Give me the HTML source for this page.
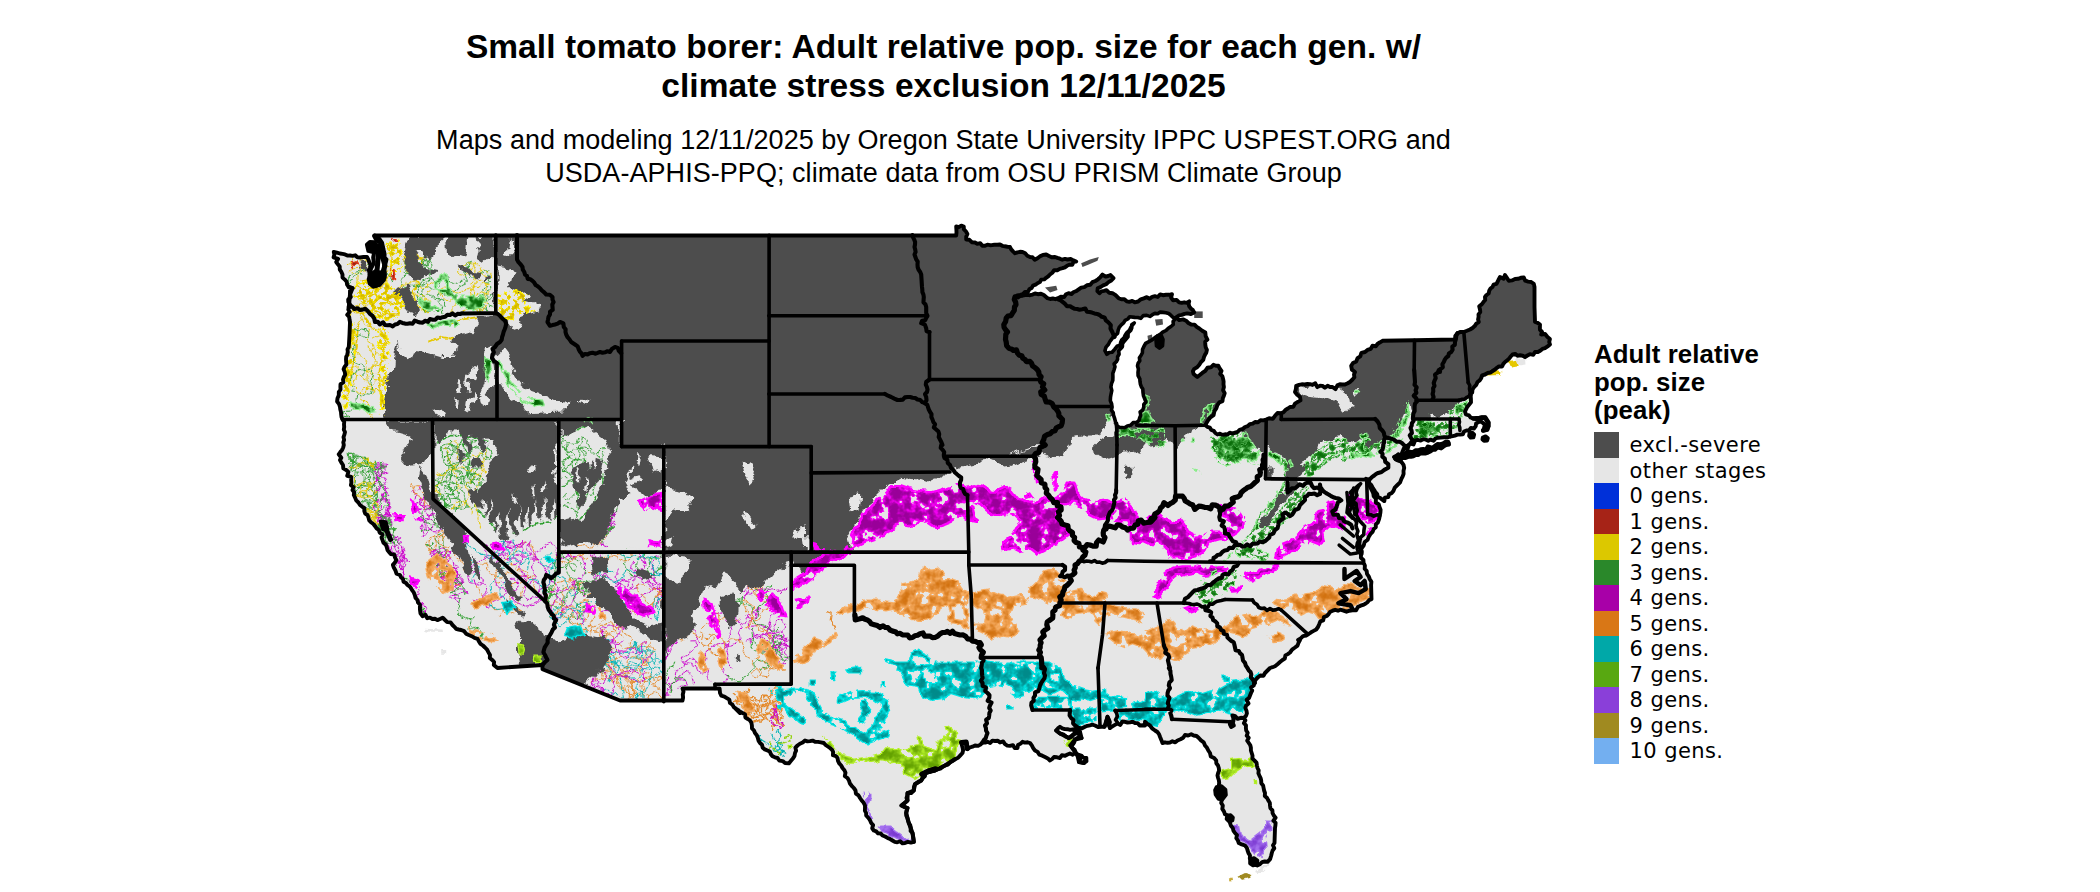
<!DOCTYPE html>
<html><head><meta charset="utf-8"><title>Small tomato borer map</title>
<style>
html,body{margin:0;padding:0;background:#fff;}
body{width:2100px;height:892px;position:relative;overflow:hidden;font-family:"Liberation Sans",sans-serif;color:#000;}
.t{position:absolute;left:0;width:1887px;text-align:center;white-space:nowrap;}
.title{font-weight:bold;font-size:33.5px;line-height:39px;top:27px;letter-spacing:0.056px;}
.sub{font-size:27px;line-height:33px;top:123.5px;letter-spacing:0.05px;}
.lt{position:absolute;left:1594px;top:340px;font-weight:bold;font-size:25.8px;line-height:28px;letter-spacing:0.1px;white-space:nowrap;}
.key{position:absolute;left:1594px;width:25px;height:25.6px;}
.lab{position:absolute;left:1629.5px;margin-top:1px;font-family:"DejaVu Sans",sans-serif;font-size:21px;line-height:25.6px;letter-spacing:0.42px;white-space:nowrap;}
svg{position:absolute;left:0;top:0;}
</style></head><body>
<div class="t title">Small tomato borer: Adult relative pop. size for each gen. w/<br>climate stress exclusion 12/11/2025</div>
<div class="t sub">Maps and modeling 12/11/2025 by Oregon State University IPPC USPEST.ORG and<br>USDA-APHIS-PPQ; climate data from OSU PRISM Climate Group</div>
<div class="lt">Adult relative<br>pop. size<br>(peak)</div>

<div class="key" style="top:432.0px;background:#4d4d4d"></div><div class="lab" style="top:432.0px">excl.-severe</div>
<div class="key" style="top:457.5px;background:#e6e6e6"></div><div class="lab" style="top:457.5px">other stages</div>
<div class="key" style="top:483.0px;background:#0030d9"></div><div class="lab" style="top:483.0px">0 gens.</div>
<div class="key" style="top:508.5px;background:#a62317"></div><div class="lab" style="top:508.5px">1 gens.</div>
<div class="key" style="top:534.0px;background:#dcc800"></div><div class="lab" style="top:534.0px">2 gens.</div>
<div class="key" style="top:559.5px;background:#2a882a"></div><div class="lab" style="top:559.5px">3 gens.</div>
<div class="key" style="top:585.0px;background:#a800a8"></div><div class="lab" style="top:585.0px">4 gens.</div>
<div class="key" style="top:610.5px;background:#d97716"></div><div class="lab" style="top:610.5px">5 gens.</div>
<div class="key" style="top:636.0px;background:#00a8a8"></div><div class="lab" style="top:636.0px">6 gens.</div>
<div class="key" style="top:661.5px;background:#58a811"></div><div class="lab" style="top:661.5px">7 gens.</div>
<div class="key" style="top:687.0px;background:#8a3fd9"></div><div class="lab" style="top:687.0px">8 gens.</div>
<div class="key" style="top:712.5px;background:#a08a20"></div><div class="lab" style="top:712.5px">9 gens.</div>
<div class="key" style="top:738.0px;background:#73aff0"></div><div class="lab" style="top:738.0px">10 gens.</div>
<svg width="2100" height="892" viewBox="0 0 2100 892">
<defs><clipPath id="us"><path d="M333.8 252.0 L340.0 253.5 L350.0 255.5 L360.0 257.5 L367.0 257.0 L370.5 264.5 L369.5 273.2 L371.5 282.0 L375.8 286.0 L381.5 281.5 L385.0 274.5 L384.0 265.8 L386.5 259.5 L384.0 251.5 L381.5 245.0 L376.5 240.5 L374.2 235.5 L956.2 235.5 L956.2 226.5 L963.8 226.5 L966.2 239.5 L975.0 242.5 L985.0 245.8 L992.5 245.0 L1000.0 244.5 L1010.0 247.0 L1015.0 253.2 L1022.5 252.0 L1030.0 257.0 L1037.5 258.2 L1046.2 254.5 L1055.0 257.0 L1067.5 259.5 L1076.2 261.5 L1062.5 268.2 L1050.0 274.5 L1037.5 283.2 L1025.0 292.0 L1015.0 297.0 L1025.0 295.0 L1035.0 293.5 L1043.8 295.0 L1047.5 298.2 L1058.1 298.2 L1066.1 294.2 L1076.2 291.2 L1084.3 287.1 L1092.4 282.1 L1100.4 277.1 L1110.5 275.0 L1113.5 278.1 L1108.5 282.1 L1100.4 287.1 L1097.4 291.2 L1099.4 293.2 L1106.5 290.2 L1112.5 293.2 L1118.6 298.2 L1126.7 301.3 L1134.7 302.3 L1140.8 299.3 L1146.8 297.2 L1154.9 296.2 L1163.0 295.2 L1172.0 294.2 L1173.1 300.3 L1179.1 302.3 L1189.2 301.3 L1189.2 306.3 L1194.2 312.4 L1187.2 313.4 L1179.1 315.4 L1176.1 317.4 L1183.1 319.4 L1191.2 324.5 L1199.3 328.5 L1205.3 332.5 L1207.4 339.6 L1205.3 344.6 L1206.3 352.7 L1203.3 359.8 L1199.3 364.8 L1194.2 368.9 L1193.6 373.9 L1197.3 376.9 L1202.3 372.9 L1207.4 367.8 L1213.4 364.8 L1218.4 365.8 L1221.5 370.9 L1223.1 378.9 L1223.9 387.0 L1224.7 393.1 L1222.5 401.1 L1217.4 405.2 L1214.4 411.2 L1210.4 417.3 L1206.3 423.3 L1205.3 425.3 L1213.8 430.8 L1217.5 434.5 L1227.5 434.5 L1237.5 432.0 L1245.0 427.0 L1255.0 422.0 L1266.2 419.5 L1275.0 415.8 L1281.2 413.2 L1290.0 407.0 L1297.5 402.0 L1300.0 397.0 L1295.0 392.0 L1296.2 385.8 L1307.5 384.0 L1320.0 385.8 L1332.5 387.0 L1345.0 384.5 L1352.5 379.5 L1355.0 372.0 L1351.2 365.8 L1357.5 358.2 L1365.0 352.0 L1372.5 345.8 L1382.5 340.8 L1414.5 340.2 L1455.0 339.5 L1457.5 333.2 L1463.8 332.0 L1470.0 329.5 L1478.8 322.0 L1480.0 309.5 L1485.0 297.0 L1492.5 287.0 L1500.0 277.0 L1505.0 275.0 L1508.8 280.8 L1515.0 279.0 L1523.8 277.5 L1531.2 282.0 L1534.5 287.0 L1534.5 307.0 L1535.0 322.0 L1540.0 324.5 L1541.2 334.5 L1547.5 337.0 L1550.0 344.5 L1545.0 348.2 L1535.0 352.0 L1525.0 357.0 L1512.5 354.5 L1505.0 362.0 L1495.0 369.5 L1485.0 374.5 L1477.5 382.0 L1472.5 389.5 L1470.0 394.5 L1470.6 395.2 L1471.0 402.3 L1467.0 407.3 L1465.0 411.4 L1469.0 415.4 L1473.1 418.4 L1479.1 418.0 L1485.2 417.4 L1488.4 422.5 L1487.2 429.5 L1483.1 430.5 L1484.8 424.5 L1481.1 421.4 L1476.1 423.5 L1474.1 428.5 L1469.0 430.5 L1464.0 431.5 L1459.9 434.6 L1454.9 435.6 L1450.3 436.6 L1440.8 437.6 L1430.7 439.6 L1420.6 440.6 L1410.5 443.6 L1399.0 455.2 L1411.0 452.0 L1423.2 449.0 L1435.3 445.4 L1448.0 441.6 L1449.0 444.6 L1435.3 449.8 L1423.2 453.6 L1411.0 456.8 L1397.4 459.8 L1394.0 457.0 L1398.4 454.7 L1395.4 458.8 L1400.4 460.8 L1403.5 464.8 L1403.5 470.9 L1401.4 478.9 L1397.4 485.0 L1393.4 491.0 L1388.3 497.1 L1384.3 501.1 L1380.3 498.1 L1377.2 494.1 L1374.2 490.0 L1371.2 485.0 L1369.2 479.9 L1367.7 480.2 L1370.7 488.2 L1373.7 496.3 L1378.8 504.4 L1380.4 512.5 L1379.8 515.5 L1377.8 522.5 L1372.7 531.6 L1367.7 539.7 L1363.6 545.7 L1361.0 549.2 L1361.0 554.8 L1363.6 562.9 L1366.7 571.0 L1369.7 579.0 L1371.1 585.1 L1371.5 599.2 L1360.6 605.7 L1352.5 610.3 L1346.5 611.7 L1340.4 609.7 L1330.3 611.7 L1320.3 621.4 L1316.2 629.5 L1306.1 635.5 L1298.1 639.9 L1300.0 640.0 L1295.0 647.5 L1290.0 652.5 L1282.5 660.0 L1275.0 666.2 L1270.0 668.0 L1265.0 673.0 L1256.2 679.2 L1253.8 685.5 L1250.0 695.5 L1246.2 705.5 L1243.8 718.0 L1246.2 730.5 L1248.8 743.0 L1252.5 755.5 L1257.5 768.0 L1261.2 780.5 L1265.0 793.0 L1270.0 805.5 L1273.8 815.5 L1275.0 828.0 L1274.5 843.0 L1271.2 855.5 L1267.5 861.8 L1260.0 864.2 L1252.5 863.0 L1250.0 855.5 L1245.0 845.5 L1238.8 843.0 L1235.0 833.0 L1230.0 823.0 L1231.2 816.8 L1225.0 814.2 L1221.2 803.0 L1220.0 796.8 L1216.2 791.8 L1218.8 785.5 L1217.5 775.5 L1218.8 768.0 L1216.2 760.5 L1210.0 753.0 L1205.0 745.5 L1198.8 738.0 L1191.2 734.2 L1185.0 735.0 L1177.5 740.5 L1170.0 742.5 L1162.5 743.0 L1160.0 736.8 L1155.0 730.5 L1150.0 725.5 L1145.0 721.8 L1145.0 725.5 L1135.0 723.0 L1125.0 721.8 L1117.5 723.5 L1110.0 728.0 L1107.5 716.8 L1104.5 726.8 L1095.0 725.5 L1085.0 726.8 L1078.8 728.0 L1075.0 731.8 L1067.5 729.2 L1060.0 726.8 L1056.2 730.5 L1060.0 733.5 L1068.8 738.0 L1073.8 734.2 L1080.0 732.0 L1081.5 738.0 L1075.0 739.5 L1070.5 745.5 L1077.5 755.5 L1079.0 762.0 L1084.0 763.0 L1086.2 758.0 L1081.2 755.5 L1075.0 753.0 L1067.5 754.5 L1060.0 758.0 L1054.0 757.0 L1050.0 760.5 L1045.0 757.0 L1035.0 750.5 L1030.0 743.0 L1022.5 741.8 L1017.5 748.0 L1005.0 744.2 L995.0 741.0 L982.5 742.5 L975.0 745.5 L967.5 749.2 L966.2 742.0 L961.5 743.0 L962.5 753.0 L955.0 759.2 L945.0 765.5 L935.0 770.5 L925.0 773.0 L921.2 780.5 L915.0 784.2 L913.8 790.5 L907.5 793.0 L907.5 800.5 L901.5 805.5 L907.5 808.0 L906.2 813.0 L908.8 823.0 L912.5 833.0 L913.8 841.8 L905.0 843.0 L892.5 840.5 L882.5 835.5 L873.8 830.5 L871.2 823.0 L866.2 815.5 L865.0 805.5 L860.0 798.0 L853.8 788.0 L847.5 778.0 L842.5 768.0 L837.5 758.0 L830.0 748.0 L823.8 743.0 L815.0 741.8 L805.0 740.5 L797.5 745.5 L795.0 753.0 L791.2 760.5 L785.0 763.0 L777.5 758.0 L767.5 750.5 L760.0 743.0 L755.0 733.0 L750.0 720.5 L742.5 713.0 L735.0 708.0 L740.0 713.0 L730.0 703.0 L720.0 693.0 L715.0 688.5 L682.5 688.5 L682.5 700.5 L620.0 700.5 L542.5 669.2 L542.5 665.0 L497.5 668.0 L493.8 665.0 L490.0 655.0 L485.0 647.5 L477.5 638.8 L468.8 635.0 L461.2 630.0 L452.5 625.0 L445.0 620.0 L435.0 618.8 L422.5 616.2 L420.0 610.0 L417.5 600.0 L413.8 592.5 L407.5 585.0 L400.0 575.0 L393.8 567.5 L395.0 557.5 L387.5 550.0 L382.5 540.0 L378.8 530.0 L371.2 522.5 L367.5 515.0 L360.0 505.0 L353.8 495.0 L351.2 480.0 L346.2 470.0 L340.0 460.0 L343.8 445.0 L345.0 432.0 L342.5 419.5 L340.0 407.0 L337.5 398.2 L340.5 389.5 L343.8 377.0 L346.2 362.0 L348.8 347.0 L349.5 334.5 L350.0 322.0 L348.8 307.0 L350.0 294.5 L352.5 288.2 L348.8 287.0 L342.5 274.5 L336.2 262.0Z"/></clipPath>
<filter id="tex-mag" x="0" y="0" width="2100" height="892" filterUnits="userSpaceOnUse" color-interpolation-filters="sRGB"><feTurbulence type="fractalNoise" baseFrequency="0.1" numOctaves="3" seed="2" result="n"/><feColorMatrix in="n" type="matrix" values="1 0 0 0 0  1 0 0 0 0  1 0 0 0 0  0 0 0 0 1" result="m"/><feComponentTransfer in="m" result="t"><feFuncR type="table" tableValues="0 0 0 0 0.02 0.3 0.85 1 1 1 1"/><feFuncG type="table" tableValues="0 0 0 0 0.02 0.3 0.85 1 1 1 1"/><feFuncB type="table" tableValues="0 0 0 0 0.02 0.3 0.85 1 1 1 1"/></feComponentTransfer><feColorMatrix in="t" type="matrix" values="0.400 0 0 0 0.600  0.000 0 0 0 0.000  0.400 0 0 0 0.600  0 0 0 0 1" result="col"/><feColorMatrix in="n" type="matrix" values="0 0 0 0 0  0 0 0 0 0  0 0 0 0 0  -25 0 0 0 16.7" result="hm"/><feDisplacementMap in="SourceGraphic" in2="n" scale="7" xChannelSelector="G" yChannelSelector="B" result="disp"/><feMorphology in="disp" operator="erode" radius="1.6" result="inner"/><feComposite in="col" in2="inner" operator="in" result="r1"/><feMerge result="r2"><feMergeNode in="disp"/><feMergeNode in="r1"/></feMerge><feComposite in="r2" in2="hm" operator="in"/></filter><filter id="tex-org" x="0" y="0" width="2100" height="892" filterUnits="userSpaceOnUse" color-interpolation-filters="sRGB"><feTurbulence type="fractalNoise" baseFrequency="0.1" numOctaves="3" seed="5" result="n"/><feColorMatrix in="n" type="matrix" values="1 0 0 0 0  1 0 0 0 0  1 0 0 0 0  0 0 0 0 1" result="m"/><feComponentTransfer in="m" result="t"><feFuncR type="table" tableValues="0 0 0 0.1 0.3 0.62 0.95 1 1 1 1"/><feFuncG type="table" tableValues="0 0 0 0.1 0.3 0.62 0.95 1 1 1 1"/><feFuncB type="table" tableValues="0 0 0 0.1 0.3 0.62 0.95 1 1 1 1"/></feComponentTransfer><feColorMatrix in="t" type="matrix" values="0.145 0 0 0 0.824  0.235 0 0 0 0.447  0.329 0 0 0 0.063  0 0 0 0 1" result="col"/><feColorMatrix in="n" type="matrix" values="0 0 0 0 0  0 0 0 0 0  0 0 0 0 0  -25 0 0 0 16.7" result="hm"/><feDisplacementMap in="SourceGraphic" in2="n" scale="7" xChannelSelector="G" yChannelSelector="B" result="disp"/><feMorphology in="disp" operator="erode" radius="1.4" result="inner"/><feComposite in="col" in2="inner" operator="in" result="r1"/><feMerge result="r2"><feMergeNode in="disp"/><feMergeNode in="r1"/></feMerge><feComposite in="r2" in2="hm" operator="in"/></filter><filter id="tex-teal" x="0" y="0" width="2100" height="892" filterUnits="userSpaceOnUse" color-interpolation-filters="sRGB"><feTurbulence type="fractalNoise" baseFrequency="0.1" numOctaves="3" seed="8" result="n"/><feColorMatrix in="n" type="matrix" values="1 0 0 0 0  1 0 0 0 0  1 0 0 0 0  0 0 0 0 1" result="m"/><feComponentTransfer in="m" result="t"><feFuncR type="table" tableValues="0 0 0 0.03 0.15 0.45 0.9 1 1 1 1"/><feFuncG type="table" tableValues="0 0 0 0.03 0.15 0.45 0.9 1 1 1 1"/><feFuncB type="table" tableValues="0 0 0 0.03 0.15 0.45 0.9 1 1 1 1"/></feComponentTransfer><feColorMatrix in="t" type="matrix" values="0.000 0 0 0 0.000  0.361 0 0 0 0.541  0.361 0 0 0 0.541  0 0 0 0 1" result="col"/><feColorMatrix in="n" type="matrix" values="0 0 0 0 0  0 0 0 0 0  0 0 0 0 0  -25 0 0 0 16.7" result="hm"/><feDisplacementMap in="SourceGraphic" in2="n" scale="7" xChannelSelector="G" yChannelSelector="B" result="disp"/><feMorphology in="disp" operator="erode" radius="1.3" result="inner"/><feComposite in="col" in2="inner" operator="in" result="r1"/><feMerge result="r2"><feMergeNode in="disp"/><feMergeNode in="r1"/></feMerge><feComposite in="r2" in2="hm" operator="in"/></filter><filter id="tex-lime" x="0" y="0" width="2100" height="892" filterUnits="userSpaceOnUse" color-interpolation-filters="sRGB"><feTurbulence type="fractalNoise" baseFrequency="0.1" numOctaves="3" seed="11" result="n"/><feColorMatrix in="n" type="matrix" values="1 0 0 0 0  1 0 0 0 0  1 0 0 0 0  0 0 0 0 1" result="m"/><feComponentTransfer in="m" result="t"><feFuncR type="table" tableValues="0 0 0 0.05 0.2 0.5 0.9 1 1 1 1"/><feFuncG type="table" tableValues="0 0 0 0.05 0.2 0.5 0.9 1 1 1 1"/><feFuncB type="table" tableValues="0 0 0 0.05 0.2 0.5 0.9 1 1 1 1"/></feComponentTransfer><feColorMatrix in="t" type="matrix" values="0.322 0 0 0 0.384  0.314 0 0 0 0.627  0.157 0 0 0 0.000  0 0 0 0 1" result="col"/><feColorMatrix in="n" type="matrix" values="0 0 0 0 0  0 0 0 0 0  0 0 0 0 0  -25 0 0 0 16.7" result="hm"/><feDisplacementMap in="SourceGraphic" in2="n" scale="7" xChannelSelector="G" yChannelSelector="B" result="disp"/><feMorphology in="disp" operator="erode" radius="1.2" result="inner"/><feComposite in="col" in2="inner" operator="in" result="r1"/><feMerge result="r2"><feMergeNode in="disp"/><feMergeNode in="r1"/></feMerge><feComposite in="r2" in2="hm" operator="in"/></filter><filter id="tex-pur" x="0" y="0" width="2100" height="892" filterUnits="userSpaceOnUse" color-interpolation-filters="sRGB"><feTurbulence type="fractalNoise" baseFrequency="0.1" numOctaves="3" seed="14" result="n"/><feColorMatrix in="n" type="matrix" values="1 0 0 0 0  1 0 0 0 0  1 0 0 0 0  0 0 0 0 1" result="m"/><feComponentTransfer in="m" result="t"><feFuncR type="table" tableValues="0 0 0 0.1 0.3 0.6 0.95 1 1 1 1"/><feFuncG type="table" tableValues="0 0 0 0.1 0.3 0.6 0.95 1 1 1 1"/><feFuncB type="table" tableValues="0 0 0 0.1 0.3 0.6 0.95 1 1 1 1"/></feComponentTransfer><feColorMatrix in="t" type="matrix" values="0.173 0 0 0 0.478  0.231 0 0 0 0.220  0.125 0 0 0 0.816  0 0 0 0 1" result="col"/><feColorMatrix in="n" type="matrix" values="0 0 0 0 0  0 0 0 0 0  0 0 0 0 0  -25 0 0 0 16.7" result="hm"/><feDisplacementMap in="SourceGraphic" in2="n" scale="7" xChannelSelector="G" yChannelSelector="B" result="disp"/><feMorphology in="disp" operator="erode" radius="1.2" result="inner"/><feComposite in="col" in2="inner" operator="in" result="r1"/><feMerge result="r2"><feMergeNode in="disp"/><feMergeNode in="r1"/></feMerge><feComposite in="r2" in2="hm" operator="in"/></filter><filter id="tex-grn" x="0" y="0" width="2100" height="892" filterUnits="userSpaceOnUse" color-interpolation-filters="sRGB"><feTurbulence type="fractalNoise" baseFrequency="0.1" numOctaves="3" seed="17" result="n"/><feColorMatrix in="n" type="matrix" values="1 0 0 0 0  1 0 0 0 0  1 0 0 0 0  0 0 0 0 1" result="m"/><feComponentTransfer in="m" result="t"><feFuncR type="table" tableValues="0 0 0 0.05 0.15 0.45 0.9 1 1 1 1"/><feFuncG type="table" tableValues="0 0 0 0.05 0.15 0.45 0.9 1 1 1 1"/><feFuncB type="table" tableValues="0 0 0 0.05 0.15 0.45 0.9 1 1 1 1"/></feComponentTransfer><feColorMatrix in="t" type="matrix" values="0.565 0 0 0 0.000  0.541 0 0 0 0.392  0.565 0 0 0 0.000  0 0 0 0 1" result="col"/><feColorMatrix in="n" type="matrix" values="0 0 0 0 0  0 0 0 0 0  0 0 0 0 0  -25 0 0 0 16.7" result="hm"/><feDisplacementMap in="SourceGraphic" in2="n" scale="7" xChannelSelector="G" yChannelSelector="B" result="disp"/><feMorphology in="disp" operator="erode" radius="1.2" result="inner"/><feComposite in="col" in2="inner" operator="in" result="r1"/><feMerge result="r2"><feMergeNode in="disp"/><feMergeNode in="r1"/></feMerge><feComposite in="r2" in2="hm" operator="in"/></filter><filter id="tex-grn2" x="0" y="0" width="2100" height="892" filterUnits="userSpaceOnUse" color-interpolation-filters="sRGB"><feTurbulence type="fractalNoise" baseFrequency="0.17" numOctaves="3" seed="20" result="n"/><feColorMatrix in="n" type="matrix" values="1 0 0 0 0  1 0 0 0 0  1 0 0 0 0  0 0 0 0 1" result="m"/><feComponentTransfer in="m" result="t"><feFuncR type="table" tableValues="0 0 0 0.05 0.2 0.55 0.9 1 1 1 1"/><feFuncG type="table" tableValues="0 0 0 0.05 0.2 0.55 0.9 1 1 1 1"/><feFuncB type="table" tableValues="0 0 0 0.05 0.2 0.55 0.9 1 1 1 1"/></feComponentTransfer><feColorMatrix in="t" type="matrix" values="0.525 0 0 0 0.039  0.502 0 0 0 0.431  0.525 0 0 0 0.039  0 0 0 0 1" result="col"/><feColorMatrix in="n" type="matrix" values="0 0 0 0 0  0 0 0 0 0  0 0 0 0 0  -22 0 0 0 11.6" result="hm"/><feDisplacementMap in="SourceGraphic" in2="n" scale="7" xChannelSelector="G" yChannelSelector="B" result="disp"/><feMorphology in="disp" operator="erode" radius="0.8" result="inner"/><feComposite in="col" in2="inner" operator="in" result="r1"/><feMerge result="r2"><feMergeNode in="disp"/><feMergeNode in="r1"/></feMerge><feComposite in="r2" in2="hm" operator="in"/></filter><filter id="tex-yel" x="0" y="0" width="2100" height="892" filterUnits="userSpaceOnUse" color-interpolation-filters="sRGB"><feTurbulence type="fractalNoise" baseFrequency="0.2" numOctaves="3" seed="23" result="n"/><feColorMatrix in="n" type="matrix" values="1 0 0 0 0  1 0 0 0 0  1 0 0 0 0  0 0 0 0 1" result="m"/><feComponentTransfer in="m" result="t"><feFuncR type="table" tableValues="0 0 0.1 0.3 0.5 0.8 1 1 1 1 1"/><feFuncG type="table" tableValues="0 0 0.1 0.3 0.5 0.8 1 1 1 1 1"/><feFuncB type="table" tableValues="0 0 0.1 0.3 0.5 0.8 1 1 1 1 1"/></feComponentTransfer><feColorMatrix in="t" type="matrix" values="0.216 0 0 0 0.784  0.282 0 0 0 0.659  0.000 0 0 0 0.000  0 0 0 0 1" result="col"/><feColorMatrix in="n" type="matrix" values="0 0 0 0 0  0 0 0 0 0  0 0 0 0 0  -22 0 0 0 11.4" result="hm"/><feDisplacementMap in="SourceGraphic" in2="n" scale="7" xChannelSelector="G" yChannelSelector="B" result="disp"/><feMorphology in="disp" operator="erode" radius="1.0" result="inner"/><feComposite in="col" in2="inner" operator="in" result="r1"/><feMerge result="r2"><feMergeNode in="disp"/><feMergeNode in="r1"/></feMerge><feComposite in="r2" in2="hm" operator="in"/></filter><filter id="tex-olv" x="0" y="0" width="2100" height="892" filterUnits="userSpaceOnUse" color-interpolation-filters="sRGB"><feTurbulence type="fractalNoise" baseFrequency="0.1" numOctaves="3" seed="26" result="n"/><feColorMatrix in="n" type="matrix" values="1 0 0 0 0  1 0 0 0 0  1 0 0 0 0  0 0 0 0 1" result="m"/><feComponentTransfer in="m" result="t"><feFuncR type="table" tableValues="0 0 0 0 0.02 0.3 0.85 1 1 1 1"/><feFuncG type="table" tableValues="0 0 0 0 0.02 0.3 0.85 1 1 1 1"/><feFuncB type="table" tableValues="0 0 0 0 0.02 0.3 0.85 1 1 1 1"/></feComponentTransfer><feColorMatrix in="t" type="matrix" values="0.243 0 0 0 0.541  0.212 0 0 0 0.455  0.157 0 0 0 0.078  0 0 0 0 1" result="col"/><feColorMatrix in="n" type="matrix" values="0 0 0 0 0  0 0 0 0 0  0 0 0 0 0  -25 0 0 0 16.7" result="hm"/><feDisplacementMap in="SourceGraphic" in2="n" scale="7" xChannelSelector="G" yChannelSelector="B" result="disp"/><feMorphology in="disp" operator="erode" radius="0.8" result="inner"/><feComposite in="col" in2="inner" operator="in" result="r1"/><feMerge result="r2"><feMergeNode in="disp"/><feMergeNode in="r1"/></feMerge><feComposite in="r2" in2="hm" operator="in"/></filter><filter id="tex-red" x="0" y="0" width="2100" height="892" filterUnits="userSpaceOnUse" color-interpolation-filters="sRGB"><feTurbulence type="fractalNoise" baseFrequency="0.2" numOctaves="3" seed="29" result="n"/><feColorMatrix in="n" type="matrix" values="1 0 0 0 0  1 0 0 0 0  1 0 0 0 0  0 0 0 0 1" result="m"/><feComponentTransfer in="m" result="t"><feFuncR type="table" tableValues="0 0 0 0 0.02 0.3 0.85 1 1 1 1"/><feFuncG type="table" tableValues="0 0 0 0 0.02 0.3 0.85 1 1 1 1"/><feFuncB type="table" tableValues="0 0 0 0 0.02 0.3 0.85 1 1 1 1"/></feComponentTransfer><feColorMatrix in="t" type="matrix" values="0.329 0 0 0 0.549  0.118 0 0 0 0.118  0.059 0 0 0 0.059  0 0 0 0 1" result="col"/><feColorMatrix in="n" type="matrix" values="0 0 0 0 0  0 0 0 0 0  0 0 0 0 0  -25 0 0 0 16.7" result="hm"/><feDisplacementMap in="SourceGraphic" in2="n" scale="7" xChannelSelector="G" yChannelSelector="B" result="disp"/><feMorphology in="disp" operator="erode" radius="0.8" result="inner"/><feComposite in="col" in2="inner" operator="in" result="r1"/><feMerge result="r2"><feMergeNode in="disp"/><feMergeNode in="r1"/></feMerge><feComposite in="r2" in2="hm" operator="in"/></filter><filter id="rough" x="0" y="0" width="2100" height="892" filterUnits="userSpaceOnUse"><feTurbulence type="fractalNoise" baseFrequency="0.07" numOctaves="5" seed="7" result="n"/><feDisplacementMap in="SourceGraphic" in2="n" scale="13" xChannelSelector="R" yChannelSelector="G"/></filter><filter id="rough2" x="0" y="0" width="2100" height="892" filterUnits="userSpaceOnUse"><feTurbulence type="fractalNoise" baseFrequency="0.16" numOctaves="2" seed="3" result="n"/><feDisplacementMap in="SourceGraphic" in2="n" scale="8" xChannelSelector="R" yChannelSelector="G"/></filter><filter id="rough3" x="0" y="0" width="2100" height="892" filterUnits="userSpaceOnUse"><feTurbulence type="fractalNoise" baseFrequency="0.2" numOctaves="2" seed="11" result="n"/><feDisplacementMap in="SourceGraphic" in2="n" scale="4" xChannelSelector="R" yChannelSelector="G"/></filter>
</defs>
<path d="M333.8 252.0 L340.0 253.5 L350.0 255.5 L360.0 257.5 L367.0 257.0 L370.5 264.5 L369.5 273.2 L371.5 282.0 L375.8 286.0 L381.5 281.5 L385.0 274.5 L384.0 265.8 L386.5 259.5 L384.0 251.5 L381.5 245.0 L376.5 240.5 L374.2 235.5 L956.2 235.5 L956.2 226.5 L963.8 226.5 L966.2 239.5 L975.0 242.5 L985.0 245.8 L992.5 245.0 L1000.0 244.5 L1010.0 247.0 L1015.0 253.2 L1022.5 252.0 L1030.0 257.0 L1037.5 258.2 L1046.2 254.5 L1055.0 257.0 L1067.5 259.5 L1076.2 261.5 L1062.5 268.2 L1050.0 274.5 L1037.5 283.2 L1025.0 292.0 L1015.0 297.0 L1025.0 295.0 L1035.0 293.5 L1043.8 295.0 L1047.5 298.2 L1058.1 298.2 L1066.1 294.2 L1076.2 291.2 L1084.3 287.1 L1092.4 282.1 L1100.4 277.1 L1110.5 275.0 L1113.5 278.1 L1108.5 282.1 L1100.4 287.1 L1097.4 291.2 L1099.4 293.2 L1106.5 290.2 L1112.5 293.2 L1118.6 298.2 L1126.7 301.3 L1134.7 302.3 L1140.8 299.3 L1146.8 297.2 L1154.9 296.2 L1163.0 295.2 L1172.0 294.2 L1173.1 300.3 L1179.1 302.3 L1189.2 301.3 L1189.2 306.3 L1194.2 312.4 L1187.2 313.4 L1179.1 315.4 L1176.1 317.4 L1183.1 319.4 L1191.2 324.5 L1199.3 328.5 L1205.3 332.5 L1207.4 339.6 L1205.3 344.6 L1206.3 352.7 L1203.3 359.8 L1199.3 364.8 L1194.2 368.9 L1193.6 373.9 L1197.3 376.9 L1202.3 372.9 L1207.4 367.8 L1213.4 364.8 L1218.4 365.8 L1221.5 370.9 L1223.1 378.9 L1223.9 387.0 L1224.7 393.1 L1222.5 401.1 L1217.4 405.2 L1214.4 411.2 L1210.4 417.3 L1206.3 423.3 L1205.3 425.3 L1213.8 430.8 L1217.5 434.5 L1227.5 434.5 L1237.5 432.0 L1245.0 427.0 L1255.0 422.0 L1266.2 419.5 L1275.0 415.8 L1281.2 413.2 L1290.0 407.0 L1297.5 402.0 L1300.0 397.0 L1295.0 392.0 L1296.2 385.8 L1307.5 384.0 L1320.0 385.8 L1332.5 387.0 L1345.0 384.5 L1352.5 379.5 L1355.0 372.0 L1351.2 365.8 L1357.5 358.2 L1365.0 352.0 L1372.5 345.8 L1382.5 340.8 L1414.5 340.2 L1455.0 339.5 L1457.5 333.2 L1463.8 332.0 L1470.0 329.5 L1478.8 322.0 L1480.0 309.5 L1485.0 297.0 L1492.5 287.0 L1500.0 277.0 L1505.0 275.0 L1508.8 280.8 L1515.0 279.0 L1523.8 277.5 L1531.2 282.0 L1534.5 287.0 L1534.5 307.0 L1535.0 322.0 L1540.0 324.5 L1541.2 334.5 L1547.5 337.0 L1550.0 344.5 L1545.0 348.2 L1535.0 352.0 L1525.0 357.0 L1512.5 354.5 L1505.0 362.0 L1495.0 369.5 L1485.0 374.5 L1477.5 382.0 L1472.5 389.5 L1470.0 394.5 L1470.6 395.2 L1471.0 402.3 L1467.0 407.3 L1465.0 411.4 L1469.0 415.4 L1473.1 418.4 L1479.1 418.0 L1485.2 417.4 L1488.4 422.5 L1487.2 429.5 L1483.1 430.5 L1484.8 424.5 L1481.1 421.4 L1476.1 423.5 L1474.1 428.5 L1469.0 430.5 L1464.0 431.5 L1459.9 434.6 L1454.9 435.6 L1450.3 436.6 L1440.8 437.6 L1430.7 439.6 L1420.6 440.6 L1410.5 443.6 L1399.0 455.2 L1411.0 452.0 L1423.2 449.0 L1435.3 445.4 L1448.0 441.6 L1449.0 444.6 L1435.3 449.8 L1423.2 453.6 L1411.0 456.8 L1397.4 459.8 L1394.0 457.0 L1398.4 454.7 L1395.4 458.8 L1400.4 460.8 L1403.5 464.8 L1403.5 470.9 L1401.4 478.9 L1397.4 485.0 L1393.4 491.0 L1388.3 497.1 L1384.3 501.1 L1380.3 498.1 L1377.2 494.1 L1374.2 490.0 L1371.2 485.0 L1369.2 479.9 L1367.7 480.2 L1370.7 488.2 L1373.7 496.3 L1378.8 504.4 L1380.4 512.5 L1379.8 515.5 L1377.8 522.5 L1372.7 531.6 L1367.7 539.7 L1363.6 545.7 L1361.0 549.2 L1361.0 554.8 L1363.6 562.9 L1366.7 571.0 L1369.7 579.0 L1371.1 585.1 L1371.5 599.2 L1360.6 605.7 L1352.5 610.3 L1346.5 611.7 L1340.4 609.7 L1330.3 611.7 L1320.3 621.4 L1316.2 629.5 L1306.1 635.5 L1298.1 639.9 L1300.0 640.0 L1295.0 647.5 L1290.0 652.5 L1282.5 660.0 L1275.0 666.2 L1270.0 668.0 L1265.0 673.0 L1256.2 679.2 L1253.8 685.5 L1250.0 695.5 L1246.2 705.5 L1243.8 718.0 L1246.2 730.5 L1248.8 743.0 L1252.5 755.5 L1257.5 768.0 L1261.2 780.5 L1265.0 793.0 L1270.0 805.5 L1273.8 815.5 L1275.0 828.0 L1274.5 843.0 L1271.2 855.5 L1267.5 861.8 L1260.0 864.2 L1252.5 863.0 L1250.0 855.5 L1245.0 845.5 L1238.8 843.0 L1235.0 833.0 L1230.0 823.0 L1231.2 816.8 L1225.0 814.2 L1221.2 803.0 L1220.0 796.8 L1216.2 791.8 L1218.8 785.5 L1217.5 775.5 L1218.8 768.0 L1216.2 760.5 L1210.0 753.0 L1205.0 745.5 L1198.8 738.0 L1191.2 734.2 L1185.0 735.0 L1177.5 740.5 L1170.0 742.5 L1162.5 743.0 L1160.0 736.8 L1155.0 730.5 L1150.0 725.5 L1145.0 721.8 L1145.0 725.5 L1135.0 723.0 L1125.0 721.8 L1117.5 723.5 L1110.0 728.0 L1107.5 716.8 L1104.5 726.8 L1095.0 725.5 L1085.0 726.8 L1078.8 728.0 L1075.0 731.8 L1067.5 729.2 L1060.0 726.8 L1056.2 730.5 L1060.0 733.5 L1068.8 738.0 L1073.8 734.2 L1080.0 732.0 L1081.5 738.0 L1075.0 739.5 L1070.5 745.5 L1077.5 755.5 L1079.0 762.0 L1084.0 763.0 L1086.2 758.0 L1081.2 755.5 L1075.0 753.0 L1067.5 754.5 L1060.0 758.0 L1054.0 757.0 L1050.0 760.5 L1045.0 757.0 L1035.0 750.5 L1030.0 743.0 L1022.5 741.8 L1017.5 748.0 L1005.0 744.2 L995.0 741.0 L982.5 742.5 L975.0 745.5 L967.5 749.2 L966.2 742.0 L961.5 743.0 L962.5 753.0 L955.0 759.2 L945.0 765.5 L935.0 770.5 L925.0 773.0 L921.2 780.5 L915.0 784.2 L913.8 790.5 L907.5 793.0 L907.5 800.5 L901.5 805.5 L907.5 808.0 L906.2 813.0 L908.8 823.0 L912.5 833.0 L913.8 841.8 L905.0 843.0 L892.5 840.5 L882.5 835.5 L873.8 830.5 L871.2 823.0 L866.2 815.5 L865.0 805.5 L860.0 798.0 L853.8 788.0 L847.5 778.0 L842.5 768.0 L837.5 758.0 L830.0 748.0 L823.8 743.0 L815.0 741.8 L805.0 740.5 L797.5 745.5 L795.0 753.0 L791.2 760.5 L785.0 763.0 L777.5 758.0 L767.5 750.5 L760.0 743.0 L755.0 733.0 L750.0 720.5 L742.5 713.0 L735.0 708.0 L740.0 713.0 L730.0 703.0 L720.0 693.0 L715.0 688.5 L682.5 688.5 L682.5 700.5 L620.0 700.5 L542.5 669.2 L542.5 665.0 L497.5 668.0 L493.8 665.0 L490.0 655.0 L485.0 647.5 L477.5 638.8 L468.8 635.0 L461.2 630.0 L452.5 625.0 L445.0 620.0 L435.0 618.8 L422.5 616.2 L420.0 610.0 L417.5 600.0 L413.8 592.5 L407.5 585.0 L400.0 575.0 L393.8 567.5 L395.0 557.5 L387.5 550.0 L382.5 540.0 L378.8 530.0 L371.2 522.5 L367.5 515.0 L360.0 505.0 L353.8 495.0 L351.2 480.0 L346.2 470.0 L340.0 460.0 L343.8 445.0 L345.0 432.0 L342.5 419.5 L340.0 407.0 L337.5 398.2 L340.5 389.5 L343.8 377.0 L346.2 362.0 L348.8 347.0 L349.5 334.5 L350.0 322.0 L348.8 307.0 L350.0 294.5 L352.5 288.2 L348.8 287.0 L342.5 274.5 L336.2 262.0Z" fill="#e6e6e6"/>
<g clip-path="url(#us)"><g filter="url(#rough3)" fill="none" stroke-linecap="round" stroke-linejoin="round">
<path stroke="#e58a2c" stroke-width="1.2" d="M826.9 611.6 L831.2 613.3 L830.3 620.2 L834.9 628.8"/>
<path stroke="#00b3b3" stroke-width="1.2" stroke-dasharray="2 2" d="M760.0 738.8 L773.7 747.3 L785.7 757.6"/>
<path stroke="#8cd000" stroke-width="1.5" stroke-dasharray="2 2" d="M588.8 667.3 L585.5 677.1 L579.0 686.8"/>
<path stroke="#2e9e2e" stroke-width="1.3" stroke-dasharray="5 2" d="M1283.5 475.7 L1292.7 465.6 L1306.2 457.2 L1319.6 448.8 L1333.1 442.1 L1340.0 437.9"/>
<path stroke="#2e9e2e" stroke-width="1.3" stroke-dasharray="5 2" d="M1309.5 465.6 L1319.6 455.5 L1331.4 447.1 L1340.0 443.8"/>
<path stroke="#2e9e2e" stroke-width="1.3" stroke-dasharray="5 2" d="M1318.0 469.0 L1326.4 458.9 L1336.5 452.2"/>
<path stroke="#2e9e2e" stroke-width="1.3" stroke-dasharray="5 2" d="M1247.3 538.0 L1257.4 526.2 L1265.8 514.4 L1275.9 499.3 L1283.5 485.8 L1286.8 479.1"/>
<path stroke="#2e9e2e" stroke-width="1.3" stroke-dasharray="5 2" d="M1260.8 532.9 L1272.5 519.5 L1286.0 504.3 L1297.8 494.2 L1306.2 485.8"/>
<path stroke="#2e9e2e" stroke-width="1.3" stroke-dasharray="5 2" d="M1252.4 543.0 L1262.5 536.3 L1272.5 529.5"/>
<path stroke="#2e9e2e" stroke-width="1.3" stroke-dasharray="5 2" d="M1304.7 474.3 L1320.1 458.9 L1332.1 450.3 L1345.8 443.4"/>
<path stroke="#2e9e2e" stroke-width="1.3" stroke-dasharray="5 2" d="M1311.5 472.6 L1325.2 460.6 L1339.0 452.0 L1352.7 446.9"/>
<path stroke="#2e9e2e" stroke-width="1.3" stroke-dasharray="5 2" d="M1342.4 460.6 L1356.1 452.0 L1369.8 448.6 L1380.1 443.4"/>
<path stroke="#2e9e2e" stroke-width="1.3" stroke-dasharray="5 2" d="M1318.4 469.2 L1330.4 458.9 L1342.4 453.7"/>
<path stroke="#2e9e2e" stroke-width="1.3" stroke-dasharray="5 2" d="M1236.1 549.8 L1246.3 551.5 L1260.1 558.4 L1266.9 554.9"/>
<path stroke="#2e9e2e" stroke-width="1.3" stroke-dasharray="5 2" d="M1206.9 593.0 L1220.6 582.4 L1236.1 570.4"/>
<path stroke="#2e9e2e" stroke-width="1.3" stroke-dasharray="5 2" d="M1249.8 536.1 L1260.1 515.5 L1277.2 496.6 L1284.1 482.9"/>
<path stroke="#2e9e2e" stroke-width="1.3" stroke-dasharray="5 2" d="M1275.5 529.2 L1287.5 517.2 L1301.2 498.3 L1308.1 488.0"/>
<path stroke="#2e9e2e" stroke-width="1.6" stroke-dasharray="4 2" d="M478.2 510.1 L488.9 520.7 L499.5 535.6 L510.2 531.4 L518.7 533.5 L529.3 527.1 L540.0 522.9 L550.6 521.8 L557.0 516.5"/>
<path stroke="#2e9e2e" stroke-width="1.6" stroke-dasharray="4 2" d="M437.8 441.9 L450.6 435.6 L463.3 435.6 L476.1 437.7 L488.9 441.9"/>
<path stroke="#2e9e2e" stroke-width="1.6" stroke-dasharray="4 2" d="M561.3 437.7 L574.1 431.3 L586.8 424.9"/>
<path stroke="#2e9e2e" stroke-width="1.6" stroke-dasharray="4 2" d="M599.6 490.9 L593.2 503.7 L586.8 512.2 L574.1 525.0 L561.3 535.6"/>
<path stroke="#2e9e2e" stroke-width="1.6" stroke-dasharray="4 2" d="M446.3 452.6 L452.7 469.6 L448.4 486.7 L456.9 499.4"/>
<path stroke="#2e9e2e" stroke-width="1.6" stroke-dasharray="4 2" d="M463.3 444.1 L469.7 461.1 L467.6 478.1"/>
<path stroke="#2e9e2e" stroke-width="1.6" stroke-dasharray="4 2" d="M610.3 520.7 L616.7 510.1 L629.4 499.4 L637.9 495.2"/>
<path stroke="#2e9e2e" stroke-width="1.6" stroke-dasharray="4 2" d="M574.1 480.3 L578.3 495.2 L577.3 508.0"/>
<path stroke="#2e9e2e" stroke-width="1.6" stroke-dasharray="4 2" d="M650.7 459.0 L657.1 461.1 L661.4 471.8"/>
<path stroke="#e6c800" stroke-width="1.8" stroke-dasharray="5 2" d="M356.4 285.5 L369.8 292.3 L383.3 299.0 L392.3 303.5"/>
<path stroke="#e6c800" stroke-width="1.8" stroke-dasharray="5 2" d="M387.8 245.2 L392.3 258.6 L390.0 274.3 L381.1 287.8 L369.8 296.7"/>
<path stroke="#e6c800" stroke-width="1.8" stroke-dasharray="5 2" d="M358.6 323.7 L356.4 341.6 L354.1 359.5 L349.7 377.5 L347.4 395.4"/>
<path stroke="#e6c800" stroke-width="1.8" stroke-dasharray="5 2" d="M383.3 325.9 L385.5 341.6 L381.1 359.5 L378.8 377.5 L381.1 395.4"/>
<path stroke="#e6c800" stroke-width="1.8" stroke-dasharray="5 2" d="M414.7 251.9 L423.7 260.9 L414.7 274.3 L419.2 283.3 L412.4 292.3 L416.9 305.7 L428.1 312.4"/>
<path stroke="#e6c800" stroke-width="1.8" stroke-dasharray="5 2" d="M499.9 292.3 L511.1 290.0 L522.3 292.3 L533.5 303.5"/>
<path stroke="#e6c800" stroke-width="1.8" stroke-dasharray="5 2" d="M502.1 310.2 L511.1 314.7 L517.8 323.7"/>
<path stroke="#e6c800" stroke-width="1.8" stroke-dasharray="5 2" d="M363.1 281.1 L376.6 278.8 L387.8 269.8"/>
<path stroke="#e6c800" stroke-width="1.8" stroke-dasharray="5 2" d="M369.8 299.0 L374.3 310.2 L383.3 314.7 L399.0 313.6"/>
<path stroke="#e6c800" stroke-width="1.8" stroke-dasharray="5 2" d="M428.1 341.6 L441.6 337.1 L455.0 339.3"/>
<path stroke="#e6c800" stroke-width="1.8" stroke-dasharray="5 2" d="M450.6 323.7 L464.0 319.2 L479.7 316.9"/>
<path stroke="#e6c800" stroke-width="1.8" stroke-dasharray="5 2" d="M354.1 310.2 L363.1 314.7 L369.8 323.7"/>
<path stroke="#e58a2c" stroke-width="0.95" stroke-dasharray="3 1.5" d="M580.8 634.9 L583.5 633.7 L584.1 630.7 L584.4 627.7 L587.0 626.1 L589.9 625.3 L592.4 626.9 L595.4 626.1 L598.2 625.3 L600.3 623.1 L602.5 621.1 L605.1 619.5 L605.1 616.5 L603.6 613.9 L601.1 612.2 L600.6 609.3 L601.7 606.5 L600.9 603.6 L601.7 600.8 L600.5 598.0 L599.9 595.1 L597.5 593.3 L594.7 594.4 L591.9 593.3 L588.9 593.9 L586.8 596.0 L583.9 595.4 L582.1 593.0 L579.5 591.5 L579.1 588.6 L578.9 585.6 L579.8 582.7 L579.9 585.7 L579.0 588.5 L576.1 589.4 L573.4 588.0 L570.4 587.8 L567.5 588.4"/>
<path stroke="#e58a2c" stroke-width="0.95" stroke-dasharray="3 1.5" d="M484.9 558.6 L486.4 561.2 L487.4 564.1 L487.9 567.0 L487.1 569.9 L488.9 572.4 L491.2 574.2 L494.1 575.1 L496.5 576.9 L499.5 577.0 L502.5 577.0 L504.8 575.2 L506.0 572.4 L508.9 571.6 L511.4 573.4 L514.2 574.4 L517.2 574.8 L520.1 575.6 L523.1 575.8 L526.0 575.4 L528.6 576.8 L531.3 578.1 L533.3 580.3 L534.7 583.0 L533.5 585.7 L534.5 588.6 L536.7 590.6 L537.3 593.5"/>
<path stroke="#e58a2c" stroke-width="0.95" stroke-dasharray="3 1.5" d="M547.1 605.6 L550.0 605.2 L551.9 602.9 L554.6 601.7 L557.6 602.2 L559.4 604.6 L562.4 604.5 L564.4 606.8 L567.4 607.0 L570.3 606.2 L573.3 606.0 L575.4 608.2 L578.1 609.5 L578.8 612.4 L579.3 615.4 L580.8 618.0 L583.2 619.8 L586.2 619.9 L588.2 617.7 L588.4 614.7 L589.6 612.0 L592.6 611.5 L594.6 609.3 L594.1 606.3 L596.3 604.3 L598.6 602.4 L600.5 600.0"/>
<path stroke="#e58a2c" stroke-width="0.95" stroke-dasharray="3 1.5" d="M499.8 616.0 L502.0 613.9 L502.2 610.9 L504.7 609.4 L507.6 608.6 L510.5 609.6 L513.5 609.6 L516.0 608.0 L518.8 609.1 L521.4 610.6 L518.4 610.8 L515.5 611.5 L513.6 613.9 L510.9 612.5 L508.1 611.6 L505.3 612.9 L502.6 611.6 L500.2 609.8 L497.2 609.7 L494.2 609.6 L492.5 607.1 L491.9 604.2 L490.2 601.7 L487.6 600.2 L485.0 598.8 L484.1 595.9 L481.5 594.5 L480.2 591.8 L479.1 589.0 L476.6 587.4 L476.2 584.4"/>
<path stroke="#e58a2c" stroke-width="0.95" stroke-dasharray="3 1.5" d="M553.3 605.9 L550.3 605.9 L547.8 604.2 L546.6 601.4 L546.5 598.5 L547.3 595.6 L549.5 593.5 L551.1 590.9 L553.5 589.2 L555.0 586.6 L556.3 583.9 L558.9 582.3 L561.9 581.8 L564.4 580.2 L567.2 581.1 L569.7 582.8 L571.8 584.9 L574.8 584.3 L577.8 584.0 L580.2 582.3 L583.1 581.5 L580.3 582.5 L577.3 582.7 L574.7 581.1 L571.8 580.4 L569.2 578.9 L570.8 581.5 L573.1 583.4 L573.6 586.4 L571.9 588.9 L569.5 590.7 L566.7 589.7 L565.7 586.9"/>
<path stroke="#e58a2c" stroke-width="0.95" stroke-dasharray="3 1.5" d="M558.8 607.8 L557.8 610.6 L556.9 613.4 L555.0 615.8 L552.3 617.1 L549.3 617.0 L551.5 615.0 L554.1 613.4 L557.0 612.7 L559.8 611.6 L562.7 611.2 L565.5 612.4 L567.8 614.3 L569.1 617.0 L572.1 617.5 L574.7 616.1 L577.2 614.3 L580.0 613.4 L581.9 611.1 L584.5 609.6 L587.4 608.9 L588.6 606.1 L589.7 603.3 L589.1 600.4 L586.4 599.0 L583.5 599.7 L581.1 601.5 L580.1 604.3 L581.0 607.2"/>
<path stroke="#e58a2c" stroke-width="0.95" stroke-dasharray="3 1.5" d="M535.1 575.7 L532.2 576.2 L529.2 576.5 L527.2 574.3 L525.4 571.9 L522.8 570.3 L519.9 569.9 L516.9 569.5 L515.4 566.9 L513.0 565.1 L510.2 564.0 L507.4 565.2 L504.9 566.8 L502.2 568.1 L499.4 569.2 L496.7 570.5 L495.4 573.2 L494.8 576.1 L494.3 579.1 L495.5 581.8 L498.3 583.0 L501.0 581.8"/>
<path stroke="#e58a2c" stroke-width="0.95" stroke-dasharray="3 1.5" d="M622.5 624.7 L620.0 626.4 L617.2 627.5 L615.9 630.2 L613.9 632.4 L610.9 632.6 L608.0 633.5 L605.3 634.8 L603.6 637.3 L603.1 640.3 L600.5 641.6 L598.2 643.5 L595.2 642.9 L593.7 640.3 L592.8 637.4 L590.6 635.4 L591.0 632.4 L591.5 629.4 L591.4 626.4 L590.2 623.7 L591.9 621.2 L593.5 618.6 L593.9 615.7 L594.2 612.7 L592.3 610.3 L591.1 607.6 L589.6 605.0 L587.1 603.2 L586.0 600.5"/>
<path stroke="#e58a2c" stroke-width="0.95" stroke-dasharray="3 1.5" d="M646.4 640.1 L644.6 642.5 L641.9 643.8 L640.0 646.1 L638.2 648.5 L635.2 648.3 L632.2 648.0 L630.2 645.7 L630.3 642.7 L632.5 640.7 L632.0 637.7 L629.7 635.9 L626.7 635.1 L624.4 633.3 L622.5 631.0 L621.8 628.1 L619.0 626.9 L616.0 626.6 L613.3 625.3 L611.9 622.7 L609.1 621.6 L606.7 623.4 L604.1 625.0 L601.2 625.5 L599.4 627.9 L596.9 629.5 L595.8 632.3"/>
<path stroke="#e58a2c" stroke-width="0.95" stroke-dasharray="3 1.5" d="M574.9 628.2 L577.8 627.2 L580.4 628.6 L583.3 629.4 L586.3 629.6 L588.5 631.6 L591.5 632.1 L594.4 631.3 L597.1 632.4 L599.8 631.1 L602.7 631.7 L605.2 633.4 L607.9 634.7 L610.9 634.8 L613.4 636.4 L613.9 639.4 L616.2 641.3 L618.6 643.2 L620.7 645.2 L622.9 647.3 L625.7 648.4 L628.6 647.6 L631.6 647.3 L634.2 648.8 L637.0 647.7 L638.9 645.4 L641.8 644.6 L644.6 645.6 L647.0 647.5 L649.9 646.6 L652.8 647.1 L654.2 649.8 L652.6 652.3 L650.2 654.1 L650.1 657.1 L648.1 659.3 L647.6 662.3 L646.3 665.0 L643.4 665.6"/>
<path stroke="#e58a2c" stroke-width="0.95" stroke-dasharray="3 1.5" d="M536.9 560.6 L535.0 558.3 L533.9 555.5 L534.3 552.5 L533.3 549.7 L532.8 546.7 L530.4 545.0 L527.7 543.7 L525.3 541.9 L522.5 542.8 L521.2 545.5 L519.0 547.5 L516.8 549.6 L515.4 552.2 L513.2 554.3 L510.2 554.1 L507.8 555.9 L506.3 558.5 L504.5 560.9 L502.0 562.5"/>
<path stroke="#e58a2c" stroke-width="0.95" stroke-dasharray="3 1.5" d="M463.3 570.2 L464.8 567.6 L464.3 564.7 L462.4 562.4 L459.9 560.7 L458.5 558.0 L455.7 556.8 L453.8 554.5 L456.6 553.6 L459.6 553.7 L461.8 551.6 L461.9 548.6 L462.6 545.7 L463.1 548.6 L463.8 551.6 L465.4 554.1 L465.4 557.1 L467.8 558.9 L469.1 561.6 L472.1 562.2 L474.7 560.7 L477.5 561.9 L479.6 564.0 L482.5 564.7 L485.1 563.1 L487.9 564.3"/>
<path stroke="#e58a2c" stroke-width="0.95" stroke-dasharray="3 1.5" d="M589.7 645.0 L592.1 646.8 L592.9 649.7 L594.8 652.0 L594.3 655.0 L592.6 657.5 L593.5 654.6 L595.5 652.4 L596.8 649.7 L596.9 646.7 L597.8 643.8 L600.7 642.8 L603.1 641.1 L603.2 638.1 L605.7 636.5 L607.0 633.8 L606.4 630.8 L603.8 629.4 L601.0 630.6 L599.6 633.2 L599.8 636.2 L600.2 639.2 L598.1 641.4 L595.4 642.8 L593.3 644.9 L591.6 647.3 L590.8 650.2 L588.2 651.6 L585.4 650.5 L582.4 650.4 L583.2 647.5 L584.8 645.0 L583.9 642.1 L585.2 639.4 L588.0 638.3 L590.7 637.0"/>
<path stroke="#e58a2c" stroke-width="0.95" stroke-dasharray="3 1.5" d="M621.9 636.0 L620.4 633.5 L617.4 633.1 L615.7 630.7 L613.4 628.8 L613.4 625.8 L614.5 623.0 L616.4 620.7 L618.3 618.4 L621.3 618.3 L623.4 616.2 L626.2 614.9 L628.1 612.7 L630.7 611.2 L633.7 611.1 L634.9 613.8 L637.8 614.5 L640.7 613.6"/>
<path stroke="#e58a2c" stroke-width="0.95" stroke-dasharray="3 1.5" d="M526.5 579.9 L525.0 582.5 L522.1 582.8 L519.1 583.2 L516.3 582.0 L513.4 582.7 L511.4 584.9 L511.9 587.9 L511.7 590.9 L510.3 593.5 L510.1 596.5 L510.2 599.5 L510.6 602.5 L509.9 605.4 L511.1 608.1 L514.0 608.8 L515.9 611.1 L514.4 608.5 L515.5 605.7 L517.6 603.6 L518.4 600.7 L520.7 598.8 L520.9 595.8 L520.9 592.8 L521.9 590.0 L523.8 587.6 L525.6 585.2"/>
<path stroke="#e58a2c" stroke-width="0.95" stroke-dasharray="3 1.5" d="M584.5 652.0 L586.2 649.6 L588.0 647.1 L589.3 644.4 L590.7 641.8 L589.8 639.0 L587.8 636.7 L584.8 636.4 L581.9 635.9 L580.3 633.4 L579.2 630.6 L580.2 627.8 L579.6 624.8 L576.8 623.7 L574.1 622.4 L571.4 621.1 L568.9 619.5 L566.0 618.5 L563.5 616.8 L562.0 614.2 L562.9 611.4 L562.6 608.4 L562.0 605.4 L563.3 602.7 L563.0 599.8"/>
<path stroke="#cc00cc" stroke-width="0.95" stroke-dasharray="3 1.5" d="M474.3 579.9 L475.4 582.7 L477.5 584.9 L480.5 585.1 L482.6 583.0 L483.5 580.2 L482.0 577.6 L480.1 575.2 L478.6 572.6 L476.1 571.1 L473.2 572.1 L470.2 571.9 L468.2 574.1 L467.8 577.1 L468.7 580.0 L470.3 582.5 L473.2 583.2 L476.2 583.3 L479.1 582.4 L482.0 583.0 L484.9 583.9 L486.2 586.6 L486.7 589.5 L485.7 592.3 L484.2 595.0 L483.1 597.7 L480.5 599.3"/>
<path stroke="#cc00cc" stroke-width="0.95" stroke-dasharray="3 1.5" d="M602.9 629.8 L602.2 632.7 L602.6 635.6 L604.0 638.3 L606.8 639.3 L609.7 640.2 L612.7 640.2 L614.4 637.7 L616.4 635.4 L619.1 634.3 L619.8 631.4 L618.3 628.8 L619.5 626.0 L622.2 624.6 L624.6 622.8 L625.9 620.1 L628.9 619.5 L630.0 616.7 L631.3 614.0 L630.4 611.2 L628.1 609.3 L625.3 608.2 L622.4 609.0 L619.4 609.1 L617.2 611.1 L614.3 610.4 L611.3 611.0 L608.3 611.0 L605.4 610.3 L602.8 611.6 L599.8 611.4"/>
<path stroke="#cc00cc" stroke-width="0.95" stroke-dasharray="3 1.5" d="M541.3 595.0 L538.3 595.6 L535.5 596.5 L532.7 597.7 L530.2 599.3 L527.2 599.3 L525.2 597.0 L523.4 594.6 L524.3 591.7 L525.7 589.1 L524.8 586.2 L525.8 583.4 L526.3 580.4 L524.3 578.2 L524.9 575.3 L523.0 573.0 L521.4 570.4 L519.7 568.0 L520.2 565.0 L520.1 562.0 L518.4 559.5 L515.8 558.1 L512.8 558.3 L509.8 558.2 L506.9 558.9 L504.0 558.2 L501.1 558.9 L498.5 560.5 L497.1 563.1 L494.1 563.4 L491.6 561.8 L490.7 558.9 L490.6 555.9"/>
<path stroke="#cc00cc" stroke-width="0.95" stroke-dasharray="3 1.5" d="M534.2 558.3 L535.0 555.4 L533.5 552.8 L531.4 550.6 L530.7 547.7 L528.9 545.4 L529.4 542.4 L531.4 540.2 L529.8 542.7 L528.3 545.3 L526.6 547.8 L527.3 550.8 L529.5 552.8 L530.8 555.5 L533.6 556.5 L536.2 558.0 L538.3 560.1 L538.8 563.1 L541.5 564.4 L543.6 566.5 L545.1 569.1 L546.6 571.7 L548.1 574.3 L549.3 577.1 L549.4 580.1 L549.9 583.0 L548.6 585.8 L546.9 588.3 L543.9 588.6 L540.9 588.6 L539.0 590.9 L539.0 593.9 L539.5 596.8"/>
<path stroke="#cc00cc" stroke-width="0.95" stroke-dasharray="3 1.5" d="M510.1 543.5 L511.1 540.6 L509.3 543.1 L508.6 546.0 L506.0 547.4 L504.2 549.8 L501.6 551.3 L500.9 554.2 L498.9 556.4 L496.3 557.9 L493.6 556.7 L492.5 553.9 L492.5 550.9 L494.4 548.6 L497.1 547.4 L500.1 546.8 L502.2 544.7 L504.4 542.7 L507.4 542.8 L510.1 541.5 L512.7 542.9 L515.3 544.5 L518.1 545.5 L520.5 543.7 L522.5 541.4 L523.3 544.3 L521.7 546.9 L518.8 547.6 L515.8 547.5 L512.9 548.2 L511.3 550.7 L508.8 552.5 L506.2 554.0 L503.2 554.2 L500.4 555.2 L497.7 554.0"/>
<path stroke="#cc00cc" stroke-width="0.95" stroke-dasharray="3 1.5" d="M494.7 579.1 L496.7 581.3 L496.2 584.3 L498.1 586.6 L500.3 588.6 L503.3 588.9 L506.1 590.0 L508.6 591.6 L510.7 593.7 L512.2 596.4 L513.4 599.1 L515.0 601.6 L517.7 602.9 L520.5 604.1 L523.0 605.8 L526.0 606.0 L529.0 605.8 L530.8 603.4 L533.8 603.1 L536.5 601.7 L538.9 600.0 L539.6 597.1 L539.2 594.1 L539.0 591.1 L539.2 588.1 L539.0 585.1 L537.9 582.4 L535.1 581.3 L533.3 578.8 L530.8 577.1 L527.9 577.9 L525.6 576.0 L522.6 576.2 L519.6 576.3 L517.7 578.6 L517.4 581.6 L517.4 584.6 L518.1 587.5"/>
<path stroke="#cc00cc" stroke-width="0.95" stroke-dasharray="3 1.5" d="M639.4 654.4 L638.9 651.4 L636.1 650.2 L634.0 648.2 L631.0 648.2 L628.1 649.3 L625.7 651.0 L622.7 651.3 L619.7 651.1 L616.7 651.3 L614.0 652.6 L611.0 652.2 L608.4 653.7 L605.5 652.9 L602.7 651.8 L600.1 650.3 L599.2 647.4 L600.5 644.7 L601.0 641.7 L603.2 639.6 L603.7 636.7 L603.3 633.7 L601.1 631.7 L601.0 628.7 L603.4 626.9 L606.4 626.6 L608.9 624.9 L611.7 625.7 L614.7 626.4 L616.8 624.2 L619.8 624.8 L621.1 627.5 L623.9 628.5 L626.3 626.8"/>
<path stroke="#cc00cc" stroke-width="0.95" stroke-dasharray="3 1.5" d="M530.0 583.9 L531.4 581.2 L533.8 579.3 L535.2 576.7 L534.4 573.8 L533.6 571.0 L531.9 568.5 L531.5 565.5 L533.5 563.2 L534.9 560.6 L535.1 557.6 L535.3 554.6 L536.6 551.9 L539.1 550.4 L541.9 549.2 L544.0 547.1 L545.3 544.4 L548.1 543.1 L550.8 542.0 L552.3 544.6 L554.9 546.1 L556.9 548.4 L555.5 551.1 L556.4 553.9 L557.5 556.7 L555.8 559.2 L553.9 561.5 L552.6 564.2 L549.7 565.0 L548.3 567.6 L547.6 570.5 L545.4 572.5"/>
<path stroke="#cc00cc" stroke-width="0.95" stroke-dasharray="3 1.5" d="M525.8 542.1 L523.4 543.9 L520.4 543.7 L518.3 545.7 L515.3 545.2 L512.6 546.4 L509.6 545.9 L507.5 548.0 L505.4 550.1 L502.4 549.6 L499.6 548.6 L498.0 546.0 L496.3 543.6 L493.3 543.5 L491.0 545.4 L488.0 545.7 L485.0 546.1 L482.5 544.4 L482.3 541.4 L482.8 544.4 L482.8 547.4 L484.4 549.9 L486.4 552.2 L487.3 555.0 L486.2 557.9 L483.7 559.5 L481.5 561.5 L478.5 561.2 L476.6 563.6 L473.7 564.3 L471.9 566.7 L470.9 569.6"/>
<path stroke="#cc00cc" stroke-width="0.95" stroke-dasharray="3 1.5" d="M513.6 564.4 L516.6 564.3 L519.1 562.5 L521.2 560.4 L522.2 557.6 L523.0 554.7 L522.5 551.7 L523.1 548.8 L521.5 546.2 L518.6 545.3 L515.7 544.5 L513.3 546.2 L511.2 548.4 L508.2 548.6 L506.0 546.6 L503.0 546.2 L501.0 548.4 L498.1 549.0 L495.9 547.0 L494.1 544.6 L491.1 544.0"/>
<path stroke="#cc00cc" stroke-width="0.95" stroke-dasharray="3 1.5" d="M488.8 594.9 L489.3 597.9 L488.1 600.6 L489.0 603.5 L489.7 606.4 L487.8 608.7 L486.7 605.9 L484.0 604.7 L481.7 602.7 L479.1 601.4 L476.1 600.8 L473.2 600.3 L475.6 602.0 L478.6 602.3 L481.5 603.0 L484.4 602.3 L487.4 601.8 L490.3 602.7 L493.0 601.5 L495.7 600.1 L498.7 600.0 L500.2 597.4 L502.9 596.0 L505.2 594.2 L507.6 592.4 L510.4 591.1 L513.3 591.6 L515.6 589.6 L517.8 587.6 L517.6 584.6 L516.7 581.8 L514.9 579.3 L511.9 579.3 L509.2 580.5 L506.6 582.0 L503.6 582.6 L501.2 580.7"/>
<path stroke="#cc00cc" stroke-width="0.95" stroke-dasharray="3 1.5" d="M527.8 607.8 L529.7 605.5 L532.6 605.7 L535.5 604.8 L537.1 602.3 L540.1 601.9 L541.8 599.4 L543.2 596.8 L545.7 595.1 L548.3 593.5 L550.4 591.4 L553.4 591.7 L556.3 590.7 L559.2 590.1 L561.9 591.4 L564.8 590.5 L567.3 588.9 L569.8 587.2 L572.5 585.9 L574.0 583.3 L575.3 580.6 L574.5 583.5 L575.7 586.2 L574.3 588.8 L574.2 591.8 L575.5 594.6 L575.1 597.5 L573.3 600.0 L572.9 602.9 L570.7 605.0 L568.1 606.5 L565.9 608.5 L563.2 609.9 L561.5 612.4 L561.2 615.4 L558.9 617.3"/>
<path stroke="#cc00cc" stroke-width="0.95" stroke-dasharray="3 1.5" d="M487.2 557.6 L489.9 558.9 L492.4 557.4 L492.8 554.4 L494.9 552.2 L497.0 550.1 L500.0 549.9 L501.6 547.4 L503.7 545.2 L503.7 542.2 L503.6 545.2 L502.9 548.1 L503.8 551.0 L502.2 553.5 L502.7 556.4 L505.4 557.9 L507.3 560.2 L510.3 560.3 L512.4 558.2 L514.3 555.9 L516.8 554.2 L519.7 554.8 L522.1 556.6 L525.0 555.9 L528.0 556.1 L530.2 558.1 L533.2 558.1 L535.9 559.5 L538.9 559.6"/>
<path stroke="#00b3b3" stroke-width="0.95" stroke-dasharray="3 1.5" d="M512.7 540.2 L513.5 543.1 L515.0 545.7 L515.6 548.6 L513.7 551.0 L512.8 553.8 L511.3 556.4 L510.0 559.1 L510.7 562.0 L508.7 564.2 L506.2 565.8 L503.8 567.7 L501.4 569.5 L499.5 571.7 L499.1 574.7 L496.7 576.5 L495.9 579.4 L495.0 582.2 L492.3 583.4 L490.0 585.4 L490.4 588.4 L491.1 591.3 L491.5 594.3 L491.9 597.3 L489.8 599.4 L489.1 602.3 L490.0 605.2 L492.5 606.9 L494.8 608.8 L497.7 609.4 L500.7 609.0 L503.7 609.2 L506.3 607.6 L508.6 605.7"/>
<path stroke="#00b3b3" stroke-width="0.95" stroke-dasharray="3 1.5" d="M627.7 606.1 L624.7 605.5 L623.4 602.8 L620.6 601.8 L618.7 599.5 L616.1 597.9 L613.2 598.6 L610.2 598.5 L607.9 596.6 L606.0 594.3 L603.0 594.3 L601.2 591.9 L598.9 590.0 L597.2 587.5 L596.7 584.6 L594.8 586.9 L595.1 589.9 L597.6 591.5 L599.2 594.1 L601.2 596.3 L601.1 599.3 L603.4 601.3 L606.3 602.2 L609.1 601.2 L611.7 602.8 L612.9 605.5 L611.9 608.3 L610.8 611.1 L612.0 613.9 L613.7 616.4 L616.4 617.6 L619.0 616.2 L621.8 615.1 L623.9 612.9 L623.8 609.9 L623.9 606.9 L626.2 605.0 L629.1 605.6"/>
<path stroke="#00b3b3" stroke-width="0.95" stroke-dasharray="3 1.5" d="M564.0 596.0 L563.8 599.0 L561.9 601.3 L562.6 604.2 L561.1 606.8 L558.1 607.0 L556.0 609.2 L553.4 610.6 L552.1 613.4 L552.7 616.3 L551.0 618.8 L549.6 616.2 L551.8 618.3 L553.3 620.8 L555.7 622.7 L557.8 624.7 L558.5 627.7 L560.5 625.5 L563.1 623.9 L565.5 622.1 L567.5 619.9 L570.3 618.7 L571.3 615.9 L572.9 613.3 L574.2 610.6 L577.1 610.0 L580.0 611.0 L582.9 611.6 L585.7 610.7 L587.8 608.5 L590.4 607.0 L593.4 606.7"/>
<path stroke="#00b3b3" stroke-width="0.95" stroke-dasharray="3 1.5" d="M504.0 599.4 L502.5 596.7 L500.2 594.9 L499.8 591.9 L500.2 588.9 L501.7 586.3 L503.4 583.9 L505.3 581.6 L505.7 578.6 L503.5 576.6 L501.7 574.2 L499.7 571.9 L499.7 568.9 L501.7 566.7 L503.8 564.6 L506.3 562.9 L509.0 561.8 L510.0 558.9 L509.6 555.9 L509.4 552.9 L508.0 550.3 L506.0 548.1 L505.4 545.1 L503.7 542.7 L500.9 541.6 L503.7 540.7 L504.0 543.7 L501.8 545.7 L500.0 548.1 L499.3 551.0 L497.0 552.9 L494.4 554.4 L491.9 556.1 L489.0 555.4 L486.1 554.6 L483.1 554.8 L480.3 553.9 L478.4 551.6 L475.4 551.8"/>
<path stroke="#00b3b3" stroke-width="0.95" stroke-dasharray="3 1.5" d="M571.2 623.5 L569.0 621.3 L568.7 618.3 L566.2 616.8 L563.7 615.0 L561.2 613.4 L558.2 614.0 L556.1 616.1 L553.2 615.6 L551.2 613.3 L548.4 612.2 L550.8 614.1 L553.5 615.4 L555.7 617.4 L558.7 617.9 L561.6 617.1 L562.5 614.3 L564.3 611.9 L566.5 609.8 L569.3 609.0 L572.2 608.1 L575.0 607.0 L577.1 604.8 L579.9 603.9 L582.5 602.2 L585.2 601.1 L588.2 601.5 L591.2 601.6 L594.0 602.7 L596.6 601.3 L598.4 598.9 L601.2 598.0 L602.9 595.5"/>
<path stroke="#00b3b3" stroke-width="0.95" stroke-dasharray="3 1.5" d="M546.2 596.1 L545.9 593.1 L543.5 591.4 L542.3 588.6 L542.3 585.6 L543.0 582.7 L543.4 579.7 L544.6 576.9 L546.3 574.5 L549.2 574.0 L551.8 575.5 L554.8 575.4 L557.7 576.2 L560.7 576.6 L563.6 577.1 L565.0 579.7 L565.3 582.7 L567.2 585.0 L568.9 587.5 L568.5 590.4 L569.9 593.1 L571.9 595.3 L574.9 595.1 L576.6 592.7 L576.6 589.7 L578.6 587.4 L580.0 584.8 L582.7 583.4 L584.3 585.9 L587.1 586.9 L589.9 585.8 L592.7 587.1 L595.5 586.2"/>
<path stroke="#00b3b3" stroke-width="0.95" stroke-dasharray="3 1.5" d="M594.4 647.3 L592.1 649.3 L589.2 649.0 L586.9 647.1 L584.3 645.6 L582.3 643.3 L581.1 640.5 L582.1 637.7 L584.3 635.6 L586.1 633.3 L586.3 630.3 L585.4 627.4 L583.3 625.3 L582.1 622.6 L582.4 619.6 L581.0 617.0 L579.7 614.2 L580.4 611.3 L580.3 608.3 L578.1 606.3 L576.4 603.9"/>
<path stroke="#00b3b3" stroke-width="0.95" stroke-dasharray="3 1.5" d="M526.1 558.4 L525.1 561.3 L523.1 563.5 L520.1 563.3 L517.6 561.7 L515.8 559.3 L513.9 557.0 L513.8 554.0 L515.9 551.8 L518.7 550.8 L521.5 552.0 L524.2 553.2 L527.2 553.5 L528.6 556.2 L528.6 559.2 L529.4 562.1 L528.0 564.8 L527.9 567.8 L527.4 570.7"/>
<path stroke="#00b3b3" stroke-width="0.95" stroke-dasharray="3 1.5" d="M550.9 554.0 L547.9 553.8 L545.7 555.9 L543.1 557.3 L541.1 559.5 L541.4 562.5 L542.7 565.2 L545.4 566.5 L548.3 567.0 L550.6 568.9 L553.6 568.3 L556.6 568.4 L554.5 566.3 L554.6 563.3 L556.2 560.7 L553.6 562.3 L553.1 565.2 L552.6 568.2 L550.2 570.0 L549.1 572.8 L549.2 575.8 L549.8 578.8 L549.7 581.8 L549.1 584.7 L546.4 586.0 L543.7 587.2 L540.8 586.1 L539.3 583.6 L538.2 580.8 L535.3 579.8 L532.3 579.5 L529.4 579.8 L527.2 581.8 L524.6 583.3"/>
<path stroke="#00b3b3" stroke-width="0.95" stroke-dasharray="3 1.5" d="M471.8 581.6 L472.3 578.6 L473.8 576.1 L475.1 573.3 L477.9 572.2 L478.8 569.3 L478.0 566.4 L476.1 564.1 L473.4 562.8 L472.0 560.2 L470.5 557.6 L468.4 555.5 L466.2 553.4 L465.9 550.4 L466.1 547.4 L465.9 544.4 L466.7 541.5 L467.7 544.3 L469.1 547.0 L471.9 548.0 L474.8 548.6 L476.5 551.1 L479.0 552.8 L481.8 553.8 L484.4 555.3 L486.7 557.2 L489.7 557.4 L492.7 557.3 L495.4 558.5 L498.1 557.1 L498.9 554.2 L501.1 552.1 L504.1 552.2"/>
<path stroke="#cc00cc" stroke-width="0.95" stroke-dasharray="3 1.5" d="M442.6 560.5 L445.4 561.6 L448.4 561.2 L449.7 558.5 L449.7 555.5 L449.2 552.5 L450.9 550.1 L448.4 551.8 L445.6 550.6 L443.0 552.0 L440.1 552.7 L437.4 554.1 L434.5 554.6 L431.8 556.0 L434.0 554.0 L436.7 552.7 L439.5 553.7 L442.1 555.2 L445.1 554.6 L446.5 551.9 L449.4 551.4 L449.1 554.4 L446.6 556.0 L443.8 557.2 L440.8 557.0 L438.8 554.8 L436.0 553.7"/>
<path stroke="#cc00cc" stroke-width="0.95" stroke-dasharray="3 1.5" d="M422.8 506.2 L420.2 504.7 L418.8 502.0 L419.6 499.1 L422.2 497.7 L425.0 496.5 L422.4 498.1 L420.7 500.5 L420.5 503.5 L422.8 505.5 L425.7 506.1 L428.7 505.5 L431.6 506.2 L428.7 507.0 L427.2 509.6 L424.2 510.1 L421.6 508.6 L418.9 509.8 L416.3 508.3 L416.3 505.3 L418.0 502.8 L419.1 500.0 L421.7 498.5 L424.4 497.3 L427.2 498.5 L425.1 500.7 L423.5 503.3 L424.4 506.2 L427.1 507.4 L429.0 509.7 L432.0 509.5"/>
<path stroke="#cc00cc" stroke-width="0.95" stroke-dasharray="3 1.5" d="M458.9 602.9 L456.8 600.7 L454.7 598.6 L453.6 595.8 L455.3 593.3 L454.5 590.4 L451.7 589.5 L448.9 590.6 L446.5 592.3 L448.9 590.6 L450.7 588.2 L453.7 588.2 L455.4 585.7 L458.2 584.8 L460.1 582.5 L463.1 582.1 L461.0 584.2 L458.1 585.0 L455.8 583.0 L453.9 580.7 L451.0 580.0"/>
<path stroke="#cc00cc" stroke-width="0.95" stroke-dasharray="3 1.5" d="M446.0 557.0 L449.0 557.6 L451.4 559.4 L453.2 561.8 L453.8 564.7 L454.4 567.6 L456.9 569.3 L457.3 572.2 L457.3 575.2 L455.6 577.7 L454.1 580.3 L455.1 583.1 L458.0 584.0 L460.7 582.6 L462.2 580.0 L460.8 577.3 L460.0 574.4 L459.4 577.4 L457.1 579.3 L454.7 581.1 L451.8 580.2"/>
<path stroke="#cc00cc" stroke-width="0.95" stroke-dasharray="3 1.5" d="M437.3 564.4 L437.6 567.3 L439.2 564.8 L442.1 564.3 L444.2 566.4 L447.1 567.2 L450.1 566.7 L453.1 566.5 L455.0 568.8 L457.4 570.6 L457.6 573.6 L455.8 576.0 L454.0 578.3 L451.6 580.1 L448.7 579.4 L446.6 577.1 L443.9 575.9 L442.6 573.2 L440.0 571.8 L437.1 571.0 L435.9 568.3 L436.7 565.4 L436.4 562.4 L435.0 559.8 L434.1 556.9 L435.3 554.2 L437.4 552.0"/>
<path stroke="#cc00cc" stroke-width="0.95" stroke-dasharray="3 1.5" d="M435.6 549.8 L432.6 550.0 L430.7 552.3 L430.6 555.3 L430.9 552.3 L433.6 550.9 L436.6 551.1 L439.4 552.0 L441.1 554.5 L440.0 557.3 L440.3 560.3 L438.7 562.8 L438.4 565.8 L435.7 567.2 L436.3 564.2 L435.4 561.4 L433.3 559.3 L431.1 557.2 L433.8 555.8 L436.7 556.2 L439.7 556.8 L442.4 555.6 L445.2 554.3 L446.2 551.5 L445.0 548.8 L442.1 547.8 L439.3 548.8 L436.4 549.4 L433.6 550.5 L432.6 553.3 L429.9 554.6"/>
<path stroke="#cc00cc" stroke-width="0.95" stroke-dasharray="3 1.5" d="M422.3 524.2 L423.0 527.1 L421.4 529.6 L421.3 526.6 L421.8 523.7 L424.2 521.8 L427.0 520.8 L429.3 518.9 L429.1 515.9 L431.2 513.7 L434.2 513.5 L431.9 515.4 L428.9 515.4 L426.4 513.7 L425.0 511.1 L424.0 508.2 L422.2 505.9 L419.5 504.5 L416.6 503.9 L413.6 504.3 L413.8 501.3 L415.2 498.7 L415.8 495.7 L414.4 493.1 L411.9 491.4 L414.7 490.2 L417.6 490.7 L420.1 488.9 L421.2 486.1"/>
<path stroke="#cc00cc" stroke-width="0.95" stroke-dasharray="3 1.5" d="M430.2 510.3 L432.5 508.4 L432.7 511.4 L434.7 513.7 L431.7 514.2 L429.2 515.8 L427.8 518.5 L426.4 521.1 L427.3 524.0 L426.9 527.0 L428.8 529.3 L431.7 529.7 L434.1 531.6 L437.1 531.9 L439.8 530.5 L441.1 527.9 L440.3 525.0 L439.2 522.2"/>
<path stroke="#cc00cc" stroke-width="0.95" stroke-dasharray="3 1.5" d="M460.7 598.6 L457.7 598.1 L454.8 597.7 L451.8 598.1 L449.3 596.5 L452.0 595.3 L455.0 595.2 L458.0 594.9 L460.0 592.7 L463.0 592.2 L465.9 591.7 L468.1 593.8 L466.7 591.2 L464.3 589.3 L461.3 589.0 L458.3 588.6 L456.0 586.7 L455.3 583.8 L455.4 580.8 L453.5 578.5 L451.2 576.7 L448.3 577.5 L445.7 579.0 L442.9 577.9 L439.9 577.7 L442.9 577.9 L445.2 576.1 L448.1 575.2 L449.4 572.5 L448.9 569.6 L448.8 566.6 L446.8 564.4 L447.2 561.5 L447.3 558.5"/>
<path stroke="#cc00cc" stroke-width="0.95" stroke-dasharray="3 1.5" d="M420.7 519.6 L423.6 519.3 L426.5 518.5 L429.5 519.2 L432.0 520.8 L433.5 523.4 L432.6 526.2 L430.7 528.6 L428.3 530.4 L428.1 533.4 L425.6 535.0 L423.0 536.6 L423.9 533.7 L422.8 530.9 L425.2 529.2 L425.2 526.2 L424.9 523.2 L423.3 520.6 L422.7 517.7 L421.9 514.8 L420.1 512.5 L417.8 510.5 L415.4 508.6 L418.1 507.3 L421.0 508.3 L423.9 508.9"/>
<path stroke="#cc00cc" stroke-width="0.95" stroke-dasharray="3 1.5" d="M448.1 575.4 L450.3 573.5 L450.4 570.5 L452.1 568.0 L454.8 566.7 L456.4 564.2 L457.3 567.0 L456.0 569.7 L456.4 572.7 L458.7 574.5 L456.1 575.9 L454.6 578.5 L454.1 581.5 L451.4 582.8 L448.4 582.8 L445.8 581.4 L443.4 579.6 L441.5 577.2 L444.5 577.0 L447.3 575.8 L450.1 576.6 L453.1 577.0 L454.9 579.4 L457.9 579.2 L459.7 581.6 L462.7 581.9 L460.2 583.5 L457.4 582.3 L455.4 580.0 L456.1 577.1 L458.7 575.6"/>
<path stroke="#cc00cc" stroke-width="0.95" stroke-dasharray="3 1.5" d="M448.0 577.5 L445.0 578.0 L442.1 577.4 L441.4 574.5 L442.4 571.6 L445.3 570.8 L447.8 572.5 L447.7 575.5 L449.6 577.9 L449.6 580.9 L451.2 583.5 L450.4 586.4 L450.0 589.3 L447.6 591.1 L450.2 589.6 L452.7 588.0 L455.2 586.3 L458.0 585.2 L460.3 583.3 L460.9 580.4 L459.5 577.7 L456.6 576.9 L453.7 576.0"/>
<path stroke="#2e9e2e" stroke-width="0.95" stroke-dasharray="3 1.5" d="M451.8 586.6 L453.2 583.9 L456.1 583.2 L458.8 582.0 L461.8 582.3 L461.7 585.3 L459.7 587.4 L457.0 588.9 L454.5 590.5 L451.8 591.7 L449.0 592.9 L452.0 592.3 L454.2 594.4 L457.1 594.8 L459.5 596.7 L459.5 599.7 L459.0 602.6 L458.4 605.6 L458.6 608.6 L458.8 611.5 L458.6 614.5 L460.7 616.7 L463.5 617.8 L466.2 619.1 L469.2 618.6 L472.2 618.9 L474.4 616.9"/>
<path stroke="#2e9e2e" stroke-width="0.95" stroke-dasharray="3 1.5" d="M433.5 543.1 L431.8 545.6 L428.8 545.7 L426.1 544.4 L429.0 545.1 L430.6 547.6 L433.5 548.0 L435.6 550.2 L437.3 552.7 L440.0 554.0 L441.4 556.6 L440.1 559.3 L437.5 560.9 L437.0 563.8 L435.1 566.1 L438.0 565.1 L440.8 564.2 L443.5 565.5 L445.6 567.6 L445.1 570.6 L444.1 573.4 L442.6 576.0 L439.8 577.1 L438.4 574.5 L441.4 574.9 L444.4 574.7 L446.4 572.5 L448.7 570.5 L450.0 567.8 L452.4 566.0"/>
<path stroke="#2e9e2e" stroke-width="0.95" stroke-dasharray="3 1.5" d="M472.1 633.1 L473.6 630.6 L475.4 628.1 L477.8 626.3 L477.4 629.3 L478.8 631.9 L481.7 632.8 L482.2 635.7 L482.9 638.6 L482.0 635.8 L480.7 633.0 L481.0 630.1 L478.8 628.0 L476.1 626.8 L473.3 627.8 L470.4 628.6 L467.4 629.1 L469.6 627.1 L471.3 624.5 L471.9 621.6 L470.3 619.1 L467.6 617.9 L464.8 616.8"/>
<path stroke="#2e9e2e" stroke-width="0.95" stroke-dasharray="3 1.5" d="M461.0 576.2 L458.9 578.3 L456.0 578.8 L453.2 577.6 L451.2 575.4 L448.3 574.5 L445.5 575.3 L442.5 575.5 L440.0 573.8 L439.1 571.0 L440.6 568.4 L440.5 565.4 L440.5 562.4 L442.3 559.9 L443.1 557.1 L445.8 555.8 L446.8 552.9 L445.7 550.1 L443.7 547.9 L443.5 544.9 L442.8 542.0 L443.5 539.0 L442.0 536.4 L440.0 534.2 L437.0 534.7 L435.2 537.1 L435.4 540.1 L437.9 541.9 L439.0 544.7 L439.4 547.7 L439.7 550.6 L438.0 553.1 L436.0 555.3"/>
<path stroke="#2e9e2e" stroke-width="0.95" stroke-dasharray="3 1.5" d="M432.2 521.8 L434.8 523.3 L436.9 525.5 L439.5 527.0 L436.5 527.0 L434.3 524.9 L434.4 521.9 L434.5 518.9 L433.3 516.2 L432.9 513.2 L432.0 510.3 L429.6 508.5 L426.6 508.9 L423.8 509.8 L422.2 512.3 L421.9 515.3 L419.3 516.8 L422.0 518.2 L424.6 519.6 L426.1 522.2 L429.0 523.2 L431.4 524.9 L431.5 527.9 L429.9 530.5 L426.9 530.6 L424.0 529.9 L421.0 530.5"/>
<path stroke="#2e9e2e" stroke-width="0.95" stroke-dasharray="3 1.5" d="M448.4 580.7 L449.7 578.0 L449.8 575.0 L450.2 572.0 L448.8 569.3 L446.1 568.2 L443.5 569.7 L440.8 571.1 L437.9 571.9 L438.7 569.0 L441.4 567.8 L443.3 565.5 L446.3 565.8 L449.0 567.1 L450.8 569.5 L451.7 572.4 L453.3 574.9 L455.2 577.2 L456.5 579.9 L459.0 581.6 L461.5 583.3 L463.2 585.8 L463.2 588.8 L464.2 591.6 L467.0 592.7 L464.5 594.4"/>
<path stroke="#e58a2c" stroke-width="0.95" stroke-dasharray="3 1.5" d="M434.0 562.0 L434.2 559.0 L436.8 557.5 L439.6 558.6 L442.0 560.3 L443.6 562.9 L445.0 565.5 L444.3 568.5 L442.6 570.9 L443.1 573.9 L442.7 576.9 L444.9 579.0 L447.6 580.3 L450.5 580.7 L452.3 583.1 L455.0 584.3 L458.0 584.7 L460.9 585.6"/>
<path stroke="#e58a2c" stroke-width="0.95" stroke-dasharray="3 1.5" d="M437.5 533.3 L439.9 531.6 L442.7 530.4 L443.6 533.2 L442.2 535.9 L439.7 537.5 L438.5 540.3 L438.8 543.2 L441.0 545.3 L443.5 547.0 L446.5 547.3 L449.4 547.8 L447.4 550.1 L446.4 552.9 L445.9 555.9 L445.1 558.8 L442.7 560.5 L441.0 563.0 L439.4 565.5 L439.3 568.5 L438.8 571.5 L440.2 574.2 L441.7 571.6 L441.3 568.6 L439.5 566.3 L439.4 563.3 L441.7 561.3 L444.4 560.2 L447.3 559.4 L449.4 557.2 L452.4 557.4"/>
<path stroke="#e58a2c" stroke-width="0.95" stroke-dasharray="3 1.5" d="M430.3 506.3 L427.8 504.6 L425.8 502.4 L423.8 500.1 L421.0 499.0 L419.8 496.3 L416.9 495.3 L414.3 493.8 L413.2 491.0 L412.9 488.0 L410.4 486.4 L411.4 483.5 L413.0 486.0 L412.1 488.9 L413.8 486.4 L416.7 485.7 L419.7 485.8 L419.4 488.8 L421.6 490.8 L424.1 492.5 L424.1 495.5 L424.6 498.4 L424.2 501.4 L424.6 504.4 L424.0 507.3 L424.3 510.3"/>
<path stroke="#e58a2c" stroke-width="0.95" stroke-dasharray="3 1.5" d="M428.4 550.1 L431.3 549.7 L434.3 549.5 L436.0 547.0 L436.5 544.0 L435.9 541.1 L434.4 538.5 L431.8 536.9 L429.0 537.8 L428.2 540.7 L426.0 542.8 L426.3 545.8 L428.3 548.0 L430.1 550.4 L430.2 553.4 L430.1 550.4 L430.6 547.5 L429.0 544.9 L429.9 542.1 L430.9 539.2 L432.9 537.1 L435.6 535.7 L438.6 536.1 L441.5 536.8 L444.5 536.3 L442.9 538.8 L442.6 541.8"/>
<path stroke="#cc00cc" stroke-width="0.95" stroke-dasharray="3 1.5" d="M376.9 474.3 L375.9 477.1 L376.5 480.0 L376.3 483.0 L373.9 484.8 L374.7 481.9 L377.4 480.8 L378.3 477.9 L380.9 476.3 L382.5 473.8 L382.1 470.9 L379.8 469.0 L377.0 468.1 L375.2 465.7 L378.1 465.1 L381.1 465.4 L384.1 464.9 L387.1 464.7 L384.5 466.3 L381.6 466.9 L378.7 467.9 L376.4 469.8 L377.3 466.9 L377.0 463.9 L378.4 461.3 L379.2 464.2 L379.6 467.2 L379.8 470.2 L377.9 472.5 L375.2 473.7"/>
<path stroke="#cc00cc" stroke-width="0.95" stroke-dasharray="3 1.5" d="M382.0 537.0 L384.5 535.3 L387.1 533.9 L390.1 534.2 L392.4 536.2 L395.1 537.4 L398.1 537.8 L395.1 537.6 L393.0 539.8 L393.1 542.7 L394.6 545.4 L394.9 548.4 L397.4 550.0 L398.9 552.6 L401.3 554.5 L403.3 556.7 L404.4 559.5 L405.8 562.1 L406.0 565.1 L404.0 567.4 L402.8 570.1 L399.9 571.0 L401.6 568.5 L403.2 565.9 L403.2 562.9 L402.0 560.2 L402.2 557.2 L401.8 554.2 L403.7 551.9 L405.4 554.3 L402.6 555.3 L401.1 558.0 L400.1 560.8 L398.7 563.4 L396.4 565.4"/>
<path stroke="#cc00cc" stroke-width="0.95" stroke-dasharray="3 1.5" d="M386.9 473.1 L384.0 473.8 L381.0 474.1 L378.5 475.6 L378.4 478.6 L378.8 481.6 L379.9 484.4 L380.7 487.3 L378.9 489.7 L376.4 491.2 L373.7 492.7 L376.3 491.1 L376.6 488.1 L379.0 486.3 L382.0 485.9 L384.3 487.8 L385.3 490.6 L386.9 493.2 L388.9 495.4 L386.1 496.4 L385.0 499.2 L386.5 501.8 L389.2 503.2 L388.0 505.9 L389.4 508.6 L388.4 511.4 L389.8 514.1 L391.8 516.3 L388.8 516.4 L385.9 515.7 L383.3 517.2 L381.6 519.7 L380.8 522.6 L380.8 525.6"/>
<path stroke="#cc00cc" stroke-width="0.95" stroke-dasharray="3 1.5" d="M378.9 514.0 L380.5 516.5 L383.5 516.6 L385.3 519.0 L387.0 521.5 L389.8 522.3 L392.6 523.4 L391.4 526.2 L388.5 526.8 L385.9 525.3 L384.1 522.9 L381.4 521.6 L378.4 521.1 L380.9 519.4 L383.5 517.9 L386.5 518.0 L389.3 517.1 L391.3 514.8 L388.3 514.6 L386.2 512.4 L385.7 509.5 L387.1 506.8 L389.5 505.0 L390.1 508.0 L387.5 509.4 L387.1 512.4 L388.1 515.3 L390.2 517.4 L391.4 520.1 L390.0 522.7 L388.8 525.5 L386.0 526.4 L383.6 524.5 L383.7 521.5 L382.9 518.6 L380.7 516.6"/>
<path stroke="#cc00cc" stroke-width="0.95" stroke-dasharray="3 1.5" d="M386.7 491.0 L384.8 493.3 L382.4 495.2 L382.7 498.1 L380.7 500.4 L379.5 503.1 L377.6 505.4 L374.6 506.0 L372.9 508.5 L373.4 505.5 L374.3 508.4 L375.5 511.1 L376.0 514.1 L378.5 515.8 L378.8 518.7 L377.7 521.6 L378.1 518.6 L376.2 516.3 L378.8 517.8 L381.5 516.6 L384.4 515.9 L387.3 515.0 L390.3 515.0 L387.3 515.7 L384.5 516.5 L382.0 514.8 L379.0 515.0 L376.0 515.0 L377.6 512.5 L380.2 510.9 L380.9 508.0 L383.0 505.8"/>
<path stroke="#cc00cc" stroke-width="0.95" stroke-dasharray="3 1.5" d="M374.2 493.5 L376.1 491.2 L379.1 490.5 L380.4 487.8 L382.8 486.1 L385.8 486.6 L388.4 488.0 L385.8 486.5 L384.7 483.8 L385.7 481.0 L384.6 478.2 L382.0 476.7 L379.4 475.3 L378.4 472.4 L379.2 469.5 L380.5 466.8 L383.0 465.2 L384.0 462.4 L386.1 464.4 L386.0 467.4 L384.7 470.2 L383.3 472.8 L382.1 475.5 L379.5 477.2 L376.6 476.6 L374.3 478.5 L375.4 475.7 L376.3 472.9 L374.6 470.4 L375.0 467.5"/>
<path stroke="#cc00cc" stroke-width="0.95" stroke-dasharray="3 1.5" d="M389.8 540.0 L392.7 539.1 L395.7 539.3 L397.7 541.5 L397.3 544.5 L398.3 547.3 L399.0 550.2 L397.1 552.6 L394.2 553.3 L392.5 555.7 L392.9 558.7 L393.6 561.6 L396.3 562.9 L399.3 562.7 L401.2 560.4 L403.7 558.7 L406.7 558.7 L408.8 560.8 L405.8 561.2 L402.9 560.6 L400.3 562.0 L397.4 561.2 L396.3 558.4 L393.8 556.7 L393.7 553.7 L393.0 550.7 L392.3 547.8 L394.2 545.6 L397.2 545.0 L399.1 542.8 L400.8 540.2 L401.8 543.0"/>
<path stroke="#cc00cc" stroke-width="0.95" stroke-dasharray="3 1.5" d="M393.2 558.3 L395.8 556.8 L397.4 554.2 L400.2 553.4 L401.5 550.7 L401.5 547.7 L402.9 550.3 L402.8 553.3 L400.9 555.7 L397.9 556.3 L395.0 555.8 L393.5 553.2 L391.5 550.9 L389.7 548.5 L388.0 546.0 L386.3 543.6 L383.8 541.9 L386.8 542.3"/>
<path stroke="#cc00cc" stroke-width="0.95" stroke-dasharray="3 1.5" d="M378.0 501.0 L375.1 501.6 L378.0 501.0 L380.6 499.5 L383.4 498.3 L386.1 499.6 L389.1 499.5 L388.4 502.5 L389.3 505.3 L387.3 507.6 L387.8 510.5 L389.9 512.7 L387.4 514.4 L384.4 514.6 L381.8 516.0 L379.1 517.5 L377.9 520.2 L377.5 523.2 L379.7 525.2 L382.6 525.9 L384.9 523.8 L387.7 523.0"/>
<path stroke="#cc00cc" stroke-width="0.95" stroke-dasharray="3 1.5" d="M399.5 538.0 L398.2 540.7 L398.6 543.6 L400.4 546.0 L403.3 546.9 L404.7 549.5 L404.9 552.5 L403.6 549.8 L402.0 552.3 L403.2 555.1 L403.7 558.1 L402.0 560.5 L400.6 563.2 L401.8 565.9 L402.1 568.9 L403.1 571.8 L404.0 574.6 L402.2 577.0 L403.9 574.5 L402.8 571.7 L400.4 570.0 L400.6 567.0 L400.0 564.1 L398.4 561.5 L399.7 558.8 L399.9 555.8"/>
<path stroke="#cc00cc" stroke-width="0.95" stroke-dasharray="3 1.5" d="M386.1 488.8 L384.7 491.5 L383.3 494.1 L383.6 497.1 L383.9 500.1 L386.6 501.5 L389.6 501.5 L389.8 504.5 L388.3 507.1 L387.8 510.0 L388.9 512.8 L389.5 515.8 L390.0 518.7 L388.9 521.5 L387.1 523.9 L384.4 525.3 L381.5 524.4 L378.5 524.2"/>
<path stroke="#cc00cc" stroke-width="0.95" stroke-dasharray="3 1.5" d="M418.4 587.9 L418.9 590.9 L419.1 593.9 L417.5 596.4 L418.6 599.2 L418.7 602.2 L417.1 604.7 L419.9 603.8 L422.9 603.7 L425.1 605.7 L426.7 608.3 L425.7 611.1 L425.3 614.1 L422.4 613.9 L422.6 610.9 L421.3 608.2 L418.9 606.4 L420.7 604.0 L423.7 603.8 L421.5 605.8 L419.1 607.6 L421.1 605.3 L424.0 604.6 L421.7 606.6 L418.8 607.3 L420.2 604.6"/>
<path stroke="#2e9e2e" stroke-width="0.95" stroke-dasharray="3 1.5" d="M386.1 537.1 L385.1 534.3 L384.0 531.5 L381.2 530.3 L380.1 527.5 L382.0 529.9 L381.3 532.8 L383.4 535.0 L385.6 537.0 L386.2 540.0 L384.2 542.2 L382.8 539.5 L385.0 541.6 L387.9 542.2 L390.7 543.3 L393.5 542.2 L396.4 541.3 L398.9 543.0 L401.8 542.6 L398.8 542.9 L396.5 541.1 L395.0 538.5 L392.4 537.0 L391.7 534.1"/>
<path stroke="#2e9e2e" stroke-width="0.95" stroke-dasharray="3 1.5" d="M381.3 514.2 L382.9 516.7 L383.2 519.7 L381.5 522.2 L382.0 525.1 L380.1 527.4 L382.9 526.6 L385.2 524.6 L386.9 522.1 L388.0 519.4 L391.0 518.8 L389.2 521.2 L387.8 523.8 L387.6 526.8 L389.9 528.8 L392.8 528.6 L395.3 530.2 L392.6 529.1 L389.6 529.4 L387.1 531.1 L384.5 532.6 L383.4 535.4 L382.9 538.4 L385.7 537.2 L388.6 537.9"/>
<path stroke="#2e9e2e" stroke-width="0.95" stroke-dasharray="3 1.5" d="M383.0 485.5 L383.4 488.4 L384.2 491.3 L385.9 493.8 L386.1 496.8 L386.8 499.7 L387.1 502.7 L388.9 505.1 L386.0 505.8 L383.5 507.6 L381.6 509.9 L378.7 510.6 L376.7 512.8 L377.4 515.8 L376.0 518.4 L376.3 515.4 L375.0 512.7 L377.6 514.2 L380.2 515.7 L382.6 517.5 L385.4 518.6 L387.6 520.7 L389.6 522.8 L390.2 525.8 L388.7 528.4 L389.5 531.3 L388.1 533.9 L387.3 536.8 L385.7 539.3 L384.5 542.1"/>
<path stroke="#2e9e2e" stroke-width="0.95" stroke-dasharray="3 1.5" d="M423.4 612.5 L424.4 615.3 L423.7 612.4 L423.4 609.4 L420.8 608.0 L423.4 609.4 L424.7 612.1 L423.9 615.0 L424.1 612.0 L422.2 609.7 L424.9 608.5 L421.9 607.9 L419.5 606.2 L417.7 603.8 L417.3 600.8 L416.7 597.9 L416.4 594.9 L413.8 593.3 L412.5 590.6 L410.0 589.0 L409.5 586.0 L409.9 583.1 L409.2 580.2 L406.7 578.5 L403.7 578.3 L406.7 578.6"/>
<path stroke="#2e9e2e" stroke-width="0.95" stroke-dasharray="3 1.5" d="M379.5 471.1 L376.8 472.4 L375.1 474.8 L377.6 476.5 L377.6 479.5 L378.9 482.2 L381.1 484.2 L381.5 487.2 L383.3 489.6 L385.0 492.1 L386.4 494.7 L384.1 496.6 L381.3 497.8 L380.5 500.7 L381.4 503.5 L380.1 506.2 L378.1 508.4 L378.4 511.4 L380.2 513.8 L382.3 515.9 L384.9 517.4 L387.5 518.9 L389.4 521.2 L390.1 524.1 L391.6 526.7 L393.6 529.0 L396.5 528.6 L393.9 530.0 L393.3 533.0 L392.7 535.9 L393.9 538.7 L393.5 541.6 L394.9 544.3"/>
<path stroke="#2e9e2e" stroke-width="0.95" stroke-dasharray="3 1.5" d="M375.9 463.7 L375.2 460.8 L376.1 463.7 L374.7 466.4 L377.6 465.5 L380.1 467.1 L383.0 467.8 L385.8 466.7 L383.0 465.7 L380.5 467.4 L377.6 468.3 L375.0 469.8 L378.0 470.0 L379.8 467.6 L380.5 464.7 L380.3 461.7 L381.9 464.3 L380.8 467.1 L381.4 470.0 L382.9 472.6 L382.4 475.6 L380.3 477.7 L378.5 480.1 L379.2 483.0 L380.1 485.9"/>
<path stroke="#2e9e2e" stroke-width="0.95" stroke-dasharray="3 1.5" d="M370.5 494.8 L373.4 494.4 L376.4 494.1 L374.3 496.3 L372.0 498.2 L369.3 499.5 L368.7 502.4 L368.8 505.4 L367.8 508.2 L367.0 511.1 L365.3 508.6 L366.9 506.1 L368.6 503.7 L371.6 503.3 L374.6 503.5 L377.1 505.2 L374.1 504.5 L371.6 506.2 L370.0 508.7 L367.5 510.4 L369.2 507.9 L368.5 505.0 L366.5 502.7 L363.7 501.9 L360.7 502.4 L362.8 500.3 L365.8 500.3 L368.0 502.3 L371.0 501.9 L373.8 500.8 L376.6 499.6 L377.2 496.7 L377.4 493.7"/>
<path stroke="#2e9e2e" stroke-width="0.95" stroke-dasharray="3 1.5" d="M375.5 522.8 L376.0 525.7 L379.0 526.0 L382.0 525.7 L379.5 527.4 L377.1 529.1 L380.0 528.8 L383.0 528.7 L380.1 529.2 L377.5 527.7 L380.5 527.4 L380.6 530.4 L382.3 532.8 L381.5 535.7 L381.2 532.7 L381.5 529.7 L379.1 527.9 L379.9 525.0"/>
<path stroke="#2e9e2e" stroke-width="0.95" stroke-dasharray="3 1.5" d="M361.9 484.2 L359.9 486.4 L357.0 487.2 L354.2 486.2 L357.2 486.6 L359.9 485.4 L362.9 485.7 L365.9 485.5 L368.4 483.7 L371.2 484.7 L374.2 485.1 L371.2 485.2 L368.3 486.1 L365.3 486.1 L362.9 487.9 L359.9 487.7 L357.2 489.0 L356.5 491.9"/>
<path stroke="#2e9e2e" stroke-width="0.95" stroke-dasharray="3 1.5" d="M352.6 460.4 L349.8 461.6 L348.8 458.8 L348.1 455.9 L349.1 453.1 L347.7 455.7 L346.9 452.8 L348.3 455.4 L350.5 457.5 L350.3 460.5 L351.5 463.3 L354.3 464.5 L355.8 467.1 L355.6 470.0 L357.2 472.6 L357.2 475.6 L355.3 477.8 L354.9 480.8 L354.7 483.8 L354.0 486.7 L357.0 486.4 L359.9 486.6 L362.7 485.4 L363.6 482.6 L365.3 480.1 L367.4 478.0 L369.8 476.2 L372.0 474.1 L373.3 471.4 L374.7 468.7 L372.7 471.0 L369.7 471.3 L366.7 471.2 L365.0 468.7"/>
<path stroke="#2e9e2e" stroke-width="0.95" stroke-dasharray="3 1.5" d="M352.6 462.0 L349.6 462.2 L350.3 459.3 L351.6 456.5 L352.1 453.6 L352.8 456.5 L351.6 459.3 L349.3 461.2 L352.1 460.2 L353.0 457.3 L354.5 454.7 L353.2 457.4 L352.4 460.3 L354.2 462.8 L357.0 463.8 L359.5 465.4"/>
<path stroke="#2e9e2e" stroke-width="0.95" stroke-dasharray="3 1.5" d="M355.0 457.8 L352.9 460.0 L351.0 462.3 L348.3 463.6 L350.7 461.8 L353.0 459.8 L355.0 457.7 L355.2 454.7 L357.5 456.6 L360.5 456.6 L362.6 458.7 L363.9 461.4 L365.5 463.9 L368.4 464.7 L369.4 467.6 L372.2 468.8 L374.9 467.5 L375.1 470.5 L373.0 472.6 L373.6 475.5 L373.3 478.5 L374.8 481.1 L374.1 484.1 L375.8 486.5 L372.9 486.9 L370.0 486.3 L367.7 488.3 L366.8 491.2"/>
<path stroke="#2e9e2e" stroke-width="0.95" stroke-dasharray="3 1.5" d="M373.6 500.1 L376.6 500.3 L374.7 502.7 L375.4 505.6 L377.3 507.9 L374.6 506.6 L374.1 503.6 L375.3 500.9 L378.1 499.8 L375.6 498.1 L375.2 495.1 L377.4 493.1 L377.4 490.1 L376.3 487.2 L374.0 485.3 L372.2 483.0 L370.3 480.6 L367.8 479.0 L366.9 476.1 L365.4 473.5 L362.7 472.1 L359.7 472.0 L356.7 472.2 L353.8 471.7 L350.9 470.8 L352.3 468.1 L353.2 465.3 L353.0 462.3 L351.1 460.0 L349.3 457.6"/>
<path stroke="#2e9e2e" stroke-width="0.95" stroke-dasharray="3 1.5" d="M374.8 490.2 L373.8 493.1 L371.6 495.2 L368.7 495.9 L365.9 494.8 L363.1 493.8 L360.2 492.9 L357.9 494.8 L355.0 494.5 L354.7 491.5 L357.0 489.6 L358.5 486.9 L357.6 484.1 L355.8 481.7 L355.0 478.8 L354.3 475.9 L355.3 473.0 L355.8 470.1 L358.0 468.0 L359.7 465.6 L361.8 463.4 L364.8 463.3 L367.8 463.2 L370.6 462.2 L373.1 463.8 L370.2 463.3 L367.3 462.5 L365.4 460.1 L365.1 457.1 L364.9 460.1 L362.7 462.2"/>
<path stroke="#2e9e2e" stroke-width="0.95" stroke-dasharray="3 1.5" d="M354.8 467.6 L351.9 466.9 L349.0 467.6 L350.6 465.0 L352.3 462.6 L355.3 462.5 L358.0 463.9 L360.8 465.1 L363.8 465.3 L366.3 466.9 L369.3 466.4 L372.1 465.5 L375.0 464.6 L372.0 465.0 L370.6 467.6 L368.9 470.1 L369.9 473.0 L369.2 475.9 L369.3 478.9 L370.3 481.7 L371.9 484.3 L371.8 487.3 L369.6 489.4 L367.7 491.7 L365.0 493.0 L363.5 495.6 L364.4 498.5 L366.8 500.2 L369.0 502.3 L369.0 505.3 L370.3 508.0 L372.8 509.6 L375.4 511.1 L377.9 512.8 L379.3 515.4"/>
<path stroke="#2e9e2e" stroke-width="0.95" stroke-dasharray="3 1.5" d="M366.8 459.2 L364.9 461.6 L365.7 464.5 L368.1 466.3 L371.1 466.1 L374.1 466.3 L372.1 468.5 L369.9 470.6 L367.5 472.4 L364.5 472.1 L362.1 470.3 L361.9 467.3 L359.8 465.2 L357.3 463.6 L357.0 460.6 L356.1 457.7 L354.2 455.4 L352.1 453.3 L349.1 452.8 L351.8 454.2 L354.6 453.3 L357.1 455.0 L359.5 456.8"/>
<path stroke="#2e9e2e" stroke-width="0.95" stroke-dasharray="3 1.5" d="M370.6 464.8 L372.2 467.3 L373.0 470.2 L374.3 472.9 L372.5 470.5 L370.0 468.8 L367.8 466.7 L364.8 466.5 L362.1 465.3 L359.2 466.2 L356.8 464.4 L353.9 465.0 L351.7 467.0 L350.8 469.9 L351.7 467.0 L351.8 464.0 L353.5 461.5 L356.4 461.0 L358.0 458.5 L359.2 455.7 L361.8 457.2 L364.8 457.2"/>
<path stroke="#2e9e2e" stroke-width="0.95" stroke-dasharray="3 1.5" d="M376.5 500.6 L377.9 498.0 L377.1 495.1 L374.3 494.0 L373.6 491.1 L371.8 488.7 L369.9 486.4 L367.1 485.2 L365.6 482.6 L364.2 479.9 L364.2 476.9 L362.1 474.8 L362.1 471.8 L363.9 469.4 L366.4 467.7 L367.6 465.0 L367.5 462.0 L367.1 459.0 L364.5 457.4 L366.9 459.2 L367.0 462.2 L368.8 464.6"/>
<path stroke="#e6c800" stroke-width="0.95" stroke-dasharray="3 1.5" d="M377.3 514.0 L379.1 516.3 L376.2 516.0 L373.8 517.9 L371.4 519.7 L373.0 517.2 L375.0 514.9 L378.0 514.6 L376.6 517.2 L375.0 519.7 L374.5 522.7 L374.1 519.7 L375.0 516.9 L377.7 515.5 L375.5 513.4 L372.8 512.2 L369.9 512.8 L366.9 512.3 L369.7 511.1 L371.9 509.0 L371.8 506.0 L373.3 503.4 L376.3 502.9 L377.7 505.6 L378.7 508.4 L376.5 510.4 L374.6 512.7 L373.0 515.2 L372.3 518.2 L373.3 521.0 L375.3 523.2"/>
<path stroke="#e6c800" stroke-width="0.95" stroke-dasharray="3 1.5" d="M365.7 511.3 L368.2 512.9 L368.9 515.8 L371.9 515.6 L374.3 517.4 L377.2 518.1 L375.2 520.4 L375.8 523.3 L375.0 526.2 L378.0 525.8 L379.8 523.4 L377.0 524.7 L376.3 521.8 L374.1 519.7 L373.0 516.9 L374.6 514.4 L377.2 512.9"/>
<path stroke="#e6c800" stroke-width="0.95" stroke-dasharray="3 1.5" d="M372.1 514.5 L369.2 515.2 L370.4 512.5 L369.3 509.7 L367.0 507.8 L364.0 507.8 L366.8 508.8 L369.3 510.4 L372.2 511.4 L375.1 512.1 L377.7 510.6 L378.5 507.7 L377.9 504.7 L376.4 502.1 L373.7 500.7 L372.4 498.1 L369.8 496.4 L367.5 494.6 L365.7 492.2 L362.7 491.8 L360.7 494.1 L358.5 496.1 L355.6 495.7 L358.5 496.1 L361.4 496.9 L364.0 498.4 L366.7 497.2 L369.3 495.7 L372.3 495.2 L374.9 493.8 L377.1 491.8 L374.3 490.8 L371.3 490.4 L369.3 488.1"/>
<path stroke="#e6c800" stroke-width="0.95" stroke-dasharray="3 1.5" d="M349.1 467.9 L352.1 467.8 L355.1 467.6 L357.6 466.0 L359.7 463.8 L362.7 463.7 L365.7 464.0 L368.4 465.2 L370.8 467.1 L373.6 466.2 L370.8 465.1 L368.9 462.8 L367.0 460.5 L367.1 457.5 L367.6 460.4 L369.8 462.4 L372.6 463.6 L375.1 462.0 L373.7 464.6 L372.7 467.4 L374.6 469.8 L372.8 467.4 L372.1 464.5 L369.4 463.2 L367.6 460.8 L364.7 460.0 L362.8 457.6 L365.2 459.4 L367.9 460.8"/>
<path stroke="#e6c800" stroke-width="0.95" stroke-dasharray="3 1.5" d="M360.1 493.0 L362.6 491.4 L365.6 491.3 L368.2 489.8 L368.7 486.9 L368.4 483.9 L366.0 482.1 L363.0 482.4 L360.3 483.6 L359.7 486.6 L360.6 489.4 L359.8 492.3 L360.5 495.2 L363.3 496.3 L365.9 494.9 L366.1 491.9 L367.2 489.1 L369.2 486.9 L369.3 483.9 L371.8 482.3 L374.7 481.6 L372.7 483.8 L370.9 486.2 L367.9 486.0 L365.0 485.2 L362.3 483.9 L359.4 484.2 L356.4 484.7 L353.9 486.4 L352.7 483.7 L354.6 481.3 L354.4 478.3 L353.4 475.5"/>
<path stroke="#cc00cc" stroke-width="0.95" stroke-dasharray="3 1.5" d="M723.1 660.9 L721.0 658.8 L721.7 655.9 L722.3 652.9 L723.6 650.3 L724.8 647.5 L727.5 646.2 L729.2 643.7 L728.0 641.0 L727.5 638.0 L729.7 635.9 L731.2 633.3 L731.8 630.4 L730.7 627.6 L730.1 624.7 L727.9 622.6 L725.8 620.5 L725.3 617.5 L725.9 614.6 L728.1 612.5 L728.0 609.5 L730.2 607.5 L733.2 607.1"/>
<path stroke="#cc00cc" stroke-width="0.95" stroke-dasharray="3 1.5" d="M745.9 615.7 L747.9 617.9 L750.9 618.1 L753.9 617.8 L755.9 615.6 L757.0 612.8 L758.7 610.3 L758.5 607.3 L761.3 608.4 L758.5 609.3 L755.8 610.7 L753.5 612.6 L750.8 614.0 L748.2 615.5 L746.0 617.5 L746.4 620.5 L745.4 623.4 L742.6 624.3 L740.2 622.4 L738.5 620.0 L736.2 618.1 L733.4 616.9 L731.3 614.7 L730.1 612.0 L727.3 610.9 L724.3 611.4 L721.6 612.7 L718.8 613.9 L715.9 613.2"/>
<path stroke="#cc00cc" stroke-width="0.95" stroke-dasharray="3 1.5" d="M668.6 678.1 L668.1 681.1 L666.6 683.7 L667.7 686.4 L670.1 688.1 L672.2 690.3 L669.2 690.0 L667.0 691.9 L665.8 694.7 L668.8 694.6 L667.5 691.8 L667.4 688.8 L669.3 686.5 L669.7 683.5 L672.4 682.2 L675.0 680.7 L677.8 679.5 L679.2 676.9 L681.8 675.4 L683.2 672.8 L685.2 670.5 L688.2 670.6 L690.1 672.8 L690.5 675.8 L692.5 678.0 L693.0 681.0 L693.5 683.9"/>
<path stroke="#cc00cc" stroke-width="0.95" stroke-dasharray="3 1.5" d="M679.3 630.1 L677.0 631.9 L675.4 634.5 L672.7 635.7 L669.8 635.1 L667.1 633.6 L669.6 631.9 L671.9 630.0 L674.7 628.8 L676.5 626.5 L679.5 626.5 L681.6 628.6 L684.6 628.9 L687.5 628.1 L690.2 629.3 L693.2 629.3 L695.1 631.7 L696.9 634.1 L697.7 637.0 L697.2 639.9 L698.5 642.7 L700.7 644.6"/>
<path stroke="#cc00cc" stroke-width="0.95" stroke-dasharray="3 1.5" d="M696.3 663.6 L695.6 660.7 L693.6 658.4 L690.7 658.0 L688.0 659.3 L685.4 660.8 L684.8 663.7 L683.9 666.6 L681.8 668.8 L678.8 668.6 L676.1 669.9 L675.5 672.8 L675.2 675.8 L677.2 678.0 L679.6 679.8 L682.6 680.0 L685.6 680.4 L686.9 683.1 L687.4 686.1 L684.4 686.6 L681.5 685.9 L678.8 687.2"/>
<path stroke="#cc00cc" stroke-width="0.95" stroke-dasharray="3 1.5" d="M674.1 635.8 L673.3 638.6 L671.4 641.0 L671.2 643.9 L672.3 646.7 L671.7 649.7 L670.1 652.2 L668.5 654.7 L666.4 656.9 L665.8 659.8 L666.2 656.8 L667.0 654.0 L665.3 651.4 L667.5 649.3 L668.8 646.7 L671.0 644.6 L673.9 643.8 L676.2 641.9 L677.0 639.0 L678.7 636.5 L681.1 634.6 L683.1 632.5 L683.5 629.5 L682.1 626.8 L681.4 623.9 L680.7 621.0 L677.9 619.7 L675.5 618.0 L672.9 616.5"/>
<path stroke="#cc00cc" stroke-width="0.95" stroke-dasharray="3 1.5" d="M709.9 680.9 L707.4 679.1 L707.1 676.1 L706.8 673.1 L707.7 670.3 L706.5 667.5 L705.2 664.8 L704.5 661.9 L705.8 659.2 L705.6 656.2 L705.2 653.2 L706.8 650.7 L709.6 649.7 L711.6 647.4 L713.6 645.2 L716.5 644.4 L719.2 643.0 L722.1 642.5 L725.1 643.1 L726.4 645.8 L727.4 648.6 L727.3 651.6 L728.1 654.5 L727.5 657.4 L728.0 660.4 L728.5 663.4 L729.8 666.1 L732.0 668.1"/>
<path stroke="#cc00cc" stroke-width="0.95" stroke-dasharray="3 1.5" d="M731.6 618.7 L734.5 618.3 L736.8 620.3 L738.5 622.7 L740.8 624.7 L741.2 627.6 L739.3 630.0 L738.4 632.8 L739.6 635.6 L740.0 638.5 L738.5 641.1 L736.4 643.3 L733.5 644.0 L730.8 645.2 L727.9 645.8 L725.5 647.6 L723.5 649.9 L722.1 652.5 L721.3 655.4 L721.2 658.4 L719.3 660.8 L719.3 663.8 L721.0 666.3 L723.6 667.7 L724.0 670.7 L724.3 673.7 L726.7 675.4 L727.7 678.2 L726.4 680.9 L723.7 682.3"/>
<path stroke="#cc00cc" stroke-width="0.95" stroke-dasharray="3 1.5" d="M708.9 669.0 L706.3 670.4 L704.4 672.7 L701.4 673.2 L698.6 672.1 L697.2 669.4 L696.1 666.7 L693.2 665.8 L691.3 663.5 L688.5 662.6 L685.6 663.6 L682.8 662.7 L681.5 660.0 L683.1 657.4 L685.8 656.0 L688.5 654.9 L689.2 652.0 L691.8 650.5 L693.9 648.3 L696.0 646.2 L696.5 643.2 L694.8 640.8 L691.8 640.9"/>
<path stroke="#cc00cc" stroke-width="0.95" stroke-dasharray="3 1.5" d="M680.6 633.4 L677.7 633.8 L674.7 633.5 L671.7 633.8 L668.8 634.6 L665.9 635.3 L667.8 633.0 L670.8 632.9 L673.8 632.7 L676.2 634.5 L677.7 637.0 L676.6 639.8 L674.6 642.1 L673.0 644.6 L671.8 647.3 L670.1 649.8 L667.4 651.1 L668.6 648.3 L667.3 645.6 L668.5 642.9 L667.2 640.2 L668.7 637.7 L668.1 634.7 L668.6 631.8"/>
<path stroke="#e58a2c" stroke-width="0.95" stroke-dasharray="3 1.5" d="M782.3 670.2 L785.3 669.8 L782.3 669.8 L779.4 669.0 L776.4 668.5 L773.5 668.9 L770.5 668.4 L768.5 666.2 L768.0 663.2 L766.9 660.4 L766.8 657.4 L765.7 654.6 L762.8 653.7 L761.0 651.4 L760.1 648.5 L762.0 646.2 L761.8 643.2 L759.7 641.1"/>
<path stroke="#e58a2c" stroke-width="0.95" stroke-dasharray="3 1.5" d="M724.4 606.7 L725.5 609.5 L726.6 612.3 L726.5 615.3 L724.5 617.6 L721.7 618.6 L719.3 620.4 L717.5 622.8 L714.5 623.3 L712.4 621.2 L710.3 619.1 L707.3 618.6 L710.3 618.1 L713.0 616.8 L714.7 614.4 L715.8 611.6 L717.9 613.7 L719.9 615.9 L719.3 618.9 L717.4 621.2 L716.9 624.1 L716.8 627.1 L718.9 629.3"/>
<path stroke="#e58a2c" stroke-width="0.95" stroke-dasharray="3 1.5" d="M755.0 658.3 L757.8 659.4 L760.2 661.2 L763.2 661.8 L766.1 661.4 L768.9 660.3 L771.6 661.5 L772.6 664.4 L770.9 666.9 L768.8 669.0 L769.1 672.0 L768.6 675.0 L766.2 676.7 L763.3 676.0 L760.6 674.6 L758.4 672.6 L758.0 669.6 L755.8 667.6 L753.0 666.5 L752.4 663.5 L752.7 660.5 L750.5 658.5 L747.8 657.3 L745.1 655.9 L743.9 653.2 L742.8 650.4 L743.9 647.5 L743.0 644.7 L742.0 641.9 L739.2 640.6 L736.3 640.5 L733.8 638.8 L730.8 638.5 L728.7 640.7 L726.0 641.9 L724.4 644.4"/>
<path stroke="#e58a2c" stroke-width="0.95" stroke-dasharray="3 1.5" d="M755.8 624.8 L758.3 626.5 L760.8 628.1 L763.7 628.9 L766.0 630.8 L767.1 633.6 L769.5 635.5 L771.7 637.5 L772.8 640.2 L774.0 643.0 L774.2 646.0 L773.6 649.0 L772.0 651.4 L771.0 654.3 L771.3 657.3 L773.8 658.8 L774.6 661.7 L773.6 664.6 L773.2 667.6 L770.6 669.1 L767.8 668.2 L765.0 669.4 L762.1 668.7 L759.1 668.4 L756.2 669.2 L754.1 671.2 L752.2 673.6 L753.0 676.5 L755.7 677.7 L758.6 676.7 L760.8 674.7 L761.3 671.8 L759.6 669.3 L759.8 666.3"/>
<path stroke="#e58a2c" stroke-width="0.95" stroke-dasharray="3 1.5" d="M711.5 643.5 L708.5 643.8 L706.0 645.5 L703.1 645.2 L701.2 642.8 L701.9 639.8 L702.7 637.0 L702.7 634.0 L701.0 631.5 L701.6 628.6 L703.6 626.3 L705.9 624.3 L708.8 623.9 L711.3 622.2 L713.8 620.6 L716.7 621.3 L719.3 619.8 L722.2 618.9 L724.0 616.5 L726.9 615.8 L729.6 617.1 L731.9 619.0 L734.4 620.7 L737.2 619.6 L740.0 618.5"/>
<path stroke="#e58a2c" stroke-width="0.95" stroke-dasharray="3 1.5" d="M709.0 634.2 L711.8 635.3 L713.4 637.8 L712.4 640.6 L710.1 642.6 L708.3 644.9 L709.2 647.8 L710.2 650.6 L711.6 653.3 L714.4 654.4 L717.3 654.5 L719.4 652.3 L722.1 651.0 L724.0 648.6 L724.8 645.8 L724.5 642.8 L722.9 640.2 L721.4 637.6 L719.4 635.4 L716.4 635.4 L713.6 634.3 L711.0 635.9 L709.4 638.4 L706.4 638.6 L703.5 637.6 L700.5 637.5 L697.7 636.6 L696.0 634.1 L693.1 633.4 L691.1 631.2 L688.1 631.4 L685.9 633.4 L682.9 633.9 L680.0 634.4 L677.9 636.6"/>
<path stroke="#e58a2c" stroke-width="0.95" stroke-dasharray="3 1.5" d="M682.8 640.2 L679.9 639.5 L678.0 637.2 L677.4 634.3 L675.6 631.8 L675.3 628.9 L674.6 626.0 L672.2 624.1 L669.3 625.0 L666.3 625.1 L665.7 622.2 L668.3 623.7 L671.2 624.2 L674.1 625.1 L676.9 626.2 L679.6 627.5 L680.1 630.5 L678.2 632.9 L677.5 635.8 L675.0 637.4 L673.2 639.8 L670.2 640.0 L668.5 642.5 L667.7 645.4 L669.9 643.3 L672.7 642.2"/>
<path stroke="#e58a2c" stroke-width="0.95" stroke-dasharray="3 1.5" d="M686.6 637.3 L686.9 634.4 L685.9 631.5 L683.0 630.6 L680.1 631.4 L677.5 632.8 L675.5 635.0 L673.0 636.6 L670.2 635.4 L667.2 635.3 L669.7 637.0 L670.5 639.9 L670.6 642.9 L668.8 645.3 L666.4 647.0 L668.8 645.2 L669.5 642.3 L668.5 639.5 L669.8 636.8 L671.4 634.2 L672.3 631.4 L672.3 628.4 L670.5 625.9 L671.1 623.0 L669.6 620.4 L669.1 617.4 L668.8 614.4 L667.0 616.8 L667.3 619.8 L666.7 622.7 L667.8 625.5 L670.1 627.5 L673.1 627.0 L676.0 626.4 L678.4 628.2 L681.0 629.7 L683.9 628.8"/>
<path stroke="#2e9e2e" stroke-width="0.95" stroke-dasharray="3 1.5" d="M685.8 680.5 L683.6 678.5 L680.6 678.4 L677.6 678.0 L675.0 679.6 L673.2 681.9 L670.9 683.9 L670.4 686.9 L671.4 689.7 L671.1 692.7 L671.7 689.8 L670.4 687.1 L667.5 686.2 L666.3 683.5 L665.8 680.5 L666.3 677.6 L667.2 674.7 L666.1 672.0 L667.7 669.4 L669.3 666.9 L672.2 666.3 L674.0 663.9 L674.7 661.0"/>
<path stroke="#2e9e2e" stroke-width="0.95" stroke-dasharray="3 1.5" d="M732.1 618.3 L732.7 615.3 L732.6 612.3 L732.8 609.3 L735.2 607.5 L737.7 605.8 L740.4 604.6 L741.0 601.7 L742.2 598.9 L743.1 596.0 L741.3 598.4 L739.0 600.3 L736.0 600.8 L733.0 600.9 L736.0 600.9 L737.8 598.5 L739.7 600.8 L742.1 602.6 L744.2 604.8 L747.2 604.7 L750.1 605.4 L752.4 607.3 L753.0 610.3 L751.8 613.0"/>
<path stroke="#2e9e2e" stroke-width="0.95" stroke-dasharray="3 1.5" d="M727.4 675.1 L728.3 677.9 L731.2 678.9 L734.2 678.8 L736.0 681.2 L739.0 681.8 L741.4 680.0 L742.8 677.3 L745.6 676.4 L747.7 674.2 L750.5 673.2 L751.8 670.5 L753.9 668.4 L754.2 665.4 L755.1 662.5 L757.2 660.4 L760.2 660.3 L763.2 659.8 L765.3 662.0 L767.7 663.8 L767.8 666.8 L765.7 668.9 L762.8 668.3 L760.3 669.9"/>
<path stroke="#e58a2c" stroke-width="0.95" stroke-dasharray="3 1.5" d="M590.9 681.0 L593.3 679.3 L596.3 678.8 L599.3 679.2 L602.2 678.5 L605.1 678.9 L608.1 678.6 L610.8 680.0 L613.7 679.2 L615.7 676.9 L618.7 676.8 L621.5 675.9 L623.6 673.7 L626.6 673.1 L629.5 673.3 L632.0 671.6 L634.6 670.1 L637.5 669.5 L639.4 667.2 L642.0 665.6 L642.7 662.7 L642.5 659.7 L640.1 657.8 L637.1 657.6 L635.6 655.0"/>
<path stroke="#e58a2c" stroke-width="0.95" stroke-dasharray="3 1.5" d="M617.7 675.2 L620.7 675.1 L623.6 675.5 L626.4 676.7 L629.4 677.1 L631.3 679.4 L632.0 682.3 L632.7 685.2 L632.4 688.2 L633.4 691.0 L633.7 694.0 L634.1 697.0 L631.2 697.4 L633.7 695.8 L635.4 693.4 L634.9 690.4 L632.6 688.4 L630.1 686.9 L628.3 684.5 L626.9 681.8 L625.1 679.4 L626.0 676.5 L625.0 673.7 L623.4 671.2 L620.9 669.5 L618.4 667.9 L615.6 666.8 L614.0 664.3 L611.4 662.7 L608.6 661.8 L605.7 661.1 L608.6 660.5 L611.6 660.3 L614.6 660.0 L617.1 658.4 L619.5 656.5 L622.5 656.5"/>
<path stroke="#e58a2c" stroke-width="0.95" stroke-dasharray="3 1.5" d="M612.0 666.9 L611.8 669.9 L611.0 672.7 L610.3 675.7 L611.0 678.6 L612.4 681.2 L615.3 681.7 L618.3 681.1 L620.5 683.2 L622.3 685.6 L624.9 687.0 L625.5 689.9 L626.9 692.6 L629.4 694.2 L632.2 693.2 L633.7 690.6 L633.5 687.6 L631.7 685.2 L632.1 682.2 L631.1 679.4 L628.8 677.4 L627.0 675.0 L627.6 672.0 L626.9 669.1 L627.8 666.3 L627.9 663.3 L628.3 660.3 L629.4 657.5 L632.2 656.5 L635.1 657.0 L638.1 657.6 L640.0 659.9 L642.5 661.6 L645.3 662.7 L646.1 665.6"/>
<path stroke="#e58a2c" stroke-width="0.95" stroke-dasharray="3 1.5" d="M626.3 685.4 L627.8 687.9 L628.6 690.9 L629.7 693.6 L629.2 696.6 L631.0 699.0 L628.1 698.5 L630.7 697.0 L632.0 694.3 L633.3 691.6 L632.3 688.8 L633.7 686.1 L632.5 683.3 L629.7 682.3 L627.6 680.2 L625.6 677.9 L623.3 676.0 L620.8 674.3 L617.9 675.0 L615.1 673.9 L612.2 674.8 L611.2 677.6 L608.5 678.8 L605.9 677.3 L605.0 674.4 L606.0 671.6 L608.9 670.8 L611.9 670.7 L614.4 672.3 L616.0 674.8 L617.2 677.5 L618.6 680.2 L617.4 682.9 L617.2 685.9 L619.3 688.1 L621.9 689.6"/>
<path stroke="#e58a2c" stroke-width="0.95" stroke-dasharray="3 1.5" d="M662.5 677.3 L659.6 676.4 L656.9 677.8 L656.3 680.7 L654.9 683.3 L655.3 686.3 L658.1 687.5 L660.3 689.6 L657.3 689.0 L655.6 686.6 L652.7 685.8 L651.1 683.3 L649.4 680.8 L649.7 677.8 L651.3 675.3 L650.1 672.5 L647.3 671.6 L644.3 672.0 L641.8 673.6"/>
<path stroke="#e58a2c" stroke-width="0.95" stroke-dasharray="3 1.5" d="M630.1 669.1 L627.9 667.1 L625.0 667.8 L622.4 669.3 L621.6 672.1 L622.9 674.8 L624.9 677.1 L627.6 678.4 L629.5 680.7 L632.0 682.3 L635.0 682.6 L637.8 681.5 L640.7 680.8 L643.6 681.7 L646.6 681.5 L649.0 679.7 L651.6 678.3 L654.5 679.3 L656.9 677.5 L659.8 676.5 L662.1 678.4 L659.5 679.9 L656.7 680.8 L654.6 683.0 L651.8 683.9"/>
<path stroke="#e58a2c" stroke-width="0.95" stroke-dasharray="3 1.5" d="M661.0 697.5 L659.2 695.0 L657.5 692.5 L654.6 691.9 L651.8 692.9 L649.8 695.1 L649.2 698.1 L648.6 695.1 L646.0 693.6 L645.1 690.7 L644.6 687.8 L641.9 686.5 L639.8 684.3 L638.6 681.6 L638.3 678.6 L639.6 675.9 L640.5 673.0 L639.7 670.1 L640.4 667.2 L641.8 664.5 L644.1 662.7 L644.9 659.8 L644.9 656.8 L646.0 654.0 L646.5 651.0 L647.5 648.2 L648.4 645.3 L650.6 643.3"/>
<path stroke="#e58a2c" stroke-width="0.95" stroke-dasharray="3 1.5" d="M610.4 668.5 L609.2 665.8 L608.6 662.8 L607.8 659.9 L609.4 657.3 L612.1 656.2 L614.9 654.9 L616.9 652.7 L616.4 649.7 L613.8 648.3 L611.0 649.5 L609.0 651.7 L607.6 654.3 L607.3 657.3 L606.1 660.0 L606.4 663.0 L608.4 665.3 L608.8 668.3 L606.6 670.3 L603.6 670.2 L601.0 671.8 L598.1 671.2 L600.8 672.4 L602.2 675.1 L601.8 678.1"/>
<path stroke="#e58a2c" stroke-width="0.95" stroke-dasharray="3 1.5" d="M651.9 676.9 L648.9 677.0 L645.9 677.5 L644.7 680.2 L644.6 683.2 L642.3 685.3 L641.8 688.2 L643.0 690.9 L642.5 693.9 L644.3 696.4 L641.6 695.0 L638.7 694.3 L636.0 693.0 L633.1 694.0 L630.2 693.4 L627.2 693.1 L624.8 691.4 L623.6 688.6 L620.7 687.7 L619.0 685.3 L619.0 682.3 L617.6 679.6 L616.7 676.8 L614.4 674.9 L612.2 672.8 L611.2 670.0 L609.6 667.5 L608.2 664.8 L605.4 663.8 L607.7 665.7 L608.4 668.6 L611.1 670.1 L612.7 672.6"/>
<path stroke="#00b3b3" stroke-width="0.95" stroke-dasharray="3 1.5" d="M600.9 693.2 L602.9 690.9 L605.4 689.3 L608.4 690.0 L610.0 692.4 L613.0 693.1 L615.9 693.8 L617.7 696.1 L620.6 696.9 L623.5 697.5 L623.1 694.6 L622.9 691.6 L621.6 688.9 L621.8 685.9 L622.1 682.9 L620.8 680.2 L619.7 677.4 L617.8 675.1 L617.0 672.2 L618.7 669.7 L618.4 666.7 L617.0 664.1 L614.0 663.7 L611.7 661.8 L608.7 662.4 L605.7 662.3 L606.7 659.4 L609.3 658.0 L612.2 658.8"/>
<path stroke="#00b3b3" stroke-width="0.95" stroke-dasharray="3 1.5" d="M654.0 664.7 L654.5 661.8 L656.1 659.2 L656.6 656.3 L655.6 653.5 L653.6 651.2 L650.6 650.8 L649.2 648.1 L646.4 647.1 L643.5 647.7 L640.5 647.5 L637.9 648.9 L636.5 651.6 L636.5 654.6 L638.0 657.2 L641.0 657.3 L643.6 658.8 L645.6 661.1 L648.3 662.4 L649.2 665.3 L649.7 668.3 L651.7 670.5 L651.2 673.4 L652.2 676.2 L651.4 679.1 L649.1 681.0 L649.4 684.0 L647.7 686.5 L646.4 689.2 L645.1 691.9 L642.2 692.6 L639.4 693.6 L637.4 695.8 L637.9 698.8 L637.5 695.8"/>
<path stroke="#00b3b3" stroke-width="0.95" stroke-dasharray="3 1.5" d="M639.6 677.3 L642.6 676.9 L644.9 678.8 L647.7 679.8 L650.5 678.5 L653.4 678.1 L654.8 675.4 L657.7 674.9 L660.4 673.5 L662.8 671.6 L660.1 670.2 L658.8 667.5 L655.8 667.1 L652.9 667.6 L650.5 669.5 L647.6 668.8 L644.6 668.5 L641.6 668.5 L639.7 666.2 L637.3 664.4 L634.6 663.2 L631.6 662.6 L628.8 663.5"/>
<path stroke="#00b3b3" stroke-width="0.95" stroke-dasharray="3 1.5" d="M639.0 655.6 L636.4 657.1 L633.5 657.8 L630.6 658.3 L628.3 656.3 L627.6 653.4 L629.2 650.8 L630.3 648.0 L632.8 646.4 L634.7 644.0 L635.9 641.3 L634.9 644.1 L635.4 647.1 L637.0 649.6 L639.8 650.7 L642.6 649.6 L645.1 651.2 L648.0 650.7 L650.7 652.0 L651.5 654.9 L651.4 657.9 L651.3 660.9 L653.6 662.9 L656.0 664.7 L658.9 663.7 L660.4 661.2 L662.6 659.1 L662.4 662.1 L660.3 660.0 L657.7 658.5 L654.7 658.7 L652.6 660.9 L649.6 661.3 L646.9 662.6"/>
<path stroke="#00b3b3" stroke-width="0.95" stroke-dasharray="3 1.5" d="M640.9 672.2 L641.6 669.3 L640.3 666.6 L637.4 665.9 L634.4 666.2 L631.4 665.9 L628.4 666.0 L625.5 666.7 L622.5 666.7 L619.6 665.9 L616.7 665.3 L615.1 662.8 L612.1 662.4 L610.6 659.8 L610.3 656.8 L608.3 654.6 L606.9 652.0 L607.1 649.0 L605.3 646.6 L606.7 643.9 L608.3 641.4 L608.2 638.4 L609.4 641.1 L612.0 642.6"/>
<path stroke="#00b3b3" stroke-width="0.95" stroke-dasharray="3 1.5" d="M605.1 654.8 L607.8 653.3 L610.7 654.0 L613.1 655.7 L614.3 658.5 L615.4 661.3 L614.9 664.2 L614.3 667.1 L615.1 670.0 L616.0 672.9 L618.9 673.9 L621.2 675.8 L624.0 676.8 L626.9 676.0 L629.7 676.9 L632.5 678.0 L635.5 677.9 L637.6 680.1 L637.1 683.1 L637.2 686.1 L636.9 689.1 L639.3 690.9 L642.1 692.0 L642.8 694.9 L643.4 697.9 L641.2 695.8 L638.3 696.4 L636.9 699.0 L635.5 696.4 L636.9 693.7 L639.4 692.1 L642.3 691.1"/>
<path stroke="#00b3b3" stroke-width="0.95" stroke-dasharray="3 1.5" d="M613.0 661.4 L616.0 662.0 L618.6 660.5 L621.3 661.8 L622.2 664.6 L623.8 667.2 L626.5 668.5 L629.3 667.5 L632.0 668.9 L634.9 669.5 L637.3 667.6 L638.8 665.0 L640.3 662.4 L640.5 659.4 L641.6 656.7 L641.6 653.7 L641.2 650.7 L638.6 649.2 L637.0 646.7 L635.9 643.9 L634.6 641.2 L634.0 644.1 L635.7 646.6 L638.0 648.5 L640.9 649.2 L643.1 651.2 L645.9 652.3 L647.5 654.8 L647.2 657.8"/>
<path stroke="#00b3b3" stroke-width="0.95" stroke-dasharray="3 1.5" d="M608.2 681.1 L610.0 678.7 L610.7 675.8 L610.1 672.9 L609.8 669.9 L607.6 667.8 L605.7 665.5 L605.5 662.6 L606.4 659.7 L605.9 656.7 L605.3 653.8 L608.2 653.4 L611.0 654.4 L613.4 652.7 L616.3 651.7 L618.9 653.1 L621.9 653.3 L624.8 652.4 L627.8 652.6"/>
<path stroke="#cc00cc" stroke-width="0.95" stroke-dasharray="3 1.5" d="M632.1 669.8 L632.1 672.8 L631.5 675.7 L628.9 677.1 L625.9 677.4 L623.3 675.8 L620.5 674.8 L617.5 674.4 L614.6 675.2 L613.1 677.8 L610.2 678.3 L607.2 678.9 L604.7 680.4 L603.2 683.0 L600.3 683.4 L597.9 681.5 L595.4 679.9 L594.9 677.0 L595.9 674.1 L598.0 671.9 L600.6 670.5 L603.6 670.6 L605.8 672.6 L606.7 675.5 L607.0 678.5"/>
<path stroke="#cc00cc" stroke-width="0.95" stroke-dasharray="3 1.5" d="M607.5 664.4 L609.8 666.2 L612.3 667.9 L613.4 670.7 L615.9 672.3 L617.5 674.8 L620.2 676.1 L623.1 676.9 L626.1 676.9 L628.9 677.9 L631.6 679.3 L634.6 679.5 L636.4 681.9 L639.4 681.9 L642.4 681.7 L644.5 679.6 L644.5 676.6 L642.9 674.0 L643.9 671.2 L642.1 668.8 L641.5 665.8 L641.4 662.8 L643.2 660.4 L646.1 659.7 L647.8 657.2 L650.7 656.8 L652.7 654.5"/>
<path stroke="#cc00cc" stroke-width="0.95" stroke-dasharray="3 1.5" d="M638.6 673.2 L635.7 672.4 L634.1 669.9 L631.2 669.1 L628.9 671.0 L625.9 671.2 L623.0 671.9 L620.0 672.2 L617.8 674.2 L615.6 676.3 L615.2 679.3 L614.2 682.1 L614.3 685.1 L612.9 687.8 L613.5 690.7 L611.8 693.2 L611.5 696.2 L609.0 694.5 L606.0 694.3 L603.8 692.3 L602.9 689.5 L600.7 687.4 L598.6 685.2 L597.3 682.5"/>
<path stroke="#cc00cc" stroke-width="0.95" stroke-dasharray="3 1.5" d="M622.9 640.4 L620.9 642.6 L618.4 644.3 L615.5 644.9 L613.3 642.9 L611.9 640.2 L611.0 643.1 L610.2 646.0 L608.5 648.5 L605.7 649.4 L607.0 646.7 L607.6 643.7 L610.1 642.1 L613.0 643.0 L615.3 641.1 L616.2 644.0 L616.6 647.0 L618.1 649.6 L619.9 652.0 L619.7 654.9 L622.1 656.8 L624.8 658.0 L627.5 656.7 L629.2 654.2 L631.2 652.0 L634.1 652.3 L637.1 653.0 L640.0 652.4 L641.8 650.0 L641.5 647.0 L642.3 644.1 L643.3 641.3 L646.1 642.5"/>
<path stroke="#cc00cc" stroke-width="0.95" stroke-dasharray="3 1.5" d="M606.1 694.3 L604.2 692.0 L603.7 689.0 L601.0 687.8 L598.3 686.4 L596.6 683.9 L594.6 681.7 L591.6 681.6 L593.3 684.1 L595.9 685.6 L597.6 688.0 L600.5 688.9 L603.0 690.5 L604.7 693.0 L602.0 691.8 L600.5 689.2 L598.6 686.9 L595.6 686.9 L593.2 688.7 L593.5 685.8 L591.5 683.6 L592.0 680.6 L592.9 677.8 L593.8 680.7 L591.9 683.0 L591.4 685.9 L590.6 688.8"/>
<path stroke="#cc00cc" stroke-width="0.95" stroke-dasharray="3 1.5" d="M659.3 551.2 L660.6 553.9 L663.5 554.7 L660.8 556.1 L657.8 556.3 L655.0 557.4 L653.7 560.1 L652.6 562.9 L652.3 565.9 L652.7 568.8 L654.0 571.6 L652.7 574.3 L653.2 577.2 L654.5 580.0 L656.6 582.0 L659.4 583.1 L661.5 585.3 L658.5 584.8 L656.6 582.5 L654.5 580.3 L652.4 578.2"/>
<path stroke="#cc00cc" stroke-width="0.95" stroke-dasharray="3 1.5" d="M639.3 583.2 L637.4 585.5 L635.9 588.1 L633.1 589.1 L630.7 587.2 L628.3 585.4 L628.2 582.4 L625.7 580.8 L622.7 581.3 L620.6 583.5 L617.6 583.3 L614.9 582.0 L613.0 579.6 L610.3 578.3 L607.6 577.0 L606.6 574.2 L603.9 573.0 L601.1 574.0 L600.1 576.8 L599.3 579.7 L596.9 581.5 L594.3 583.0 L595.0 580.1 L593.7 577.3 L595.1 574.6 L595.6 571.7 L594.6 568.9 L592.6 566.6 L592.3 563.7 L591.0 560.9 L592.1 558.1 L592.2 555.1 L592.0 552.2 L589.6 550.4 L590.1 553.3 L590.7 556.2 L593.2 557.9 L595.7 559.5 L598.6 560.5"/>
<path stroke="#cc00cc" stroke-width="0.95" stroke-dasharray="3 1.5" d="M632.4 571.8 L633.6 574.5 L636.3 575.9 L639.0 577.2 L641.7 578.5 L642.3 581.4 L644.9 582.8 L647.7 581.6 L650.6 582.4 L653.3 583.6 L656.2 584.6 L658.0 586.9 L659.4 589.6 L659.7 592.6 L661.4 595.1 L661.1 598.1 L661.8 601.0 L661.7 604.0 L662.2 606.9"/>
<path stroke="#cc00cc" stroke-width="0.95" stroke-dasharray="3 1.5" d="M585.0 596.6 L583.9 593.8 L583.0 590.9 L580.2 589.9 L577.3 589.3 L575.5 586.9 L573.2 584.9 L573.0 582.0 L575.1 579.8 L577.6 578.1 L580.5 578.8 L582.7 576.8 L583.6 573.9 L584.5 571.0 L585.5 568.2 L585.5 565.2 L583.9 562.6 L582.9 559.8 L581.8 557.0 L578.9 556.4 L575.9 556.6 L573.5 558.4 L570.6 557.7 L568.8 555.3 L567.7 552.5 L568.0 555.5 L565.7 557.4 L562.8 558.2 L560.1 559.5 L557.2 558.6 L560.2 558.7 L563.1 557.8 L565.8 556.6 L568.8 556.0 L571.8 556.2 L574.7 556.8"/>
<path stroke="#cc00cc" stroke-width="0.95" stroke-dasharray="3 1.5" d="M557.9 619.7 L556.5 617.0 L553.7 615.9 L551.4 614.0 L550.8 611.0 L551.2 608.1 L552.0 605.2 L553.1 602.4 L555.4 600.5 L557.1 598.0 L557.3 595.0 L557.9 592.1 L558.6 589.2 L557.1 586.6 L555.7 583.9 L554.2 581.3 L551.4 580.3 L549.2 578.2 L548.4 575.3 L546.8 572.8 L545.4 575.5"/>
<path stroke="#cc00cc" stroke-width="0.95" stroke-dasharray="3 1.5" d="M622.9 580.8 L621.1 583.2 L620.0 586.0 L620.7 588.9 L621.6 591.7 L619.8 594.1 L618.7 591.3 L615.8 590.3 L612.9 590.8 L610.0 589.9 L612.8 588.7 L615.4 587.2 L616.4 584.4 L619.2 583.1 L621.3 581.0 L623.8 579.4 L626.8 580.0 L629.8 579.8 L632.2 578.1 L635.2 577.7 L637.3 575.6"/>
<path stroke="#cc00cc" stroke-width="0.95" stroke-dasharray="3 1.5" d="M633.5 561.3 L632.4 564.1 L631.6 567.0 L632.6 569.8 L635.4 570.8 L638.4 570.4 L641.4 569.8 L644.3 570.5 L646.7 572.2 L646.8 575.2 L647.2 578.2 L648.1 581.0 L648.2 584.0 L650.6 585.8 L652.7 587.9 L655.6 587.3 L658.6 587.8 L661.6 588.0 L658.6 588.4 L655.6 588.3 L652.9 589.5 L650.3 591.0 L647.9 592.8 L645.0 593.5 L642.1 594.2 L640.4 596.7 L638.0 598.6 L636.5 601.1 L633.5 601.7 L631.0 603.3 L628.0 603.7 L625.0 604.2"/>
<path stroke="#cc00cc" stroke-width="0.95" stroke-dasharray="3 1.5" d="M645.2 563.0 L642.8 561.2 L641.3 558.6 L640.8 555.7 L639.2 553.1 L640.8 555.7 L643.6 556.8 L644.9 559.5 L643.9 562.3 L645.1 565.0 L644.1 567.8 L642.0 570.1 L641.2 573.0 L640.0 575.7 L637.1 576.6 L635.5 579.1 L633.2 581.0 L632.1 583.8 L633.1 586.6 L631.4 589.2 L628.4 589.2 L625.6 588.3 L623.7 586.0 L621.3 584.1 L618.8 582.6 L616.6 580.5 L616.0 577.5 L616.7 574.6 L617.2 571.7 L618.4 568.9"/>
<path stroke="#cc00cc" stroke-width="0.95" stroke-dasharray="3 1.5" d="M647.8 608.2 L647.3 611.1 L647.8 614.1 L649.2 616.7 L651.4 618.7 L649.0 617.0 L649.0 614.0 L650.3 611.3 L652.0 608.8 L654.8 607.8 L656.5 605.4 L658.4 603.0 L659.2 600.1 L658.4 597.3 L657.5 594.4 L659.3 592.0 L662.3 591.5 L659.7 590.0 L657.0 588.5 L654.1 587.8 L652.5 585.3 L651.6 582.5 L649.4 580.5 L649.4 577.5 L651.3 575.2 L653.7 573.4 L656.4 572.2 L659.0 573.8 L661.9 574.4"/>
<path stroke="#cc00cc" stroke-width="0.95" stroke-dasharray="3 1.5" d="M556.9 595.0 L558.2 597.7 L560.4 599.8 L562.9 601.5 L565.3 603.2 L567.4 605.4 L569.1 607.8 L571.5 609.6 L574.4 610.5 L576.8 612.3 L577.0 615.3 L577.9 618.2 L580.7 619.0 L582.4 621.5 L581.8 624.5 L583.3 621.9 L584.3 619.0 L582.8 616.4 L583.7 613.6"/>
<path stroke="#cc00cc" stroke-width="0.95" stroke-dasharray="3 1.5" d="M595.8 559.5 L594.3 556.9 L594.2 553.9 L594.3 550.9 L597.2 551.3 L600.2 551.9 L601.7 554.5 L600.4 557.2 L597.5 557.9 L596.2 560.6 L594.8 563.3 L594.7 566.3 L594.6 569.3 L594.4 572.2 L594.6 575.2 L597.1 576.9 L599.9 575.6 L602.4 574.1 L605.2 575.2"/>
<path stroke="#2e9e2e" stroke-width="0.95" stroke-dasharray="3 1.5" d="M569.9 561.1 L571.9 563.3 L574.7 564.3 L576.9 566.4 L576.4 569.3 L573.8 570.7 L571.0 569.6 L569.5 567.0 L569.0 564.1 L568.4 561.1 L565.9 559.4 L564.8 556.6 L562.3 555.0 L561.9 552.0 L563.4 554.6 L562.4 557.5 L560.2 559.5 L557.2 559.8 L555.3 562.2 L554.7 565.1 L556.1 567.8 L554.9 570.5 L555.2 573.5 L555.8 576.5 L555.0 579.3 L554.7 582.3 L553.7 585.1 L552.0 587.6 L551.0 590.4 L548.2 591.5 L545.2 591.6 L548.0 592.4 L550.7 593.9 L553.6 593.4 L555.9 595.3 L555.9 598.3"/>
<path stroke="#2e9e2e" stroke-width="0.95" stroke-dasharray="3 1.5" d="M555.6 577.8 L554.5 580.6 L554.6 583.6 L552.4 585.6 L549.9 587.2 L548.5 589.9 L549.8 592.6 L551.1 595.3 L550.0 598.1 L547.7 600.0 L547.8 603.0 L546.3 605.6 L547.3 602.7 L548.1 599.9 L549.6 597.2 L551.7 595.1 L554.5 594.0 L557.4 594.6 L559.7 592.7 L562.5 591.5 L563.3 588.6 L564.0 585.7"/>
<path stroke="#2e9e2e" stroke-width="0.95" stroke-dasharray="3 1.5" d="M583.4 595.5 L585.0 592.9 L586.3 590.2 L588.0 587.7 L585.3 589.2 L582.4 588.7 L579.4 589.0 L577.7 591.4 L577.2 594.4 L574.7 596.0 L573.4 598.7 L574.2 601.6 L577.0 602.8 L577.5 605.8 L579.5 608.0 L582.5 607.9 L585.4 607.0 L586.4 604.2 L588.6 602.1 L587.4 604.9 L585.2 606.9 L585.5 609.9 L584.2 612.5 L582.1 614.7 L579.2 615.6 L577.7 618.2 L574.7 618.5 L572.7 616.3 L570.7 614.1"/>
<path stroke="#2e9e2e" stroke-width="0.95" stroke-dasharray="3 1.5" d="M581.7 589.0 L582.2 586.0 L580.2 583.8 L577.2 583.6 L575.0 585.6 L574.6 588.6 L572.5 590.8 L569.5 590.9 L567.4 593.0 L566.4 595.9 L565.0 598.5 L564.7 601.5 L564.7 604.5 L562.6 606.7 L560.5 608.8 L557.5 608.6 L555.1 606.8 L552.3 605.9 L549.3 606.1 L546.9 604.2 L545.2 601.8 L547.3 599.6 L549.1 597.3 L549.8 594.3 L547.8 592.1 L545.3 590.5 L545.1 587.5 L548.1 587.6 L549.7 590.1 L552.7 590.6 L555.4 589.2"/>
<path stroke="#2e9e2e" stroke-width="0.95" stroke-dasharray="3 1.5" d="M654.4 577.4 L654.5 574.4 L654.8 571.4 L657.1 569.5 L660.1 569.3 L662.7 567.9 L663.0 564.9 L661.7 567.6 L658.8 568.3 L657.1 570.8 L654.7 572.6 L651.9 573.8 L649.1 572.8 L647.6 570.2 L647.6 567.2 L649.6 564.9 L649.2 561.9 L651.4 559.9 L654.0 558.4 L656.9 559.3 L659.7 558.0 L662.4 556.9 L660.1 555.0 L658.2 552.7 L661.2 552.9 L663.5 551.0 L662.1 553.6 L659.7 555.5 L657.6 557.6 L654.6 557.6 L651.7 557.4 L649.3 559.2 L646.4 558.6 L644.1 556.6 L644.4 553.6 L646.3 551.3"/>
<path stroke="#2e9e2e" stroke-width="0.95" stroke-dasharray="3 1.5" d="M559.2 550.9 L558.6 553.8 L559.1 556.8 L559.0 559.8 L558.7 562.8 L559.1 565.7 L561.5 567.5 L564.5 567.3 L566.4 564.9 L568.3 562.6 L568.4 559.6 L570.7 557.7 L573.6 557.9 L576.1 559.6 L578.5 561.3 L580.7 563.4 L581.6 566.3 L584.0 568.1 L584.5 571.1 L585.0 574.0 L584.0 576.9"/>
<path stroke="#2e9e2e" stroke-width="0.95" stroke-dasharray="3 1.5" d="M622.0 554.9 L624.7 556.2 L625.3 559.2 L625.0 562.2 L624.1 565.0 L625.6 567.6 L626.8 570.3 L629.2 572.2 L630.6 574.8 L632.9 576.8 L635.8 577.3 L638.4 575.7 L639.9 573.1 L639.2 570.2 L637.4 567.8 L635.7 565.3 L636.1 562.3 L638.0 560.0 L639.2 557.3 L642.0 556.3 L644.5 554.6 L646.6 552.5 L649.0 550.6"/>
<path stroke="#2e9e2e" stroke-width="0.95" stroke-dasharray="3 1.5" d="M567.0 566.2 L566.3 569.1 L566.8 572.0 L568.3 574.7 L570.3 576.8 L572.8 578.6 L575.8 579.0 L577.5 581.4 L578.1 584.3 L578.0 587.3 L577.8 590.3 L579.9 592.5 L582.9 592.0 L585.6 590.9 L588.5 591.8 L586.4 594.0 L583.5 594.7 L581.2 592.9 L579.6 590.3 L578.3 587.6 L577.0 584.9 L578.1 582.1 L580.6 580.6 L583.5 581.5 L586.4 582.1 L589.3 581.1 L592.2 581.9 L594.7 580.3 L595.5 577.4 L597.6 575.2 L598.2 572.3 L597.6 569.3"/>
<path stroke="#e58a2c" stroke-width="0.95" stroke-dasharray="3 1.5" d="M583.9 553.5 L581.6 555.4 L578.6 555.9 L576.1 557.5 L573.1 557.6 L570.9 555.5 L570.2 552.6 L567.4 551.5 L570.4 551.3 L567.4 551.9 L564.8 550.5 L561.8 551.1 L560.2 553.6 L557.4 554.7 L556.4 557.5 L557.3 560.4 L559.9 561.9 L562.8 561.4 L565.2 563.2 L568.1 562.3 L570.4 560.4 L573.4 560.4 L575.2 558.0 L576.8 555.5 L579.6 554.4 L582.3 555.8 L583.6 558.5 L586.5 559.2 L588.8 557.3 L591.8 556.7"/>
<path stroke="#e58a2c" stroke-width="0.95" stroke-dasharray="3 1.5" d="M576.6 622.1 L578.2 624.6 L581.2 625.0 L578.2 624.5 L575.5 623.2 L572.8 624.5 L570.0 623.2 L569.2 620.4 L570.6 617.7 L573.0 615.9 L572.8 612.9 L572.3 610.0 L570.1 607.9 L567.2 607.2 L564.2 606.7 L562.3 604.4 L561.2 601.6 L562.8 599.1 L563.6 596.2 L562.0 593.6 L562.2 590.6 L564.4 588.6 L566.6 586.5 L567.4 583.7 L569.0 581.1 L569.3 578.1"/>
<path stroke="#e58a2c" stroke-width="0.95" stroke-dasharray="3 1.5" d="M630.3 605.5 L632.7 607.2 L634.4 609.7 L637.1 611.2 L640.0 611.9 L642.5 610.3 L645.5 610.3 L648.5 609.9 L650.7 607.8 L652.4 605.4 L652.2 602.4 L653.7 599.8 L655.9 597.8 L657.4 595.2 L660.2 594.3 L663.0 595.5 L661.8 598.3 L660.9 601.1 L658.1 602.2 L656.2 604.6 L653.6 606.1 L650.6 606.3 L647.6 606.5 L644.6 606.4 L641.7 605.7 L640.0 603.3 L638.0 601.0 L635.6 599.1 L632.7 599.7 L630.4 601.6"/>
<path stroke="#e58a2c" stroke-width="0.95" stroke-dasharray="3 1.5" d="M597.6 565.7 L599.6 563.4 L600.9 560.7 L603.4 559.0 L605.8 557.2 L608.8 557.1 L611.7 557.6 L614.5 556.5 L616.8 554.6 L619.8 554.2 L622.0 552.1 L624.8 553.0 L627.6 551.7 L630.3 552.9 L631.4 555.7 L630.6 558.6 L628.2 560.4 L625.2 560.8 L622.2 560.9 L619.6 559.5 L617.3 557.5 L615.0 555.6 L612.1 555.9 L609.2 556.9 L608.5 559.9 L606.0 561.4 L604.5 564.0 L601.5 564.6 L599.0 563.1 L596.0 563.3 L594.1 565.7 L592.2 568.0 L592.4 571.0 L590.2 573.0 L587.3 572.3"/>
<path stroke="#e58a2c" stroke-width="0.95" stroke-dasharray="3 1.5" d="M653.3 588.0 L655.8 589.8 L657.9 591.9 L660.8 592.4 L658.3 594.0 L655.8 595.6 L654.4 598.3 L653.2 601.0 L651.6 603.6 L648.6 603.7 L646.3 601.8 L645.2 599.0 L643.4 596.7 L641.7 594.2 L639.2 592.5 L637.1 590.3 L636.6 587.4 L637.7 584.6 L640.5 583.7 L643.4 584.4 L645.5 586.5 L647.8 588.5 L650.8 589.0 L653.8 588.8 L656.8 588.7 L659.8 588.4 L662.7 588.2 L660.5 590.2 L658.8 592.7 L658.1 595.6 L655.7 597.4 L653.7 599.6"/>
<path stroke="#00b3b3" stroke-width="0.95" stroke-dasharray="3 1.5" d="M636.9 558.0 L635.0 555.7 L632.1 556.0 L629.4 557.5 L626.5 557.2 L624.0 555.5 L621.5 553.8 L619.2 551.9 L616.2 551.7 L613.4 552.8 L610.5 552.3 L608.3 554.3 L607.5 557.2 L606.8 560.2 L605.5 562.9 L606.6 565.6 L606.8 568.6 L608.2 571.3 L611.2 571.7 L613.6 573.5"/>
<path stroke="#00b3b3" stroke-width="0.95" stroke-dasharray="3 1.5" d="M658.5 599.8 L657.0 602.4 L657.9 605.3 L659.8 607.6 L659.5 610.6 L657.8 613.0 L656.6 615.8 L655.9 618.7 L654.9 615.9 L654.2 612.9 L654.3 610.0 L652.9 607.3 L653.9 604.5 L653.6 601.5 L654.4 598.6 L657.2 597.6 L659.9 598.9 L662.6 597.6 L660.1 599.2 L657.8 601.1 L656.6 603.9 L657.0 606.9 L658.2 609.6 L658.5 612.6 L658.6 615.6 L656.8 618.0 L656.2 620.9"/>
<path stroke="#00b3b3" stroke-width="0.95" stroke-dasharray="3 1.5" d="M660.1 575.9 L657.2 575.2 L654.3 575.6 L652.2 573.5 L649.2 573.8 L646.8 572.0 L643.9 572.5 L640.9 572.1 L637.9 571.6 L635.4 573.2 L632.5 572.3 L630.4 570.2 L627.4 570.1 L625.7 572.6 L623.2 574.2 L622.8 577.2 L621.0 579.6 L618.1 580.3 L615.5 581.9 L612.7 580.8 L610.0 579.5 L607.6 577.8 L604.6 577.3 L601.6 576.8 L599.8 574.5 L599.7 571.5 L599.5 568.5 L599.6 565.5 L597.3 563.6"/>
<path stroke="#00b3b3" stroke-width="0.95" stroke-dasharray="3 1.5" d="M649.4 559.9 L651.2 562.3 L652.6 564.9 L653.2 567.9 L654.1 570.8 L656.5 572.5 L658.9 574.3 L661.8 575.2 L659.3 573.5 L656.6 572.2 L656.2 569.2 L658.3 567.0 L658.7 564.0 L659.2 561.1 L657.5 558.6 L654.6 557.8 L651.9 556.7 L649.3 558.2 L646.3 558.1 L643.5 556.9 L642.9 554.0 L643.9 551.1 L643.9 554.1 L641.4 555.8 L640.1 558.5 L637.3 559.5"/>
<path stroke="#2e9e2e" stroke-width="0.95" stroke-dasharray="3 1.5" d="M456.5 485.8 L456.4 488.8 L454.3 490.9 L451.5 492.1 L449.6 494.4 L449.3 497.4 L450.2 500.3 L449.2 503.1 L447.3 505.5 L444.3 505.5 L444.9 502.5 L443.7 499.7 L443.2 496.8 L440.5 495.5 L437.6 496.3 L434.6 496.4 L437.2 495.0 L440.1 494.1 L443.1 494.4 L444.5 497.1 L444.3 500.1 L444.9 503.0 L445.9 505.8 L448.7 506.9 L451.5 508.0 L454.3 509.2 L457.2 508.4 L460.2 508.1 L463.2 508.2 L465.9 507.0 L466.9 504.2"/>
<path stroke="#2e9e2e" stroke-width="0.95" stroke-dasharray="3 1.5" d="M457.2 486.7 L456.4 489.6 L458.0 492.1 L458.6 495.1 L457.7 498.0 L459.7 500.3 L459.7 503.3 L459.8 506.3 L457.6 508.3 L455.5 510.5 L457.3 508.1 L459.5 506.1 L461.8 504.1 L461.4 501.1 L459.2 499.1 L456.3 498.4 L453.3 498.4 L450.4 499.1 L447.4 499.5 L444.4 499.1 L441.4 499.2 L438.7 500.4 L441.7 500.0 L444.4 501.3 L446.5 503.4 L447.1 506.3"/>
<path stroke="#2e9e2e" stroke-width="0.95" stroke-dasharray="3 1.5" d="M440.7 447.0 L443.3 448.6 L446.1 447.6 L448.9 448.5 L451.0 450.7 L454.0 450.4 L456.5 452.1 L459.3 453.2 L460.4 456.0 L460.4 459.0 L461.9 461.6 L462.9 464.4 L465.3 466.3 L468.2 466.9 L470.7 465.2 L473.6 464.3 L475.7 462.2 L477.4 459.7 L478.7 457.0"/>
<path stroke="#2e9e2e" stroke-width="0.95" stroke-dasharray="3 1.5" d="M450.4 443.6 L450.6 440.6 L449.7 443.5 L451.2 446.1 L453.9 447.5 L456.7 448.5 L459.4 447.1 L460.4 444.3 L461.0 441.4 L463.3 439.5 L461.9 442.1 L459.1 443.1 L456.4 444.4 L454.8 447.0 L455.1 450.0 L454.3 452.9 L451.9 454.7 L448.9 454.5 L446.3 456.0 L444.0 457.9 L444.1 460.9 L445.4 463.6 L447.7 465.6 L450.7 465.5 L452.6 463.1 L455.6 463.4 L458.5 462.6 L461.3 461.7 L464.3 461.1 L467.1 460.3"/>
<path stroke="#2e9e2e" stroke-width="0.95" stroke-dasharray="3 1.5" d="M470.4 488.0 L467.7 486.6 L467.3 483.7 L465.0 481.8 L463.3 479.3 L460.3 479.0 L458.1 481.1 L455.9 483.1 L453.0 483.8 L450.1 484.4 L447.1 484.9 L445.3 487.3 L444.3 490.1 L444.5 493.1 L447.0 494.8 L450.0 494.8 L452.5 493.2 L452.5 490.2 L450.0 488.5 L447.1 487.8 L444.5 486.4"/>
<path stroke="#2e9e2e" stroke-width="0.95" stroke-dasharray="3 1.5" d="M446.9 464.7 L445.7 461.9 L442.9 460.7 L442.2 457.8 L442.7 454.8 L441.5 452.1 L440.4 449.3 L441.2 446.4 L443.8 444.8 L446.7 444.1 L449.7 444.2 L452.3 445.7 L452.9 448.6 L453.5 451.5 L453.4 454.5 L451.6 457.0 L449.8 459.3 L449.5 462.3 L448.8 465.2 L448.9 468.2 L447.8 471.0 L445.5 472.9 L442.5 472.6 L440.1 474.4 L440.3 477.4 L438.1 479.5 L435.2 480.4 L437.6 482.3 L437.5 485.3 L439.4 487.6"/>
<path stroke="#2e9e2e" stroke-width="0.95" stroke-dasharray="3 1.5" d="M445.9 499.1 L447.3 496.4 L449.8 494.8 L451.8 492.5 L454.0 490.5 L454.1 487.5 L456.4 485.6 L458.6 483.6 L461.6 483.6 L464.5 484.1 L467.1 482.5 L470.1 482.2 L472.2 480.2 L472.9 477.2 L470.9 474.9 L468.4 473.3 L466.6 470.9 L464.4 468.9 L461.5 468.1 L458.9 466.7 L456.5 464.8 L453.7 463.7"/>
<path stroke="#2e9e2e" stroke-width="0.95" stroke-dasharray="3 1.5" d="M461.4 481.0 L461.3 484.0 L462.0 487.0 L460.4 489.5 L461.4 492.4 L463.8 494.2 L464.9 497.0 L464.9 500.0 L466.0 502.8 L466.9 505.7 L468.4 508.3 L471.3 508.6 L473.8 506.9 L475.1 504.2 L475.4 501.2 L475.1 498.3 L474.0 495.4 L475.2 492.7 L477.0 490.3 L479.8 489.1"/>
<path stroke="#2e9e2e" stroke-width="0.95" stroke-dasharray="3 1.5" d="M452.5 504.6 L449.6 505.6 L446.9 504.2 L444.3 502.8 L441.8 501.1 L441.6 498.1 L440.4 495.4 L439.8 492.5 L439.7 489.5 L438.5 486.7 L435.8 485.4 L437.9 483.3 L440.5 481.8 L442.7 479.7 L442.7 476.7 L443.8 474.0 L446.6 472.9 L449.6 472.6"/>
<path stroke="#2e9e2e" stroke-width="0.95" stroke-dasharray="3 1.5" d="M452.7 468.0 L455.2 469.7 L458.1 470.3 L459.7 472.8 L459.5 475.8 L458.5 478.7 L458.2 481.6 L456.0 483.7 L453.1 483.0 L450.3 481.9 L447.5 480.9 L444.7 482.2 L442.5 484.3 L439.6 483.5 L436.7 484.2 L439.3 482.6 L442.3 482.7 L445.0 481.4 L445.5 478.5 L447.1 475.9 L449.6 474.3 L452.5 474.8 L454.7 476.9 L457.7 477.2 L460.6 478.0 L463.4 477.1 L465.9 475.4 L468.6 474.1 L469.5 471.2 L472.4 470.3 L474.5 468.2 L477.5 468.2"/>
<path stroke="#2e9e2e" stroke-width="0.95" stroke-dasharray="3 1.5" d="M470.2 474.2 L472.4 476.2 L473.5 479.1 L476.3 479.9 L478.9 478.4 L479.0 475.4 L476.6 473.6 L473.7 474.1 L470.8 473.1 L467.8 473.5 L466.0 475.9 L464.3 478.3 L463.2 481.2 L465.0 483.6 L468.0 483.8 L470.7 482.5 L473.2 480.8 L473.9 477.9 L474.0 474.9 L474.1 471.9 L476.4 470.0 L479.1 468.6 L481.0 466.4 L481.5 463.4 L480.1 460.7 L478.2 458.5 L478.8 455.5 L481.5 454.3 L482.7 451.5 L484.7 449.3 L487.6 448.3 L490.2 449.9 L491.7 452.5 L492.4 455.4 L490.0 457.1 L487.1 456.3 L485.7 453.7 L486.5 450.8"/>
<path stroke="#2e9e2e" stroke-width="0.95" stroke-dasharray="3 1.5" d="M482.4 477.3 L483.6 480.1 L482.1 482.7 L481.4 485.6 L480.1 482.9 L478.9 480.1 L480.1 477.4 L478.8 474.6 L476.1 473.3 L473.1 473.6 L470.6 475.3 L469.7 478.1 L470.7 480.9 L473.0 482.8 L475.4 484.6 L478.3 483.8 L480.6 485.7 L477.7 485.1 L474.7 484.7 L473.2 482.1 L471.0 480.0 L468.3 478.7 L465.3 478.6 L462.5 477.6 L461.6 474.8 L460.2 472.1 L457.2 471.9 L455.5 469.4 L456.6 466.6 L458.4 464.2 L460.8 462.4"/>
<path stroke="#2e9e2e" stroke-width="0.95" stroke-dasharray="3 1.5" d="M474.7 440.5 L477.7 440.5 L474.9 441.4 L472.7 443.5 L470.6 445.7 L467.6 445.6 L465.0 444.3 L462.0 444.0 L459.1 444.6 L456.8 446.6 L457.1 449.6 L457.2 452.6 L459.2 454.8 L462.0 455.9 L463.7 458.4 L466.6 459.1 L469.1 457.4 L469.3 454.4 L470.3 451.6 L469.8 448.6 L468.0 446.2 L466.3 443.7 L465.9 440.7 L468.1 438.7 L470.7 440.3 L473.4 439.1 L471.8 441.6 L471.2 444.5 L470.9 447.5 L471.8 450.4 L469.9 452.7 L467.1 453.6"/>
<path stroke="#2e9e2e" stroke-width="0.95" stroke-dasharray="3 1.5" d="M440.2 450.9 L442.0 448.5 L445.0 448.1 L447.9 448.4 L450.4 446.7 L453.1 445.5 L456.0 446.0 L458.5 447.7 L459.8 450.4 L461.3 453.0 L463.8 454.6 L466.8 454.2 L469.7 454.4 L471.7 452.2 L472.3 449.2 L474.3 447.0 L477.0 445.8 L480.0 445.3 L482.6 446.9 L485.0 448.7 L487.9 449.4 L490.5 450.8 L491.1 453.8 L490.7 456.8 L489.8 459.6 L487.3 458.0 L484.3 458.6 L481.9 457.0 L481.8 454.0 L481.1 451.0 L479.7 448.4 L477.1 446.9 L474.1 447.4 L471.4 448.7 L469.3 450.8"/>
<path stroke="#e6c800" stroke-width="0.95" stroke-dasharray="3 1.5" d="M472.2 514.3 L472.3 511.3 L471.0 508.6 L468.7 506.7 L467.4 504.0 L465.4 501.8 L462.4 501.6 L459.4 502.0 L456.4 502.4 L454.4 504.7 L453.8 507.6 L451.2 509.1 L453.6 507.2 L456.6 506.8 L459.5 507.2 L462.2 505.9 L465.0 504.8 L466.0 502.0 L467.6 499.4 L469.3 497.0 L468.8 494.0 L468.3 491.1 L466.5 488.7 L465.5 485.8 L467.3 483.4 L470.1 482.5 L471.3 479.7 L472.9 477.2 L474.8 474.9 L477.8 474.7 L480.4 473.3"/>
<path stroke="#e6c800" stroke-width="0.95" stroke-dasharray="3 1.5" d="M440.4 474.7 L437.5 475.4 L440.4 474.9 L443.3 474.0 L445.5 472.0 L447.5 469.7 L450.1 468.2 L452.0 466.0 L454.9 465.3 L457.8 464.5 L459.9 462.3 L462.0 460.1 L465.0 460.0 L467.8 459.0 L470.1 457.0 L472.4 455.1 L475.3 455.8 L477.4 457.9 L478.3 460.8 L480.5 462.8 L482.2 465.3 L483.0 468.2 L484.8 470.6 L486.5 473.1 L483.8 471.7 L481.8 469.5 L480.4 466.8 L481.0 463.9 L482.9 461.6 L484.0 458.8 L485.8 456.4 L485.4 453.4 L486.0 450.5"/>
<path stroke="#e6c800" stroke-width="0.95" stroke-dasharray="3 1.5" d="M457.2 490.5 L459.2 488.3 L458.7 485.3 L457.2 482.7 L456.1 479.9 L456.7 477.0 L455.9 474.1 L454.2 471.6 L454.0 468.6 L452.7 465.9 L450.5 463.9 L449.8 461.0 L448.7 458.2 L447.0 455.8 L447.3 452.8 L446.3 450.0 L445.8 447.0 L447.4 444.5 L450.0 443.0 L452.5 441.2 L455.5 441.0 L457.8 442.8 L457.9 445.8 L457.7 448.8 L458.5 451.7 L457.5 454.5 L457.6 457.5 L456.2 460.2"/>
<path stroke="#e6c800" stroke-width="0.95" stroke-dasharray="3 1.5" d="M482.0 454.2 L479.0 454.1 L477.2 456.4 L476.2 459.3 L478.0 461.7 L481.0 461.8 L483.1 463.9 L483.8 466.8 L483.2 469.7 L481.8 472.4 L481.0 475.3 L479.9 478.0 L479.9 481.0 L479.2 484.0 L477.0 486.0 L475.4 488.6 L475.1 491.5 L475.8 494.5 L477.9 496.6 L477.7 499.6 L475.8 501.8 L474.8 504.7 L476.1 507.4 L477.4 510.0 L477.3 513.0 L478.3 515.8 L477.9 518.8 L478.2 521.8 L480.1 524.1 L480.4 527.1"/>
<path stroke="#e6c800" stroke-width="0.95" stroke-dasharray="3 1.5" d="M478.2 476.5 L477.3 473.7 L474.9 471.9 L472.3 470.3 L469.5 471.3 L466.9 469.8 L464.5 468.0 L461.8 466.6 L459.1 467.7 L456.6 469.4 L453.6 469.9 L450.6 469.8 L447.6 469.7 L445.6 471.9 L445.2 474.9 L443.2 477.2 L441.6 479.7 L440.2 482.3 L438.2 484.6 L436.4 487.0 L437.3 489.8 L436.6 492.8 L434.9 490.3 L437.9 490.6 L440.0 492.7 L440.6 495.7"/>
<path stroke="#2e9e2e" stroke-width="0.95" stroke-dasharray="3 1.5" d="M606.3 464.0 L604.3 461.7 L601.5 460.6 L599.8 458.1 L597.8 455.9 L597.7 452.9 L599.4 450.4 L601.7 448.5 L604.5 447.5 L603.6 450.3 L602.4 453.1 L603.3 455.9 L602.4 458.8 L603.4 461.6 L602.1 464.4 L600.7 467.0 L598.0 468.3 L595.0 468.6 L592.3 469.9 L591.2 472.6 L589.0 474.7 L589.1 477.7 L589.8 480.6 L590.4 483.5 L588.9 486.2 L586.8 488.3 L584.3 489.9 L581.4 490.6 L578.6 491.7 L575.8 492.9 L573.5 494.8 L571.6 497.1 L569.3 499.0 L566.3 498.8 L563.8 497.2 L565.3 494.6 L567.3 492.3"/>
<path stroke="#2e9e2e" stroke-width="0.95" stroke-dasharray="3 1.5" d="M561.5 475.3 L561.3 478.3 L564.1 477.3 L567.1 478.1 L569.9 477.0 L572.8 476.5 L575.8 476.4 L578.8 476.5 L581.1 474.7 L583.9 473.6 L586.6 474.9 L589.6 475.3 L592.5 474.6 L595.0 476.2 L597.2 478.3 L600.1 479.1 L602.4 477.2 L605.4 476.7 L604.3 479.5 L602.9 476.8 L603.0 473.8"/>
<path stroke="#2e9e2e" stroke-width="0.95" stroke-dasharray="3 1.5" d="M575.8 442.9 L577.3 440.4 L579.1 438.0 L578.6 440.9 L576.7 443.3 L573.7 443.3 L570.8 442.7 L567.8 442.8 L565.4 444.6 L564.1 447.3 L564.9 450.2 L567.5 451.7 L570.5 451.6 L572.9 453.4 L575.2 455.3 L575.9 458.2 L574.3 460.7 L571.4 461.8 L570.5 464.6 L567.8 465.8 L566.8 468.7 L564.4 470.5 L561.4 470.6 L564.0 469.1 L564.6 466.1 L562.8 463.7 L561.8 460.9 L564.8 461.2 L567.6 460.2 L569.1 457.6 L569.6 454.7"/>
<path stroke="#2e9e2e" stroke-width="0.95" stroke-dasharray="3 1.5" d="M595.2 483.3 L594.2 486.1 L593.7 489.0 L592.5 491.8 L593.8 494.5 L590.8 495.0 L587.9 495.5 L585.2 494.2 L584.7 491.2 L584.7 488.2 L587.2 486.5 L589.8 485.1 L592.6 483.9 L593.3 481.0 L595.7 479.1 L598.6 479.9 L601.3 478.8 L603.9 480.3 L602.3 482.8 L602.9 479.9 L601.8 477.1 L600.4 474.5 L598.7 472.0 L595.7 471.6 L593.3 473.4 L593.4 476.4 L591.2 478.4 L588.2 478.2 L585.3 477.7 L582.6 479.1 L580.0 480.6"/>
<path stroke="#2e9e2e" stroke-width="0.95" stroke-dasharray="3 1.5" d="M601.3 449.0 L599.0 450.9 L597.7 453.6 L594.8 454.1 L592.1 452.7 L589.4 451.4 L587.6 449.0 L584.8 448.0 L581.8 448.4 L578.8 448.6 L576.0 447.7 L573.5 449.4 L571.2 451.3 L568.2 450.9 L565.4 449.9 L564.7 447.0 L562.1 445.4 L561.5 442.5 L562.8 439.8 L561.4 437.2 L563.0 439.7 L565.6 441.1 L567.8 443.2 L568.1 446.2 L566.6 448.8 L565.6 451.7 L567.1 454.2 L568.5 456.9 L571.1 458.3 L573.6 460.0 L576.6 460.3 L579.6 459.7"/>
<path stroke="#2e9e2e" stroke-width="0.95" stroke-dasharray="3 1.5" d="M606.9 475.3 L605.2 477.7 L602.3 478.7 L599.4 479.0 L596.9 477.2 L594.1 476.4 L591.4 477.7 L590.4 480.6 L587.8 482.1 L584.9 481.3 L583.2 478.8 L581.2 476.6 L578.3 475.6 L575.7 477.1 L573.4 479.0 L570.5 479.9 L567.7 480.9 L566.3 483.5 L564.8 486.2 L561.9 486.5 L564.9 486.4 L566.8 484.0 L568.4 481.5 L571.3 480.9 L574.1 481.9 L576.7 483.5 L577.3 486.4"/>
<path stroke="#2e9e2e" stroke-width="0.95" stroke-dasharray="3 1.5" d="M592.3 449.6 L589.8 448.1 L588.9 445.2 L586.9 442.9 L587.3 440.0 L585.3 437.7 L582.4 436.8 L581.9 439.8 L581.1 442.7 L580.1 445.5 L579.4 448.4 L578.6 451.3 L580.1 454.0 L579.0 456.8 L577.9 459.6 L576.8 462.3 L576.5 465.3 L575.4 468.1 L575.2 471.1 L577.3 473.2 L580.3 473.1 L583.3 473.0 L585.9 471.5 L586.5 468.6 L585.8 465.6 L584.0 463.2 L584.5 460.3"/>
<path stroke="#2e9e2e" stroke-width="0.95" stroke-dasharray="3 1.5" d="M582.9 450.1 L585.5 451.7 L586.3 454.6 L584.8 457.1 L583.1 459.7 L583.5 462.6 L585.9 464.4 L586.7 467.3 L585.3 470.0 L583.2 472.1 L580.2 472.7 L577.4 471.7 L574.5 472.2 L572.3 474.2 L569.3 474.2 L566.9 472.3 L564.4 470.7 L561.4 470.5 L561.3 467.5 L563.5 465.4 L564.1 462.4 L563.6 459.5 L566.6 459.4 L568.5 457.1 L571.1 455.5"/>
<path stroke="#2e9e2e" stroke-width="0.95" stroke-dasharray="3 1.5" d="M584.3 477.0 L584.5 480.0 L583.0 482.7 L583.5 485.6 L584.5 488.4 L587.0 490.1 L587.8 493.0 L587.1 496.0 L585.4 498.4 L585.3 501.4 L583.7 503.9 L580.9 504.9 L579.8 507.7 L577.9 510.0 L576.7 512.8 L575.5 515.5 L576.5 518.4 L575.5 515.5 L576.3 512.7 L574.8 510.1 L572.2 508.6 L569.4 507.5 L566.4 507.0 L563.8 505.5 L566.2 503.6 L569.2 503.8"/>
<path stroke="#2e9e2e" stroke-width="0.95" stroke-dasharray="3 1.5" d="M598.5 467.6 L595.5 467.6 L592.5 467.6 L589.5 467.8 L586.6 468.6 L584.3 466.7 L581.9 464.8 L582.0 461.8 L580.2 459.4 L577.2 459.4 L574.2 459.5 L571.8 461.3 L570.6 464.0 L572.0 466.7 L574.8 467.6 L577.7 468.3 L580.2 466.5 L581.8 464.0 L583.9 461.8 L584.7 459.0 L584.5 456.0 L583.5 453.1 L581.3 451.0 L579.5 448.7 L579.1 445.7"/>
<path stroke="#cc00cc" stroke-width="0.95" stroke-dasharray="3 1.5" d="M610.8 519.3 L613.3 517.6 L616.2 518.2 L618.7 516.6 L621.3 515.1 L624.3 515.1 L626.7 513.3 L629.6 514.1 L631.4 516.5 L634.4 517.2 L637.2 516.1 L639.6 514.4 L642.1 512.7 L645.1 512.7 L647.2 514.8 L647.9 517.7 L648.8 520.6 L648.3 523.6 L649.2 526.4 L651.0 528.9 L653.2 530.9 L654.0 533.8 L655.3 536.5 L657.4 538.7 L659.2 541.1 L661.8 542.5 L658.9 543.1 L655.9 543.4 L653.3 544.9 L650.5 546.0 L647.7 547.1"/>
<path stroke="#cc00cc" stroke-width="0.95" stroke-dasharray="3 1.5" d="M611.4 536.6 L610.5 533.7 L610.7 530.7 L610.5 527.7 L609.7 524.8 L608.9 521.9 L611.8 522.7 L614.5 523.9 L617.2 525.3 L620.1 525.8 L622.2 528.0 L622.6 531.0 L622.7 534.0 L625.0 535.9 L628.0 535.9 L630.3 534.0 L630.4 531.0 L631.4 528.2 L632.6 525.5 L632.1 522.5 L633.9 520.1 L636.3 518.3 L639.3 518.0 L641.8 519.6"/>
<path stroke="#cc00cc" stroke-width="0.95" stroke-dasharray="3 1.5" d="M630.2 521.2 L632.9 522.5 L634.1 525.2 L637.0 526.2 L640.0 526.5 L643.0 526.3 L645.8 525.4 L647.3 522.8 L649.8 521.1 L652.7 520.3 L655.2 518.7 L657.2 516.4 L659.9 515.2 L656.9 515.2 L653.9 515.7 L651.0 514.9 L649.4 512.4 L650.0 509.5 L650.2 506.5 L651.9 504.0 L654.1 502.0 L657.0 501.6"/>
<path stroke="#cc00cc" stroke-width="0.95" stroke-dasharray="3 1.5" d="M617.5 538.5 L615.5 536.2 L615.0 533.3 L614.0 530.5 L612.4 527.9 L611.5 525.0 L610.4 522.2 L608.9 519.7 L607.8 522.5 L608.7 525.3 L611.2 527.0 L612.4 529.7 L610.9 532.4 L608.4 534.1 L606.8 536.6 L607.8 539.4 L606.8 542.3 L604.0 543.4"/>
<path stroke="#cc00cc" stroke-width="0.95" stroke-dasharray="3 1.5" d="M638.0 533.2 L639.9 530.9 L640.3 527.9 L642.9 526.4 L643.9 523.5 L645.3 520.9 L648.3 520.6 L650.7 518.8 L653.6 519.5 L656.1 517.9 L658.2 515.7 L659.5 513.0 L658.5 510.2 L656.3 508.2 L653.6 506.9 L650.7 507.5 L647.7 507.0 L645.7 504.7 L643.4 502.9 L641.1 500.9 L644.1 501.0 L647.1 500.7 L649.8 501.8 L652.5 503.3 L655.3 504.3 L657.9 502.9 L659.7 500.5 L660.9 497.7 L659.6 500.4 L660.7 503.2 L660.4 506.2 L661.0 509.1 L660.6 512.1"/>
<path stroke="#cc00cc" stroke-width="0.95" stroke-dasharray="3 1.5" d="M640.0 523.0 L638.5 525.5 L636.0 527.3 L633.1 526.9 L631.2 524.5 L631.9 521.6 L630.6 518.9 L632.1 516.3 L631.2 513.4 L629.5 510.9 L628.1 508.3 L627.4 505.4 L627.4 508.4 L625.8 510.9 L622.9 511.8 L620.0 511.6 L617.0 511.7 L615.3 514.2 L613.0 516.1 L614.4 513.4 L617.4 513.2 L618.9 510.6 L619.8 507.7 L618.1 510.2 L616.0 512.4 L615.1 515.2 L615.7 518.2 L618.1 520.0 L619.8 522.4 L622.8 522.4 L625.0 520.3 L627.9 519.4 L630.6 518.1 L631.1 515.2"/>
<path stroke="#cc00cc" stroke-width="0.95" stroke-dasharray="3 1.5" d="M604.2 544.1 L601.2 544.4 L598.9 542.5 L601.5 543.9 L604.2 545.2 L606.9 546.6 L603.9 546.7 L603.6 543.7 L605.1 541.1 L607.5 539.3 L610.4 538.5 L613.4 538.5 L615.8 536.7 L618.6 535.6 L621.4 534.7 L624.1 536.0 L626.8 534.5 L629.5 535.8 L632.5 535.9 L634.8 537.8 L637.8 538.1 L639.9 536.0 L642.2 534.1 L642.9 531.2"/>
<path stroke="#cc00cc" stroke-width="0.95" stroke-dasharray="3 1.5" d="M607.2 526.9 L610.1 526.1 L612.0 523.7 L613.6 521.2 L615.8 519.2 L617.8 516.9 L617.7 513.9 L616.9 511.0 L617.4 514.0 L616.8 516.9 L615.8 519.7 L616.3 522.7 L614.1 524.8 L613.4 527.7 L611.8 530.2 L609.1 531.7 L606.2 532.5 L608.3 530.3 L608.1 527.3 L607.7 524.3 L610.0 522.3 L611.5 519.7 L611.4 516.7 L613.4 514.5 L614.7 511.8 L617.7 512.1 L620.6 511.5 L621.9 508.8 L621.9 511.8 L619.6 513.7 L616.9 515.0 L614.7 517.0 L612.0 518.4 L611.7 521.4 L613.8 523.5"/>
<path stroke="#cc00cc" stroke-width="0.95" stroke-dasharray="3 1.5" d="M618.0 545.5 L619.2 548.3 L618.4 545.4 L616.7 542.9 L616.1 540.0 L614.4 537.4 L613.3 534.7 L614.1 531.8 L616.6 530.1 L618.3 527.6 L618.7 524.6 L621.3 523.1 L622.7 520.5 L624.0 517.8 L624.9 514.9 L624.9 511.9 L625.2 508.9 L623.3 506.6 L625.9 508.1 L626.9 510.9 L628.0 513.7"/>
<path stroke="#2e9e2e" stroke-width="0.95" stroke-dasharray="3 1.5" d="M656.9 534.4 L658.8 532.1 L659.6 529.2 L657.8 526.8 L655.4 525.0 L653.9 522.4 L653.9 519.4 L654.9 516.5 L657.0 514.4 L656.5 511.4 L656.7 508.4 L658.8 506.3 L660.2 503.6 L659.7 506.6 L659.7 509.6 L658.2 512.2 L655.3 512.9 L652.6 514.2 L649.6 514.8 L646.6 514.3 L644.9 511.8 L642.6 509.9 L639.8 508.8 L637.2 507.5 L636.9 504.5 L639.0 502.3 L640.8 499.9 L642.5 502.4 L642.0 505.3 L640.3 507.8 L637.6 509.1 L636.8 512.0"/>
<path stroke="#2e9e2e" stroke-width="0.95" stroke-dasharray="3 1.5" d="M613.3 510.5 L612.1 513.2 L610.6 515.8 L609.9 518.7 L610.1 521.7 L609.7 524.7 L611.1 527.3 L613.9 528.5 L616.9 528.7 L619.6 530.0 L622.5 529.5 L625.3 530.6 L628.3 530.7 L630.1 533.1 L633.1 533.6 L635.1 535.8 L635.3 538.8 L633.6 541.3 L631.4 543.3 L630.1 546.0 L627.2 546.7 L628.8 544.1 L629.9 541.3 L628.5 538.7 L626.7 536.3 L624.1 534.8 L622.8 532.0 L620.2 530.5 L619.1 527.7"/>
<path stroke="#2e9e2e" stroke-width="0.95" stroke-dasharray="3 1.5" d="M624.2 544.3 L621.2 544.2 L619.5 541.8 L616.5 541.9 L613.5 541.7 L611.9 539.1 L612.3 536.2 L610.6 533.7 L607.7 533.0 L604.8 532.3 L606.0 529.5 L609.0 529.7 L611.9 530.4 L614.9 530.4 L616.6 532.9 L618.2 535.5 L617.5 538.4 L616.9 541.3 L615.2 543.8 L612.2 544.2 L609.3 543.6 L606.3 543.1"/>
<path stroke="#2e9e2e" stroke-width="0.95" stroke-dasharray="3 1.5" d="M629.8 544.5 L628.6 547.2 L627.8 544.3 L625.0 543.2 L623.4 540.7 L620.4 540.5 L617.6 541.4 L615.5 543.6 L614.4 546.3 L611.5 547.1 L610.4 544.3 L611.2 541.4 L613.4 539.3 L613.1 536.3 L613.0 533.3 L612.4 530.4 L609.8 528.9 L606.8 529.6 L609.8 529.8 L612.6 528.6"/>
<path stroke="#2e9e2e" stroke-width="0.95" stroke-dasharray="3 1.5" d="M647.6 525.3 L645.1 526.9 L642.1 526.6 L639.1 526.3 L636.4 525.0 L633.4 525.1 L631.0 526.9 L628.1 527.5 L625.6 529.1 L625.3 532.1 L626.3 535.0 L627.7 537.6 L630.3 539.0 L633.2 538.3 L636.2 538.8 L639.2 539.1 L642.1 539.5 L644.7 541.0 L647.5 540.0 L650.4 539.0 L652.8 540.8 L655.7 541.4"/>
<path stroke="#2e9e2e" stroke-width="0.95" stroke-dasharray="3 1.5" d="M638.9 517.9 L636.4 519.7 L634.0 521.5 L632.4 524.0 L629.5 524.3 L627.5 526.6 L624.5 526.7 L621.8 527.9 L619.0 526.7 L616.4 528.1 L613.4 528.4 L610.4 528.8 L607.5 528.6 L605.2 530.6 L603.6 533.1 L602.7 535.9 L601.4 538.7 L604.1 537.4 L606.1 535.1 L605.5 532.2 L607.3 534.6 L608.9 537.1 L609.5 540.0 L607.4 542.2 L604.4 542.8 L601.4 542.8 L603.6 540.7 L606.6 540.3 L608.7 538.2 L611.7 538.2 L614.0 540.0 L616.1 542.2 L618.9 543.3"/>
<path stroke="#2e9e2e" stroke-width="0.95" stroke-dasharray="3 1.5" d="M641.3 536.0 L638.5 535.0 L635.5 535.4 L632.7 536.6 L629.8 537.3 L627.9 539.6 L627.2 542.5 L626.6 545.4 L625.9 548.4 L628.4 546.6 L630.5 544.5 L632.4 542.2 L634.0 539.6 L633.7 536.7 L634.5 533.8 L635.6 531.0 L636.6 528.1 L639.2 526.6 L641.2 524.4 L640.6 521.4 L638.4 519.4 L636.4 517.2 L633.5 516.5 L630.5 516.6 L627.7 515.5 L625.1 517.0 L622.6 518.7 L621.6 521.5 L622.6 524.3 L620.9 526.8 L618.1 527.8 L615.1 527.6 L612.9 529.7 L610.0 530.3 L608.1 532.6 L608.8 535.5 L610.9 537.6"/>
<path stroke="#e58a2c" stroke-width="0.95" stroke-dasharray="3 1.5" d="M628.1 538.8 L625.2 537.8 L622.8 539.6 L622.0 542.5 L619.5 544.2 L616.6 544.5 L614.1 542.7 L612.1 540.5 L612.4 537.5 L610.0 535.7 L607.2 534.5 L604.6 536.0 L607.2 537.5 L609.1 539.8 L610.9 542.2 L612.5 544.8 L613.7 547.5 L616.1 545.8 L619.1 545.9 L621.8 544.6 L624.3 543.0 L626.5 540.9 L629.4 540.2"/>
<path stroke="#e58a2c" stroke-width="0.95" stroke-dasharray="3 1.5" d="M573.5 543.9 L570.5 543.4 L567.7 542.5 L565.9 540.1 L568.7 541.1 L571.5 539.8 L574.5 539.8 L576.1 542.3 L576.3 545.3 L579.0 546.8 L581.6 545.3 L584.5 544.5 L586.8 546.4 L589.3 548.1 L592.3 547.5 L594.3 545.2 L593.5 542.3 L596.0 544.1 L599.0 544.2 L601.3 542.3 L603.3 540.1 L606.0 538.7 L608.9 539.4 L611.9 539.3 L614.6 540.6 L617.0 542.4 L620.0 543.0 L622.6 541.7 L625.4 540.4"/>
<path stroke="#e58a2c" stroke-width="0.95" stroke-dasharray="3 1.5" d="M626.9 524.7 L628.1 521.9 L630.9 521.0 L631.9 518.2 L632.9 515.4 L634.0 512.6 L634.1 509.6 L633.0 506.8 L633.6 503.9 L635.3 506.3 L638.3 506.4 L640.6 504.4 L641.8 501.7 L644.2 499.9 L646.3 497.7 L649.0 496.4 L651.9 495.8 L654.8 495.0 L657.6 496.2 L659.1 498.8 L658.3 501.6 L655.5 502.8 L652.6 503.5 L651.5 506.3 L650.1 509.0 L650.8 511.9 L650.7 514.9 L649.7 517.7 L649.0 520.7 L649.2 523.6 L650.0 526.5 L652.6 528.0"/>
<path stroke="#e6c800" stroke-width="0.95" stroke-dasharray="3 1.5" d="M379.5 379.2 L376.8 380.6 L374.7 382.7 L372.4 384.7 L369.8 386.3 L367.0 387.3 L365.8 390.0 L365.1 392.9 L362.3 394.1 L359.4 393.2 L357.4 391.0 L357.5 388.0 L355.2 386.2 L353.3 383.8 L353.6 380.8 L356.0 379.0 L356.5 376.1 L356.7 373.1 L358.9 371.0 L358.7 368.0 L356.5 366.0 L353.6 366.8 L350.6 367.0 L347.7 367.7 L345.0 366.4 L347.3 368.3 L349.4 370.5 L351.4 372.7 L354.4 373.1 L357.1 374.3 L360.0 375.0 L362.2 377.1 L363.9 379.6 L366.9 380.0"/>
<path stroke="#e6c800" stroke-width="0.95" stroke-dasharray="3 1.5" d="M351.0 272.8 L354.0 273.0 L356.7 274.4 L359.3 272.9 L361.8 271.1 L364.2 269.3 L364.6 266.4 L365.0 263.4 L365.4 260.4 L364.9 257.4 L366.7 255.0 L369.7 254.5 L372.2 256.2 L375.2 256.4 L377.1 254.1 L378.4 251.4 L377.5 248.6 L377.8 245.6 L376.7 242.8 L376.4 245.8 L374.7 248.3 L373.3 250.9 L372.9 253.9 L371.6 256.6 L372.9 259.3 L375.5 260.8 L377.3 263.2 L377.8 266.2 L380.2 267.9 L383.1 267.2 L386.0 266.5 L389.0 266.7"/>
<path stroke="#e6c800" stroke-width="0.95" stroke-dasharray="3 1.5" d="M355.1 253.8 L354.3 256.7 L351.9 258.4 L350.9 261.3 L350.1 264.1 L347.2 265.0 L349.9 263.7 L352.6 265.0 L355.5 264.2 L358.2 265.6 L360.4 267.6 L363.2 268.6 L365.7 270.2 L368.6 269.3 L371.5 268.6 L374.1 267.1 L375.6 264.5 L375.9 261.5 L375.0 258.6 L372.2 257.7 L369.2 258.0 L366.8 256.2 L363.9 257.0 L361.5 258.9 L359.3 260.9 L357.1 263.0 L354.2 262.3"/>
<path stroke="#e6c800" stroke-width="0.95" stroke-dasharray="3 1.5" d="M372.5 367.0 L373.1 364.1 L374.7 361.5 L375.2 358.6 L375.6 355.6 L375.6 352.6 L375.5 349.6 L373.1 347.8 L372.5 344.8 L370.2 343.0 L367.7 341.3 L367.3 338.3 L367.0 335.3 L368.8 332.9 L369.2 330.0 L369.5 327.0 L369.1 324.0 L367.6 321.4 L365.6 319.2 L363.3 317.3 L362.7 314.3 L364.7 312.2 L364.6 309.2 L365.4 306.3 L366.4 303.4 L366.9 300.5 L364.8 298.3 L362.2 296.8"/>
<path stroke="#e6c800" stroke-width="0.95" stroke-dasharray="3 1.5" d="M357.7 304.3 L354.8 305.3 L352.7 307.4 L352.9 310.4 L354.6 312.9 L357.6 313.0 L360.0 311.2 L362.3 309.4 L365.2 308.6 L366.8 306.0 L368.8 303.8 L368.5 300.8 L365.9 299.2 L363.2 298.0 L361.2 295.7 L358.2 295.3 L355.3 296.0 L352.3 296.4 L349.3 296.5 L347.5 294.1 L349.1 291.6 L352.0 290.7 L353.5 288.1 L355.8 286.3 L357.4 283.7 L358.4 280.9 L357.8 277.9 L358.6 275.1"/>
<path stroke="#e6c800" stroke-width="0.95" stroke-dasharray="3 1.5" d="M372.3 338.0 L374.9 336.5 L377.9 336.7 L380.2 334.8 L381.0 332.0 L379.3 329.5 L376.4 328.8 L373.5 328.1 L370.6 327.4 L369.3 324.7 L367.7 322.1 L366.3 319.4 L363.4 319.0 L360.6 320.2 L358.5 322.4 L357.7 325.3 L355.5 327.3 L353.6 329.6 L353.8 332.6 L353.7 335.6"/>
<path stroke="#e6c800" stroke-width="0.95" stroke-dasharray="3 1.5" d="M347.9 271.9 L350.4 270.2 L353.2 268.9 L356.1 268.2 L358.3 270.2 L361.2 269.3 L363.3 267.2 L366.3 266.9 L368.1 264.5 L368.5 261.5 L367.0 259.0 L365.5 256.3 L363.1 254.6 L360.5 253.1 L359.2 250.4 L356.5 249.2 L353.6 249.9 L350.8 248.8 L347.8 249.0 L345.1 247.6"/>
<path stroke="#e6c800" stroke-width="0.95" stroke-dasharray="3 1.5" d="M368.1 345.8 L368.5 348.7 L371.0 350.4 L371.3 353.4 L374.0 354.8 L376.8 353.8 L379.8 353.8 L381.7 356.1 L383.4 358.5 L386.4 358.8 L384.5 361.0 L381.8 362.4 L379.8 364.7 L376.9 364.4 L374.0 365.3 L372.5 367.9 L369.5 368.2 L367.8 370.7 L366.9 373.6 L367.9 376.4 L368.1 379.4 L368.3 382.4 L369.9 384.9 L370.8 387.8 L373.5 389.1 L373.9 392.1 L372.7 394.8"/>
<path stroke="#e6c800" stroke-width="0.95" stroke-dasharray="3 1.5" d="M351.1 345.4 L351.4 348.3 L354.0 349.8 L356.5 351.5 L357.6 354.3 L360.5 355.1 L362.7 357.0 L365.1 358.9 L366.7 361.4 L366.0 364.4 L367.1 367.1 L367.5 370.1 L369.6 372.2 L371.6 374.5 L372.0 377.5 L374.1 379.6 L377.1 379.7 L379.9 380.6 L382.7 381.7 L385.5 382.8 L383.9 380.3 L381.9 378.0 L380.5 375.3 L378.3 373.4 L375.3 373.3 L372.4 372.3 L371.4 369.5 L372.8 366.8 L375.6 365.6 L376.2 362.6 L375.5 359.7 L373.7 357.3 L373.0 354.4 L372.1 351.5 L372.4 348.5"/>
<path stroke="#e6c800" stroke-width="0.95" stroke-dasharray="3 1.5" d="M380.6 334.7 L379.6 331.9 L376.7 331.1 L373.9 329.9 L371.6 328.0 L369.2 326.3 L366.2 326.0 L364.3 323.7 L363.2 320.8 L361.1 318.7 L360.4 315.8 L362.0 313.3 L363.1 310.5 L364.6 307.9 L363.7 305.0 L361.1 303.5 L360.1 300.7 L361.7 298.1 L364.7 297.7 L366.7 295.5 L369.4 294.2 L371.8 292.4 L372.8 289.6 L375.5 288.3 L376.5 285.5 L375.0 282.9 L372.8 280.8 L369.8 280.6 L366.9 281.1 L363.9 280.8 L360.9 280.4"/>
<path stroke="#e6c800" stroke-width="0.95" stroke-dasharray="3 1.5" d="M365.0 405.2 L365.3 408.2 L366.8 410.8 L368.2 413.4 L370.7 415.2 L372.6 417.5 L371.9 414.6 L369.8 412.5 L369.0 409.6 L367.4 407.0 L368.6 404.3 L367.1 401.7 L364.2 400.9 L361.6 399.4 L360.0 396.9 L361.2 394.1 L361.6 391.2 L363.2 388.6 L366.2 388.3 L369.1 388.8 L372.0 389.4 L375.0 389.5 L378.0 389.6 L380.7 391.0 L383.5 390.0"/>
<path stroke="#e6c800" stroke-width="0.95" stroke-dasharray="3 1.5" d="M359.9 303.7 L358.5 306.4 L355.5 306.9 L353.1 308.7 L351.2 311.0 L350.1 313.8 L350.1 316.8 L350.9 313.9 L351.3 310.9 L353.7 309.1 L356.5 308.1 L359.1 309.5 L361.2 311.7 L363.5 313.6 L366.5 313.2 L369.4 312.8 L372.4 312.4 L375.4 312.8 L377.4 315.0 L380.0 316.6 L382.4 318.4 L383.2 321.3"/>
<path stroke="#2e9e2e" stroke-width="0.95" stroke-dasharray="3 1.5" d="M354.4 386.2 L351.7 384.9 L350.6 382.2 L350.6 379.2 L350.8 376.2 L352.7 373.9 L355.6 373.2 L356.7 370.4 L359.6 369.5 L362.5 370.1 L365.5 370.5 L368.2 369.2 L371.0 370.2 L372.4 372.8 L372.3 375.8 L370.7 378.4 L370.2 381.3 L370.4 384.3 L372.6 386.4 L372.3 389.4 L371.8 392.3 L369.4 394.1 L366.4 393.7 L363.8 395.2 L361.1 396.4 L358.6 394.7 L357.1 392.1 L354.7 390.4 L351.7 390.0"/>
<path stroke="#2e9e2e" stroke-width="0.95" stroke-dasharray="3 1.5" d="M356.6 396.4 L356.0 399.4 L356.4 402.4 L356.6 405.3 L355.1 408.0 L352.5 409.3 L350.1 411.1 L347.1 411.3 L344.1 411.8 L341.2 412.5 L339.1 414.6 L341.0 416.9 L343.9 416.3 L346.9 416.7 L349.9 416.9 L347.0 415.9 L345.5 413.3 L343.0 411.6"/>
<path stroke="#2e9e2e" stroke-width="0.95" stroke-dasharray="3 1.5" d="M362.7 374.8 L364.8 372.6 L364.6 369.6 L363.6 366.8 L361.2 365.0 L358.3 364.1 L355.5 363.0 L353.8 360.5 L353.0 357.6 L353.0 354.6 L352.2 351.7 L353.3 348.9 L354.4 346.1 L354.6 343.1 L353.3 340.5 L352.9 337.5 L352.4 334.5 L351.8 331.6 L353.9 329.4 L356.8 330.0 L359.7 330.7 L362.3 329.2 L365.3 329.7 L368.0 331.0 L369.2 333.7 L367.6 336.3 L364.9 337.6 L362.3 336.2 L359.7 334.7 L356.9 335.8 L353.9 335.9 L351.9 338.1 L349.8 340.3 L347.5 342.2 L350.3 341.1 L352.6 339.1"/>
<path stroke="#2e9e2e" stroke-width="0.95" stroke-dasharray="3 1.5" d="M393.5 281.6 L392.2 278.9 L389.5 277.5 L388.1 274.9 L386.5 272.3 L383.5 271.8 L380.6 271.4 L378.0 269.9 L375.7 268.0 L372.7 267.6 L371.1 265.0 L368.2 264.3 L365.9 266.3 L364.9 269.1 L362.2 270.4 L359.4 271.6 L356.5 271.9 L353.6 272.9 L351.2 274.7 L349.0 276.7 L348.5 279.7 L347.4 282.5 L347.4 285.5 L349.6 283.4 L350.1 280.5 L352.8 279.0 L353.7 276.2 L356.4 275.0 L359.1 273.5 L362.0 274.0"/>
<path stroke="#2e9e2e" stroke-width="0.95" stroke-dasharray="3 1.5" d="M484.3 295.0 L483.2 292.2 L482.9 289.2 L484.8 286.9 L487.8 286.6 L490.8 286.6 L490.5 289.6 L487.8 291.0 L486.9 293.8 L487.0 296.8 L484.8 298.8 L482.8 301.0 L482.3 304.0 L482.9 306.9 L481.1 309.4 L480.3 312.2 L479.6 309.3 L480.6 306.5 L481.7 303.7 L480.3 301.1 L479.3 298.2"/>
<path stroke="#2e9e2e" stroke-width="0.95" stroke-dasharray="3 1.5" d="M416.9 295.4 L417.7 298.3 L417.8 301.3 L415.7 303.5 L414.8 306.3 L415.4 309.2 L415.3 306.2 L413.0 304.4 L412.0 301.6 L411.8 298.6 L410.3 296.0 L409.9 293.0 L408.6 290.3 L408.5 287.3 L410.7 285.2 L413.7 285.4 L416.4 284.3 L419.3 285.1 L422.1 284.0 L424.6 282.3 L427.5 281.7 L429.3 279.3 L429.0 276.4 L430.3 273.6 L431.1 270.8 L430.4 267.9 L432.0 265.3 L431.0 262.5 L428.6 260.7 L425.6 260.8 L423.3 262.7 L423.1 265.7 L421.4 268.2 L420.8 271.1 L418.6 273.2 L415.6 273.6 L412.7 273.1 L409.7 273.1 L406.7 273.3 L404.0 272.1"/>
<path stroke="#2e9e2e" stroke-width="0.95" stroke-dasharray="3 1.5" d="M467.3 304.4 L468.6 307.1 L471.5 307.6 L474.4 308.6 L477.1 307.2 L479.2 305.1 L481.8 303.6 L484.5 304.8 L486.3 307.2 L487.1 310.1 L484.6 308.4 L482.2 306.6 L480.7 304.0 L477.9 303.0 L476.8 300.2 L477.2 297.2 L479.5 295.4 L482.5 295.8 L484.4 298.1 L486.7 300.0 L489.7 299.8 L491.6 297.5 L492.2 294.6 L489.4 295.7 L486.9 297.3 L486.1 300.2 L487.7 302.8 L489.4 305.2 L492.3 306.2"/>
<path stroke="#2e9e2e" stroke-width="0.95" stroke-dasharray="3 1.5" d="M428.3 311.1 L431.3 311.1 L434.2 311.9 L436.9 310.5 L439.9 310.5 L441.6 308.0 L440.7 305.2 L439.2 302.6 L439.0 299.6 L437.6 296.9 L438.9 294.2 L441.8 293.4 L444.7 294.3 L447.2 292.8 L449.7 291.1 L452.5 292.0 L454.9 290.2 L457.9 289.6 L459.3 287.0 L461.9 285.4 L464.8 284.5 L467.2 282.8 L467.1 279.8 L465.8 277.1 L465.0 274.2 L466.9 271.9 L466.0 269.0 L467.8 266.6"/>
<path stroke="#2e9e2e" stroke-width="0.95" stroke-dasharray="3 1.5" d="M418.9 264.9 L421.9 264.5 L424.9 264.7 L427.8 264.0 L430.2 262.1 L430.2 259.1 L431.1 256.3 L430.5 259.2 L428.2 261.1 L426.3 263.4 L425.7 266.3 L423.5 268.4 L420.5 268.2 L418.3 270.2 L415.3 270.1 L412.5 271.1 L409.5 270.5 L406.6 271.2 L404.4 269.1 L406.5 267.0 L406.2 264.0 L404.0 262.0 L406.9 261.7 L408.4 259.1 L407.7 256.2 L405.6 254.0 L408.6 254.0 L407.7 256.9 L407.7 259.9 L409.7 262.2 L412.5 263.2 L415.3 264.3 L418.3 263.9 L421.1 262.9 L423.6 261.3 L426.3 259.8"/>
<path stroke="#2e9e2e" stroke-width="0.95" stroke-dasharray="3 1.5" d="M465.1 270.2 L465.4 267.2 L466.4 264.3 L468.8 262.4 L471.6 261.3 L469.9 263.9 L468.5 266.5 L466.0 268.2 L464.8 270.9 L465.7 273.8 L464.5 276.5 L464.3 279.5 L462.1 281.5 L459.1 281.3 L456.6 283.0 L453.7 283.5 L450.8 282.6 L448.5 280.7 L448.3 277.7 L446.1 275.6 L443.2 274.8 L440.8 276.6 L439.9 279.4 L439.6 282.4 L439.0 285.3 L437.3 287.8 L434.5 288.8 L431.5 289.1 L429.4 286.9 L426.4 286.8 L423.6 287.9 L422.9 290.8 L421.3 293.3 L422.1 296.2 L421.2 299.1 L421.3 302.1 L422.9 304.7 L422.9 307.7 L423.9 310.5 L426.5 311.9"/>
<path stroke="#2e9e2e" stroke-width="0.95" stroke-dasharray="3 1.5" d="M423.4 260.2 L425.2 257.8 L424.4 254.9 L426.0 257.5 L427.5 260.1 L428.0 263.0 L427.6 266.0 L429.3 268.5 L429.9 271.4 L430.5 274.4 L431.5 277.2 L429.9 279.7 L428.5 282.4 L426.2 284.4 L423.3 284.8 L420.3 285.4 L418.4 287.7 L418.2 290.7 L419.3 293.6 L421.8 295.2 L424.5 296.4 L427.2 295.0 L430.2 295.2 L432.7 296.9 L434.6 299.2 L437.6 299.6 L440.3 298.2 L443.1 299.3 L444.5 301.9 L444.6 304.9 L442.6 307.2 L442.2 310.2 L443.1 313.0"/>
<path stroke="#2e9e2e" stroke-width="0.95" stroke-dasharray="3 1.5" d="M440.0 281.6 L437.2 282.7 L434.7 281.0 L432.5 279.1 L429.8 277.7 L426.8 277.6 L425.0 280.0 L422.2 281.0 L420.6 283.6 L419.1 286.2 L416.2 287.0 L413.2 286.4 L410.3 285.8 L407.6 287.0 L404.6 286.4 L401.7 285.6 L401.7 282.6 L401.1 279.7 L402.9 277.3 L404.8 275.0 L407.2 273.1 L410.2 273.5 L413.2 273.5 L416.1 272.9 L419.0 273.7"/>
<path stroke="#2e9e2e" stroke-width="0.95" stroke-dasharray="3 1.5" d="M466.5 262.9 L467.9 265.6 L468.8 268.4 L468.2 271.4 L468.8 274.3 L470.7 276.6 L473.5 277.8 L476.4 277.4 L478.2 275.0 L480.8 273.5 L483.6 272.4 L486.2 270.9 L489.2 271.1 L488.0 273.9 L489.4 276.6 L488.6 279.5 L490.5 281.8 L488.0 283.3 L485.1 282.3"/>
<path stroke="#e6c800" stroke-width="0.95" stroke-dasharray="3 1.5" d="M490.5 277.2 L490.9 274.2 L488.1 273.1 L486.2 270.8 L483.3 270.0 L480.5 270.9 L479.2 273.6 L478.3 276.5 L475.8 278.2 L475.9 281.2 L474.5 283.8 L473.7 286.7 L470.9 287.9 L468.1 288.9 L465.3 290.0 L463.2 292.2 L460.3 292.5 L457.3 293.0 L454.4 292.4 L451.8 290.9 L450.6 288.1 L448.4 286.1 L445.4 286.2 L443.1 288.0 L440.3 289.2 L439.1 291.9 L440.7 294.5 L442.9 296.6 L444.3 299.2 L447.0 300.4 L450.0 300.5 L452.2 298.5 L455.2 299.2 L456.7 301.7 L455.4 304.5 L453.4 306.7 L452.0 309.4 L451.9 312.4"/>
<path stroke="#e6c800" stroke-width="0.95" stroke-dasharray="3 1.5" d="M431.1 300.9 L428.1 301.2 L426.0 299.1 L423.0 299.4 L420.5 297.7 L418.1 296.0 L415.8 294.1 L412.8 294.0 L410.4 295.9 L407.9 297.5 L404.9 297.4 L407.5 295.8 L410.2 297.0 L413.2 297.1 L415.3 295.0 L417.7 293.1 L420.6 293.6 L422.8 295.7 L425.7 296.2 L428.1 294.4 L428.8 291.4 L431.5 290.2"/>
<path stroke="#e6c800" stroke-width="0.95" stroke-dasharray="3 1.5" d="M413.7 299.1 L412.6 301.9 L410.3 303.8 L409.4 300.9 L408.3 298.1 L406.2 295.9 L403.5 294.8 L400.6 293.9 L402.7 291.7 L402.3 288.8 L399.6 287.4 L402.3 286.2 L404.8 284.5 L407.2 282.6 L410.1 283.1 L412.5 281.3 L415.5 281.2 L417.7 283.2 L420.1 284.9 L421.7 287.5 L424.7 287.7 L427.7 287.3 L429.0 284.6 L431.4 282.8 L434.3 283.7"/>
<path stroke="#e6c800" stroke-width="0.95" stroke-dasharray="3 1.5" d="M486.3 284.9 L489.3 284.2 L486.3 283.6 L483.4 283.1 L480.9 284.8 L478.4 286.4 L475.4 286.7 L472.5 286.0 L471.1 283.3 L472.6 280.7 L474.8 278.6 L474.4 275.7 L474.8 272.7 L475.0 269.7 L474.2 266.8 L473.8 263.8 L472.9 266.7 L470.9 268.9 L470.3 271.9 L468.0 273.8 L465.5 275.4 L462.5 275.0 L459.5 274.7 L457.7 272.3 L457.6 269.3 L459.3 266.8 L462.1 265.7 L465.1 265.5 L467.0 263.2 L470.0 262.9 L473.0 263.1 L475.8 264.0 L478.6 265.3 L480.1 267.8 L481.1 270.7 L481.7 273.6 L483.9 275.7 L486.7 276.7"/>
<path stroke="#e6c800" stroke-width="0.95" stroke-dasharray="3 1.5" d="M411.3 273.6 L408.6 272.4 L406.7 270.1 L404.5 268.1 L405.4 265.2 L404.0 262.5 L404.0 259.5 L405.9 257.2 L408.8 256.3 L410.3 253.7 L408.3 255.9 L406.1 257.9 L403.2 257.1 L406.0 256.3 L408.7 257.6 L411.7 257.4 L414.7 257.5 L417.3 259.0 L420.0 257.8 L423.0 258.0 L425.6 256.5 L422.7 257.5 L420.6 259.7 L417.7 259.1 L415.4 261.0 L412.5 260.4 L409.5 261.0 L407.3 259.0 L404.6 257.8 L406.8 255.7 L409.5 254.5 L412.3 255.7 L415.2 255.1"/>
<path stroke="#e6c800" stroke-width="0.95" stroke-dasharray="3 1.5" d="M482.5 311.8 L483.9 309.1 L485.5 306.6 L486.5 303.8 L485.0 301.1 L485.0 298.1 L484.8 295.2 L485.0 292.2 L486.6 289.6 L485.6 286.8 L485.9 283.8 L483.5 282.0 L481.2 280.1 L478.2 280.8 L476.6 283.3 L473.9 284.5 L473.3 287.5 L470.8 289.0 L470.3 292.0 L471.4 294.8 L472.4 297.6 L473.1 300.5 L475.3 302.5 L476.8 305.1 L478.1 307.8 L480.4 309.8 L483.2 310.7 L481.2 308.5 L478.2 308.6 L476.3 306.3 L474.5 303.9 L474.1 301.0 L473.8 298.0 L474.6 295.1 L474.5 292.1 L473.4 289.3 L471.6 286.9"/>
<path stroke="#e6c800" stroke-width="0.95" stroke-dasharray="3 1.5" d="M490.3 291.1 L488.4 293.4 L485.4 293.3 L482.7 292.1 L480.1 293.6 L477.1 293.6 L474.9 295.7 L471.9 295.3 L469.2 296.7 L467.2 298.9 L467.6 301.8 L469.5 304.1 L472.4 304.6 L474.9 306.3 L475.2 309.3 L477.4 311.3 L480.4 311.9 L477.6 310.8 L476.0 308.2 L473.7 306.4 L470.8 306.9 L467.9 307.8 L465.2 309.1 L464.1 311.9 L465.5 309.2"/>
<path stroke="#cc00cc" stroke-width="0.95" stroke-dasharray="3 1.5" d="M750.3 642.3 L750.2 639.3 L752.7 637.5 L755.0 635.6 L757.9 636.3 L760.7 635.2 L763.5 634.2 L766.4 635.0 L768.7 633.0 L771.6 633.4 L774.6 633.4 L776.9 631.4 L779.8 630.8 L782.3 632.6 L783.8 635.2 L785.7 637.5 L784.8 640.3 L782.5 642.3 L780.7 644.7 L779.1 647.2 L776.1 647.5 L773.1 647.6 L770.3 646.5 L767.9 644.7 L767.8 641.7 L765.3 640.0 L763.9 637.4 L761.0 636.7 L759.0 634.4 L756.0 634.7 L753.9 636.8 L751.0 637.8 L748.4 639.3 L747.4 642.1"/>
<path stroke="#cc00cc" stroke-width="0.95" stroke-dasharray="3 1.5" d="M774.1 624.0 L776.6 622.4 L777.8 619.6 L780.8 619.0 L783.3 620.6 L784.7 623.3 L784.6 626.3 L784.0 629.2 L782.2 631.6 L782.4 634.6 L782.9 637.5 L781.4 640.2 L781.7 643.2 L779.6 645.3 L776.6 645.4 L773.7 646.1 L771.0 647.5 L768.5 649.2 L766.5 651.3 L763.5 650.8 L760.5 651.0"/>
<path stroke="#cc00cc" stroke-width="0.95" stroke-dasharray="3 1.5" d="M743.8 592.7 L745.1 590.0 L746.9 587.6 L748.8 585.3 L749.3 588.3 L747.2 590.4 L747.1 593.4 L746.1 596.2 L744.4 598.7 L745.3 595.8 L747.5 593.8 L750.4 594.1 L753.2 592.9 L754.7 590.3 L757.6 589.6 L759.5 587.3 L761.6 589.5 L764.6 589.2 L767.6 588.9 L770.5 589.6 L773.4 588.8 L775.9 590.4 L778.9 590.0 L781.7 591.1 L784.2 589.4 L786.0 587.0 L784.9 589.8 L782.1 590.8 L780.1 593.1"/>
<path stroke="#cc00cc" stroke-width="0.95" stroke-dasharray="3 1.5" d="M769.2 621.5 L768.9 624.4 L769.8 627.3 L768.7 630.1 L766.7 632.4 L767.4 635.3 L769.4 637.5 L771.8 639.3 L772.4 642.2 L772.2 645.2 L773.9 647.7 L776.8 648.4 L779.1 650.4 L782.0 649.8 L783.9 647.5 L786.3 645.7 L789.3 646.4 L786.5 645.1 L785.6 642.3 L783.9 639.8 L781.0 639.0 L778.0 639.0 L775.4 637.4 L772.8 635.9 L772.1 632.9 L771.3 630.1 L768.7 628.5 L766.5 626.4 L763.5 626.4 L760.8 625.0 L757.9 624.4 L755.3 625.9 L752.3 626.2"/>
<path stroke="#cc00cc" stroke-width="0.95" stroke-dasharray="3 1.5" d="M755.1 612.1 L755.5 615.0 L754.9 618.0 L753.0 620.2 L750.0 620.9 L748.3 623.4 L748.6 626.4 L749.6 629.2 L752.0 631.0 L753.8 633.4 L754.0 636.4 L756.5 638.2 L759.4 637.8 L762.0 636.2 L763.7 633.7 L766.7 633.5 L769.6 632.7 L772.2 634.1 L774.4 636.1 L777.4 636.4 L779.5 638.6 L782.4 639.2 L784.7 641.2 L785.7 644.0 L786.1 647.0 L786.5 649.9 L785.5 652.8 L787.0 655.3 L786.0 658.2 L785.7 661.2 L783.5 663.2 L781.7 665.6 L779.6 667.8 L780.5 664.9 L783.3 663.9 L786.3 663.5"/>
<path stroke="#cc00cc" stroke-width="0.95" stroke-dasharray="3 1.5" d="M777.9 605.3 L777.8 608.3 L776.0 610.7 L774.2 613.1 L772.1 615.3 L769.8 617.2 L769.8 620.2 L769.3 623.1 L769.8 626.1 L770.2 629.1 L771.8 631.6 L772.7 634.5 L772.1 637.4 L773.3 640.2 L773.9 643.1 L775.4 645.7 L778.1 647.0 L780.8 645.8 L783.8 645.4 L786.7 644.6 L789.4 646.0 L786.6 644.9 L785.0 642.3 L786.1 639.6 L787.2 636.8 L784.7 638.4"/>
<path stroke="#cc00cc" stroke-width="0.95" stroke-dasharray="3 1.5" d="M776.0 624.1 L773.9 626.2 L774.3 629.2 L773.9 632.1 L775.9 634.3 L778.7 635.4 L781.2 637.0 L784.1 638.0 L787.0 638.7 L789.1 640.8 L786.3 641.9 L784.5 644.3 L781.5 644.6 L778.5 644.0 L776.3 645.9 L775.7 648.9 L775.8 651.9 L775.3 654.8 L776.5 657.6 L778.0 660.2 L778.7 663.1 L778.7 666.1 L778.8 663.1 L780.6 660.8 L781.2 657.8 L781.7 654.9 L782.1 651.9 L781.4 649.0 L780.1 646.3"/>
<path stroke="#e58a2c" stroke-width="0.95" stroke-dasharray="3 1.5" d="M767.4 644.0 L769.2 641.6 L769.9 638.7 L770.0 635.7 L768.1 633.4 L766.5 630.8 L763.5 630.4 L760.6 631.1 L758.2 629.3 L756.9 626.5 L755.5 623.9 L752.6 623.1 L751.5 620.3 L751.5 617.3 L749.9 614.8 L747.6 612.9 L745.9 610.5 L745.2 607.5 L743.2 605.3 L743.7 602.3 L743.2 599.4 L744.9 601.8 L747.8 602.6"/>
<path stroke="#e58a2c" stroke-width="0.95" stroke-dasharray="3 1.5" d="M774.9 601.6 L773.4 599.0 L770.6 597.9 L767.6 597.5 L764.6 597.6 L761.6 598.0 L758.7 597.4 L756.1 595.9 L754.2 593.6 L752.9 590.8 L750.0 589.9 L749.2 587.0 L746.9 585.1 L749.9 585.2 L752.0 587.2 L754.7 588.7 L757.5 587.6 L760.4 587.1 L763.2 585.9 L762.3 588.8 L759.4 589.6 L756.9 587.9 L753.9 588.1 L751.9 585.9 L749.0 585.2"/>
<path stroke="#e58a2c" stroke-width="0.95" stroke-dasharray="3 1.5" d="M760.1 585.2 L759.9 588.2 L758.0 590.5 L755.9 592.7 L756.4 595.7 L758.4 597.8 L760.9 599.6 L763.2 601.5 L766.1 602.0 L768.3 604.1 L768.6 607.1 L766.6 609.3 L763.6 609.5 L762.1 612.1 L760.1 614.4 L760.5 617.4 L758.7 619.7 L755.9 620.9 L753.0 620.6 L750.4 622.1 L749.8 625.1 L747.7 627.1 L745.1 628.7 L746.7 626.2 L749.5 625.0 L751.7 622.9 L752.8 620.2 L753.0 617.2 L752.0 614.3 L751.8 611.3 L753.8 609.0 L753.3 606.1 L750.8 604.5 L748.3 602.9 L746.5 600.4 L743.6 599.5"/>
<path stroke="#2e9e2e" stroke-width="0.95" stroke-dasharray="3 1.5" d="M755.3 589.9 L758.2 589.2 L761.1 590.3 L764.0 590.8 L766.2 588.7 L766.9 585.8 L769.7 587.0 L772.6 586.4 L770.1 587.9 L767.8 589.9 L766.2 592.5 L766.3 595.5 L766.4 598.4 L765.2 601.2 L763.4 603.6 L761.0 605.4 L758.2 606.5 L757.5 609.5 L757.6 612.5 L757.8 615.5 L756.0 617.8 L754.5 620.4 L755.7 623.1 L758.0 625.1 L760.9 624.5 L763.9 625.1 L766.6 626.5 L768.8 628.4 L770.7 630.8 L773.6 631.2 L776.6 630.5 L778.6 628.3"/>
<path stroke="#2e9e2e" stroke-width="0.95" stroke-dasharray="3 1.5" d="M764.5 642.8 L764.3 645.8 L765.4 648.6 L768.4 649.3 L771.4 649.2 L774.0 650.6 L777.0 650.2 L779.1 652.3 L781.2 654.5 L783.6 656.2 L786.6 656.4 L789.6 656.7 L788.1 659.4 L785.5 660.9 L782.8 659.8 L781.7 657.0 L779.3 655.1 L777.4 652.8 L774.9 651.2 L773.1 648.8 L773.4 645.8 L774.1 642.9 L776.9 641.8 L779.5 643.2 L780.1 646.1 L779.2 649.0 L776.3 649.8 L773.3 649.2 L771.0 647.3"/>
<path stroke="#2e9e2e" stroke-width="0.95" stroke-dasharray="3 1.5" d="M752.6 629.2 L751.6 632.0 L752.5 634.9 L752.6 637.9 L751.9 640.8 L751.4 643.7 L751.0 646.7 L752.4 649.4 L755.0 650.9 L758.0 650.5 L760.6 652.1 L763.6 652.0 L766.6 651.8 L768.2 649.4 L771.1 648.6 L773.1 646.3 L776.0 645.5 L778.5 643.8 L780.7 641.8 L782.1 639.1 L781.3 636.3 L779.1 634.2 L776.1 634.0 L773.7 635.9 L773.7 638.9 L772.2 641.5 L769.3 642.3 L767.1 644.3 L764.1 644.4 L761.1 644.8 L758.1 645.3 L755.6 643.6 L753.3 641.7 L752.3 638.9 L752.3 635.9"/>
<path stroke="#e58a2c" stroke-width="1.3" stroke-dasharray="3 1.5" d="M733.2 693.0 L735.4 695.0 L736.4 697.8 L736.4 700.8 L738.4 703.1 L740.3 705.4 L742.4 707.6 L744.8 709.3 L744.7 712.3 L746.8 714.5 L749.8 714.0 L752.0 716.0 L754.6 717.5 L757.6 717.2 L760.3 716.0 L762.7 714.1 L765.6 714.8 L768.4 713.8 L770.2 711.4 L772.4 709.3 L774.8 707.5 L777.7 708.2 L779.5 710.6"/>
<path stroke="#e58a2c" stroke-width="1.3" stroke-dasharray="3 1.5" d="M746.3 697.5 L745.1 694.7 L745.4 691.7 L747.5 689.7 L750.2 688.3 L748.8 691.0 L746.3 692.7 L745.3 695.5 L743.5 697.9 L743.3 700.9 L745.6 702.9 L748.4 704.1 L751.4 704.2 L754.3 703.8 L757.3 704.3 L759.3 706.5 L758.8 709.4 L756.1 710.7 L753.5 709.2 L752.2 706.5 L750.0 704.4 L747.0 704.2 L744.2 703.2 L741.5 702.0 L739.3 699.9 L736.3 700.0 L733.9 701.8 L736.8 701.1 L739.8 701.5"/>
<path stroke="#e58a2c" stroke-width="1.3" stroke-dasharray="3 1.5" d="M779.9 719.5 L781.9 717.3 L782.3 714.4 L781.8 711.4 L780.7 708.6 L777.8 707.8 L775.6 705.8 L772.7 705.0 L771.1 702.5 L770.2 699.6 L772.0 697.2 L772.1 694.2 L770.2 691.8 L771.2 689.0 L774.1 688.0 L777.1 687.8 L780.1 687.5 L777.1 688.0 L780.1 687.7"/>
<path stroke="#e58a2c" stroke-width="1.3" stroke-dasharray="3 1.5" d="M761.5 712.0 L761.5 709.0 L763.0 706.5 L766.0 706.3 L768.8 705.2 L769.5 702.3 L769.4 699.3 L768.1 696.6 L765.4 695.2 L762.7 696.5 L761.6 699.3 L758.9 700.7 L758.3 703.6 L757.1 706.3 L757.5 709.3 L759.6 711.4 L760.0 714.4 L761.5 717.0 L764.2 718.2"/>
<path stroke="#e58a2c" stroke-width="1.3" stroke-dasharray="3 1.5" d="M752.3 721.8 L749.3 721.9 L752.3 721.3 L755.1 720.5 L758.1 721.0 L761.1 721.2 L763.5 719.4 L764.0 716.5 L766.0 714.2 L768.9 713.2 L771.4 714.8 L773.2 717.2 L774.6 719.8 L777.4 721.0 L778.7 723.7 L781.5 724.8 L784.4 725.4 L782.2 723.4 L779.7 721.8 L778.0 719.3 L776.6 716.6 L774.1 715.0 L772.8 712.3 L772.9 709.3 L774.7 707.0 L774.0 704.1 L773.9 701.1 L776.0 698.9 L776.8 696.0 L775.9 693.2 L776.8 690.3"/>
<path stroke="#e58a2c" stroke-width="1.3" stroke-dasharray="3 1.5" d="M748.0 697.2 L749.8 699.6 L749.0 702.5 L750.4 705.2 L753.0 706.7 L753.3 709.6 L751.5 712.0 L748.9 713.5 L746.0 712.8 L743.0 712.4 L746.0 712.7 L749.0 712.6 L750.9 710.3 L750.8 707.3 L752.5 704.8 L755.3 703.9 L757.7 705.7 L760.7 706.3 L763.6 705.6 L765.9 703.7 L768.9 704.0 L771.6 702.8 L773.7 700.7 L776.7 700.6 L778.5 703.0 L781.3 704.2 L779.0 706.1 L776.0 706.6"/>
<path stroke="#e58a2c" stroke-width="1.3" stroke-dasharray="3 1.5" d="M776.2 720.6 L774.7 718.0 L773.5 715.3 L774.8 712.6 L776.9 710.5 L779.1 708.4 L782.1 708.4 L781.2 711.2 L779.4 713.6 L777.3 715.8 L776.7 718.7 L776.6 721.7 L774.8 724.1 L774.3 727.0 L772.7 729.5 L772.5 726.5 L773.4 723.7"/>
<path stroke="#e58a2c" stroke-width="1.3" stroke-dasharray="3 1.5" d="M773.0 690.5 L771.5 693.1 L770.5 695.9 L768.1 697.7 L766.6 700.4 L763.9 701.7 L761.2 700.5 L758.2 700.9 L755.7 699.2 L753.4 697.4 L750.4 697.9 L747.5 698.4 L744.6 699.1 L742.2 701.0 L739.3 701.6 L736.3 701.1 L737.6 698.4 L740.6 697.9 L743.6 698.3 L746.3 697.2 L748.8 698.9 L751.4 700.4 L754.3 701.1 L755.7 703.8 L757.5 706.1 L757.3 709.1 L756.4 712.0 L757.3 714.8 L759.5 716.8 L762.5 716.3 L765.0 718.0 L767.7 719.3 L768.7 722.1"/>
<path stroke="#e58a2c" stroke-width="1.3" stroke-dasharray="3 1.5" d="M756.0 703.2 L754.6 705.8 L753.4 708.6 L754.3 711.4 L754.8 714.4 L753.1 716.9 L750.2 717.5 L748.5 720.0 L746.3 718.0 L748.6 719.9 L751.1 721.5 L754.1 722.0 L757.0 721.1 L759.7 719.9 L762.7 719.7 L765.5 718.6 L767.1 716.1 L767.1 713.1 L765.8 710.4 L766.8 707.6 L765.9 704.7 L766.4 701.8 L764.8 699.3 L764.7 696.3 L763.3 693.6"/>
<path stroke="#cc00cc" stroke-width="1.3" stroke-dasharray="3 1.5" d="M772.0 708.8 L774.9 709.3 L776.6 711.7 L776.3 714.7 L776.0 717.7 L777.8 720.1 L779.8 722.3 L782.8 722.7 L782.2 725.6 L779.8 727.4 L777.3 725.8 L774.4 725.1 L771.9 723.4 L771.1 720.5 L772.1 717.7 L774.2 715.5 L774.8 712.6 L775.5 709.7 L776.6 706.9 L775.9 704.0"/>
<path stroke="#00b3b3" stroke-width="1.2" stroke-dasharray="3 1.5" d="M773.0 750.6 L775.9 751.5 L778.4 749.8 L781.3 749.2 L783.5 751.3 L785.8 753.2 L783.0 752.2 L781.1 749.8 L779.4 747.3 L777.7 744.9 L777.4 741.9 L775.5 739.6 L772.8 738.2 L772.1 735.3 L771.0 732.5"/>
<path stroke="#00b3b3" stroke-width="1.2" stroke-dasharray="3 1.5" d="M782.4 742.1 L779.6 743.0 L777.6 745.3 L775.8 747.7 L773.1 749.1 L774.6 746.5 L777.3 745.2 L779.3 743.0"/>
<path stroke="#00b3b3" stroke-width="1.2" stroke-dasharray="3 1.5" d="M776.3 731.3 L779.1 730.3 L779.9 733.2 L781.2 735.9 L779.7 738.5 L778.6 741.3 L780.0 744.0 L781.5 746.5 L781.3 749.5 L781.3 752.5 L780.2 755.3"/>
<path stroke="#00b3b3" stroke-width="1.2" stroke-dasharray="3 1.5" d="M754.9 738.0 L757.8 737.1 L760.4 735.5 L757.6 736.6 L759.7 738.7"/>
<path stroke="#00b3b3" stroke-width="1.2" stroke-dasharray="3 1.5" d="M762.4 740.4 L759.4 740.7 L757.0 739.0 L754.5 737.3 L756.5 739.5 L757.1 736.6"/>
<path stroke="#8cd000" stroke-width="1.2" stroke-dasharray="3 1.5" d="M784.5 738.4 L787.4 737.5 L788.7 734.8 L791.5 735.8 L791.0 738.8 L789.3 741.2 L786.3 741.3 L783.9 743.0 L780.9 743.1 L777.9 742.7"/>
<path stroke="#8cd000" stroke-width="1.2" stroke-dasharray="3 1.5" d="M780.3 752.0 L778.6 754.5 L777.5 751.7 L775.0 750.1 L772.8 748.0 L769.8 748.4 L770.5 745.5 L771.0 742.5"/>
</g>
<g filter="url(#rough)">
<path fill="#4d4d4d" d="M495.8 232.0 L495.8 315.0 L485.0 318.2 L476.2 320.0 L480.0 327.0 L475.0 334.5 L470.0 329.5 L460.0 332.0 L450.0 339.5 L457.5 347.0 L455.0 357.0 L442.5 357.0 L430.0 353.2 L417.5 352.0 L407.5 358.2 L400.0 352.0 L397.5 339.5 L393.8 349.5 L392.5 367.0 L387.5 377.0 L385.0 392.0 L383.8 407.0 L384.5 422.0 L385.0 421.0 L621.9 421.0 L621.9 447.0 L664.1 447.0 L664.2 550.3 L664.2 579.5 L664.2 654.3 L670.0 648.5 L676.5 642.0 L689.5 638.1 L696.0 625.1 L692.8 612.1 L699.3 599.1 L702.5 589.3 L715.6 586.0 L722.1 573.0 L728.6 576.3 L735.1 582.8 L741.6 592.5 L748.1 586.0 L757.8 589.3 L764.3 579.5 L774.1 576.3 L783.8 569.8 L790.3 560.7 L792.0 564.9 L806.6 573.0 L816.3 566.5 L812.4 555.2 L808.8 555.0 L812.5 562.5 L822.5 560.0 L840.0 555.0 L850.0 547.5 L847.5 537.5 L852.5 527.5 L857.5 517.5 L865.0 507.5 L875.0 500.0 L885.0 490.0 L887.5 485.0 L897.5 478.8 L910.0 480.0 L925.0 482.5 L935.0 477.5 L950.0 477.5 L952.5 472.5 L960.0 467.5 L972.5 465.0 L985.0 460.0 L997.5 462.5 L1010.0 465.0 L1022.5 460.0 L1035.0 456.2 L1045.0 452.5 L1046.2 445.0 L990.0 460.6 L996.7 462.3 L1003.5 465.6 L1011.9 464.0 L1013.5 459.7 L1006.8 455.5 L1015.2 452.2 L1023.6 450.5 L1033.7 447.1 L1040.5 443.8 L1045.5 445.5 L1043.8 453.9 L1048.0 459.7 L1053.9 457.2 L1060.6 453.9 L1064.0 447.1 L1070.7 443.8 L1074.1 437.0 L1084.2 435.4 L1099.3 435.4 L1104.4 427.0 L1107.7 420.2 L1113.6 415.2 L1115.3 430.3 L1111.1 437.0 L1104.4 437.0 L1097.6 442.1 L1090.9 448.8 L1099.3 455.5 L1107.7 459.7 L1115.3 457.2 L1119.5 453.0 L1124.5 450.5 L1133.0 449.7 L1141.4 453.0 L1142.2 447.1 L1146.4 442.1 L1151.5 445.5 L1159.9 450.5 L1163.2 443.8 L1168.3 440.4 L1173.3 442.1 L1176.7 443.8 L1181.7 440.4 L1187.6 435.4 L1190.1 428.6 L1203.6 426.1 L1260.0 400.0 L1300.0 250.0 L1000.0 200.0 L900.0 200.0 L495.0 200.0Z M411.3 235.1 L440.5 235.1 L439.8 248.5 L432.6 256.4 L423.7 258.6 L418.0 253.0 L414.7 253.0 L420.3 262.0 L430.4 271.0 L424.8 277.7 L418.0 282.2 L410.2 281.1 L404.6 272.1 L403.5 260.9 L406.8 247.4Z M447.2 235.1 L468.5 235.1 L467.4 247.4 L465.1 256.4 L458.4 254.1 L452.8 258.6 L447.9 251.9Z M474.1 235.1 L495.4 235.1 L495.4 260.9 L486.9 259.8 L482.0 264.2 L477.9 258.6 L479.7 247.4Z M399.0 286.7 L408.0 284.4 L414.7 290.0 L413.6 299.0 L416.9 308.0 L414.7 314.7 L408.0 313.6 L402.4 306.8 L402.4 296.7 L395.6 292.3Z M459.5 267.6 L468.5 269.8 L477.5 271.0 L477.5 275.4 L468.5 274.3 L461.8 271.0Z M482.0 275.4 L487.6 275.4 L487.6 279.9 L482.0 279.9Z M358.6 263.1 L367.6 264.2 L368.7 271.0 L360.9 269.8Z M430.4 269.8 L437.1 271.0 L436.0 275.4 L430.4 274.8Z M385.3 420.4 L432.4 420.4 L432.4 449.0 L427.6 458.8 L417.8 463.7 L406.4 465.3 L400.9 458.8 L406.4 449.0 L412.9 437.6 L403.2 432.8 L391.8 429.5Z M419.4 465.3 L427.6 475.0 L432.4 494.6 L447.1 510.8 L460.1 523.8 L466.6 540.1 L469.8 556.3 L473.1 572.6 L466.6 575.9 L460.1 562.8 L453.6 546.6 L445.4 533.6 L435.7 517.3 L427.6 504.3 L422.7 488.0 L417.8 475.0Z M520.2 618.1 L530.0 621.4 L541.4 631.1 L546.3 644.1 L543.0 663.7 L520.2 666.3 L518.0 650.7 L523.5 637.6 L515.4 624.6Z M492.6 553.1 L499.1 562.8 L512.1 585.6 L521.9 598.6 L517.0 600.2 L505.6 585.6 L495.9 569.3 L491.0 559.6Z M507.2 598.6 L525.1 611.6 L521.9 614.9 L508.9 605.1Z M473.1 553.1 L478.0 562.8 L482.8 579.1 L478.0 577.5 L473.1 562.8Z M434.6 421.1 L557.5 421.1 L557.5 516.5 L550.6 521.8 L544.7 513.3 L540.0 522.9 L534.0 516.5 L529.3 527.1 L523.4 520.7 L518.7 533.5 L510.6 531.4 L505.9 540.3 L499.5 535.6 L495.3 526.1 L488.9 520.7 L485.1 512.2 L478.7 509.0 L476.5 499.4 L478.7 486.7 L485.1 480.3 L491.4 473.9 L489.3 465.8 L495.7 459.4 L499.5 452.6 L495.7 446.2 L488.9 441.9 L482.9 436.0 L476.5 438.1 L470.1 431.7 L463.8 436.0 L457.4 429.6 L451.0 436.0 L444.6 439.8 L437.8 441.9 L434.6 439.8Z M435.8 422.1 L455.9 422.1 L454.6 430.2 L446.5 436.9 L438.4 440.9 L435.8 443.6Z M462.7 427.5 L468.0 426.1 L470.7 443.6 L469.4 454.4 L465.3 454.4 L464.0 440.9Z M476.1 426.1 L481.5 424.8 L484.2 436.9 L486.9 449.0 L482.8 450.3 L478.8 439.6Z M488.2 430.2 L496.3 432.9 L500.3 443.6 L503.0 454.4 L497.6 455.7 L492.2 445.0Z M473.4 454.4 L478.8 455.7 L481.5 463.8 L476.1 467.8 L472.1 462.4Z M505.7 445.0 L513.8 446.3 L519.1 454.4 L517.8 462.4 L511.1 461.1 L507.0 453.0Z M457.3 450.3 L461.3 451.7 L462.0 461.1 L457.9 459.8Z M469.4 490.7 L476.1 489.3 L478.8 497.4 L473.4 504.1 L469.4 498.8Z M558.7 421.1 L619.8 421.1 L619.8 446.6 L663.1 446.6 L663.1 490.9 L655.0 493.0 L646.5 499.4 L637.9 495.2 L629.4 482.4 L625.2 486.7 L629.4 495.2 L620.9 501.6 L614.5 510.1 L610.3 520.7 L606.0 531.4 L599.6 542.0 L591.1 546.3 L582.6 539.9 L574.1 537.8 L561.3 535.6 L560.2 531.4 L565.5 529.3 L574.1 525.0 L582.6 520.7 L586.8 512.2 L593.2 503.7 L599.6 490.9 L603.9 476.0 L610.3 467.5 L608.1 452.6 L603.9 437.7 L595.4 431.3 L586.8 424.9 L574.1 431.3 L561.3 435.6 L558.7 435.6Z M574.1 465.4 L582.6 463.2 L586.8 469.6 L595.4 459.0 L603.9 461.1 L601.7 473.9 L595.4 482.4 L589.0 490.9 L584.7 503.7 L578.3 510.1 L576.2 499.4 L580.5 488.8 L578.3 478.1 L571.9 473.9Z M644.3 529.3 L650.7 527.1 L648.6 542.0 L644.3 537.8Z M593.2 559.1 L601.7 563.3 L599.6 571.8 L593.2 567.6Z M582.6 582.5 L595.4 578.2 L608.1 586.7 L612.4 599.9 L586.8 599.9Z M633.7 569.7 L642.2 571.8 L646.5 580.4 L637.9 578.2Z M665.6 535.6 L672.0 537.8 L669.9 548.4 L665.6 546.3Z M588.8 582.8 L605.0 576.3 L614.8 592.5 L624.5 605.6 L637.5 618.6 L650.5 625.1 L662.9 621.8 L662.9 641.3 L650.5 638.1 L637.5 631.6 L621.3 625.1 L608.3 615.3 L595.3 605.6 L588.8 592.5Z M634.3 566.5 L647.3 569.8 L653.8 579.5 L644.0 581.2 L635.9 574.7Z M593.6 556.8 L606.6 558.4 L608.3 573.0 L595.3 571.4Z M540.0 638.1 L559.5 641.3 L579.0 634.8 L605.0 638.1 L611.5 651.1 L605.0 664.1 L595.3 677.1 L582.3 686.8 L540.0 672.2Z M720.4 599.1 L731.8 592.5 L738.3 605.6 L735.1 621.8 L728.6 628.3 L722.1 618.6Z M735.1 651.1 L739.0 654.3 L738.3 664.1 L734.4 662.4Z M559.5 521.0 L572.5 517.8 L582.3 527.5 L579.0 543.8 L566.0 547.0 L559.5 540.5Z M572.5 465.8 L585.5 462.5 L588.8 482.0 L579.0 495.0 L572.5 485.3Z M1479.1 390.2 L1470.6 395.2 L1466.0 400.3 L1459.9 403.3 L1454.9 410.3 L1444.8 413.4 L1438.8 417.4 L1430.7 414.0 L1427.7 418.4 L1417.6 420.4 L1414.2 421.4 L1411.5 416.4 L1409.5 402.3 L1407.5 403.3 L1405.5 412.4 L1401.4 421.4 L1395.4 430.5 L1390.3 435.6 L1384.3 440.6 L1378.2 447.7 L1372.3 447.1 L1366.7 448.2 L1362.2 447.1 L1364.4 440.3 L1368.9 437.0 L1366.7 433.6 L1362.2 434.7 L1361.0 439.2 L1356.6 442.6 L1349.8 441.5 L1343.1 437.0 L1335.3 438.1 L1327.4 440.3 L1320.7 442.6 L1317.3 447.1 L1318.5 451.6 L1312.9 454.9 L1307.2 458.3 L1300.5 462.8 L1302.8 465.0 L1306.1 462.8 L1309.5 465.0 L1307.2 471.7 L1300.5 478.5 L1298.3 485.2 L1288.2 493.0 L1288.2 478.5 L1286.0 471.7 L1282.6 465.0 L1284.8 460.5 L1282.6 456.0 L1275.9 453.8 L1270.3 450.4 L1266.3 444.8 L1263.3 452.2 L1257.4 448.8 L1250.7 443.8 L1245.6 438.7 L1242.3 435.4 L1225.5 411.8 L1240.0 300.0 L1240.0 200.0 L1600.0 200.0 L1600.0 380.0Z M1266.9 469.5 L1273.6 469.5 L1273.6 477.6 L1266.9 477.6Z M1125.4 469.0 L1131.3 469.0 L1132.1 475.7 L1127.1 477.4Z M1125.0 468.8 L1132.5 468.8 L1132.0 477.5 L1125.5 477.0Z M996.7 395.0 L990.0 395.0 L990.0 398.4Z M1285.8 481.2 L1290.9 481.2 L1294.4 489.7 L1287.5 498.3 L1282.4 506.9 L1277.2 513.8 L1270.4 522.3 L1263.5 527.5 L1258.4 525.8 L1260.1 515.5 L1268.6 512.0 L1275.5 503.5 L1277.2 494.9 L1285.8 493.2Z"/>
<path fill="#e6e6e6" d="M485.0 344.5 L495.0 347.0 L493.0 357.0 L494.5 372.0 L490.5 387.0 L485.0 397.0 L480.5 394.5 L485.0 382.0 L486.5 367.0 L484.0 354.5Z M497.6 265.4 L511.1 267.6 L515.6 273.2 L508.9 278.8 L506.6 287.8 L515.6 292.3 L526.8 290.0 L529.0 296.7 L522.3 301.2 L533.5 304.6 L541.4 310.2 L526.8 313.6 L517.8 316.9 L522.3 328.1 L513.3 330.4 L508.9 323.7 L504.4 316.9 L497.6 314.7Z M507.7 238.5 L513.3 240.7 L512.2 256.4 L505.5 254.1Z M495.4 357.3 L502.1 350.6 L508.9 359.5 L513.3 370.7 L522.3 382.0 L533.5 390.9 L547.0 395.4 L558.2 402.1 L569.4 403.3 L567.2 411.1 L549.2 412.2 L526.8 413.3 L520.1 404.4 L508.9 397.6 L502.1 388.7 L497.6 377.5Z M465.0 402.0 L475.0 394.5 L478.8 397.0 L471.2 405.8 L467.5 414.5 L463.8 412.0Z M480.0 397.0 L487.5 394.5 L491.2 402.0 L485.0 407.0 L481.2 404.5Z M435.0 412.0 L442.5 409.5 L445.0 415.8 L437.5 417.0Z M470.7 368.5 L479.7 370.7 L477.5 379.7 L470.7 377.5Z M578.4 404.4 L591.8 397.6 L589.6 402.1 L580.6 406.6Z M552.8 448.3 L556.6 449.4 L556.6 473.9 L553.2 471.8Z M527.2 469.6 L535.7 465.4 L537.9 468.6 L529.3 473.9Z M625.2 480.3 L637.9 476.0 L644.3 480.3 L635.8 484.5 L627.3 484.5Z M650.7 456.8 L661.4 457.9 L661.8 473.9 L657.1 471.8 L652.9 463.2Z M665.2 486.9 L683.0 490.1 L692.8 501.5 L686.3 511.3 L673.3 508.0 L668.4 521.0 L665.2 524.3Z M741.6 462.5 L748.1 465.8 L756.2 478.8 L751.3 483.6 L744.8 475.5Z M741.6 511.3 L748.1 512.9 L756.2 525.9 L751.3 527.5Z M793.6 529.2 L805.0 527.5 L805.0 537.3 L793.6 536.6Z M801.7 537.3 L809.8 537.3 L809.8 548.7 L803.3 547.7Z M848.8 496.6 L860.2 494.4 L858.6 509.6 L850.5 511.3Z M665.2 555.2 L692.8 558.4 L686.3 573.0 L676.5 582.8 L665.2 579.5Z M650.5 456.0 L661.9 457.6 L661.9 472.3 L653.8 469.0Z M618.0 498.3 L637.5 495.0 L650.5 493.4 L662.9 491.8 L662.9 549.6 L605.0 549.6 L601.8 540.5 L614.8 527.5 L616.4 511.3Z M1298.8 385.8 L1310.0 384.5 L1325.0 385.8 L1340.0 388.2 L1348.8 394.5 L1350.5 408.2 L1342.5 410.8 L1337.5 400.8 L1328.8 397.0 L1317.5 395.8 L1305.0 394.5 L1298.0 390.8Z M1353.8 390.8 L1360.0 390.0 L1359.5 394.5 L1354.5 394.5Z M487.0 521.8 L488.2 509.2 L489.7 501.6 L490.6 511.1 L491.0 521.8Z M496.6 536.7 L497.8 520.3 L499.3 510.1 L500.2 522.9 L500.6 536.7Z M506.6 534.6 L507.8 519.5 L509.3 510.1 L510.2 521.8 L510.6 534.6Z M515.9 535.6 L517.2 516.7 L518.7 504.8 L519.5 519.7 L520.0 535.6Z M524.9 526.1 L526.1 512.2 L527.6 503.7 L528.5 514.3 L528.9 526.1Z M534.2 521.8 L535.5 505.4 L537.0 495.2 L537.9 508.0 L538.3 521.8Z M541.5 517.5 L542.8 505.0 L544.3 497.3 L545.1 506.9 L545.5 517.5Z M550.4 521.8 L551.7 506.7 L553.2 497.3 L554.0 509.0 L554.5 521.8Z M480.6 511.1 L481.9 502.4 L483.3 497.3 L484.2 503.7 L484.6 511.1Z M512.5 504.8 L513.8 496.0 L515.3 490.9 L516.1 497.3 L516.6 504.8Z M529.6 496.2 L530.8 488.8 L532.3 484.5 L533.2 489.9 L533.6 496.2Z M542.3 492.0 L543.6 483.3 L545.1 478.1 L546.0 484.5 L546.4 492.0Z M457.5 392.0 L459.5 377.0 L462.5 379.5 L460.8 392.0Z M466.8 390.8 L468.2 373.2 L470.8 376.2 L469.5 390.8Z M472.5 403.2 L474.5 390.8 L477.5 392.8 L475.8 403.2Z M453.0 407.0 L454.5 397.0 L457.0 398.7 L455.8 407.0Z M485.5 378.2 L487.0 365.8 L489.5 367.8 L488.2 378.2Z M475.8 377.0 L477.0 367.0 L479.2 368.7 L478.2 377.0Z M576.6 481.3 L577.9 466.4 L580.0 468.9 L579.0 481.3Z M585.1 490.9 L586.4 473.9 L588.5 476.7 L587.5 490.9Z M591.7 469.6 L592.8 456.8 L594.7 459.0 L593.9 469.6Z M627.7 479.2 L629.0 468.6 L631.1 470.3 L630.1 479.2Z M636.2 465.4 L637.5 456.8 L639.7 458.3 L638.6 465.4Z"/>
</g>
<path filter="url(#tex-mag)" fill-rule="evenodd" fill="#ff00ff" d="M1039.1 484.6 L1035.3 464.0 L1031.5 462.3 L1033.9 482.9Z M1033.6 496.6 L1030.1 491.5 L1023.3 494.9 L1026.7 499.2Z M637.5 499.9 L644.0 511.3 L650.5 508.0 L662.2 511.3 L662.2 491.8 L650.5 493.4Z M411.3 507.6 L415.2 520.6 L421.1 520.6 L417.8 504.3 L409.7 497.8Z M899.8 525.8 L910.1 527.5 L916.9 524.0 L927.2 522.3 L937.5 529.2 L944.4 525.8 L953.0 522.3 L961.5 515.5 L966.7 520.6 L971.8 522.3 L980.4 524.0 L975.2 515.5 L971.8 501.7 L978.7 505.2 L985.5 512.0 L992.4 517.2 L1002.7 515.5 L1013.0 515.5 L1019.8 522.3 L1016.4 529.2 L1006.1 537.8 L999.3 542.9 L1002.7 551.5 L1013.0 549.8 L1019.8 553.2 L1030.1 549.8 L1037.0 554.9 L1047.3 549.8 L1057.6 546.3 L1064.4 539.5 L1071.3 534.3 L1067.9 527.5 L1061.0 520.6 L1057.6 512.0 L1061.0 505.2 L1060.3 503.5 L1064.4 505.5 L1074.7 503.8 L1081.6 508.6 L1088.5 515.5 L1098.7 520.6 L1109.0 518.9 L1115.9 522.3 L1126.2 522.3 L1129.7 529.3 L1129.7 542.9 L1140.0 544.6 L1143.3 542.9 L1150.0 546.3 L1150.0 546.2 L1150.3 546.3 L1160.6 546.3 L1165.7 551.5 L1167.4 558.4 L1177.7 558.4 L1188.0 560.1 L1196.6 558.4 L1205.2 551.5 L1208.6 544.6 L1207.6 542.6 L1209.7 544.0 L1218.1 541.5 L1221.5 541.2 L1225.8 541.2 L1226.1 540.8 L1228.2 540.6 L1228.2 537.6 L1229.2 536.1 L1228.2 535.5 L1228.2 534.7 L1221.5 530.5 L1211.4 530.5 L1204.6 533.9 L1204.6 537.7 L1196.6 536.1 L1189.7 532.6 L1186.3 524.0 L1181.2 517.2 L1172.6 520.6 L1162.3 517.2 L1157.2 512.0 L1150.3 513.8 L1142.0 519.3 L1139.9 518.9 L1133.1 505.2 L1126.2 498.3 L1114.2 501.7 L1105.6 498.3 L1095.3 500.0 L1085.0 498.3 L1078.2 491.5 L1074.7 481.5 L1067.9 481.5 L1064.4 491.5 L1057.6 495.2 L1050.8 498.7 L1050.8 498.7 L1050.7 498.7 L1043.9 495.2 L1037.0 500.4 L1026.7 500.4 L1018.1 496.9 L1011.3 488.4 L1002.7 484.9 L992.4 490.1 L982.1 486.7 L975.2 484.9 L966.7 486.7 L959.0 481.5 L953.0 484.9 L940.9 488.4 L930.7 491.5 L920.4 490.1 L910.1 488.4 L899.8 484.9 L889.5 484.9 L886.1 491.5 L875.8 500.0 L865.5 508.6 L858.6 520.6 L853.5 529.2 L850.0 544.6 L841.5 551.5 L834.6 549.8 L824.3 551.5 L815.7 558.4 L808.9 563.5 L805.4 572.1 L796.9 577.2 L790.0 582.4 L790.0 590.9 L800.3 587.5 L808.9 582.4 L817.4 575.5 L824.3 566.9 L832.9 563.5 L841.5 560.1 L848.3 553.2 L858.6 546.3 L865.5 542.9 L875.8 539.5 L886.1 536.1 L892.9 530.9Z M404.8 522.2 L404.8 514.1 L391.8 514.1 L393.4 522.2Z M469.2 543.3 L468.2 535.2 L461.7 535.2 L462.7 543.3Z M661.6 549.0 L660.9 540.5 L647.3 538.9 L648.9 547.0Z M824.3 549.8 L817.4 542.9 L810.6 541.2 L815.7 551.5Z M504.0 549.8 L502.4 541.7 L491.0 543.3 L492.6 551.5Z M417.8 587.2 L419.4 579.1 L409.7 575.9 L409.7 584.0Z M652.2 607.2 L640.8 599.1 L627.8 589.3 L618.0 586.0 L616.4 592.5 L624.5 602.3 L634.3 612.1 L644.0 616.0 L653.8 612.7Z M808.5 604.3 L810.5 595.8 L793.6 599.1 L796.8 609.5Z M757.8 589.3 L757.8 600.7 L767.6 607.2 L777.3 617.3 L787.7 618.6 L783.8 605.6 L774.1 592.5Z M595.3 605.6 L585.5 602.3 L585.5 612.1 L593.6 614.0Z M712.3 602.3 L702.5 599.1 L704.2 612.1 L709.1 621.8 L716.2 638.1 L722.1 638.1 L717.2 618.6Z M1056.7 491.5 L1057.2 471.7 L1051.1 472.6 L1052.8 491.5Z M1375.0 522.3 L1380.1 513.8 L1378.4 503.5 L1369.8 500.0 L1361.3 496.6 L1354.4 491.5 L1345.8 493.2 L1345.8 500.0 L1349.3 508.6 L1354.4 513.8 L1361.3 520.6 L1368.1 524.0Z M1226.5 517.1 L1229.9 523.8 L1226.5 532.2 L1231.5 536.4 L1238.3 533.9 L1243.3 527.2 L1244.2 518.8 L1238.3 510.4 L1237.0 509.9 L1236.1 508.6 L1232.6 508.0 L1228.2 506.2 L1225.8 506.9 L1225.8 506.9 L1218.9 505.2 L1220.8 508.4 L1219.8 508.7 L1221.5 515.4Z M1318.4 546.3 L1325.2 541.2 L1323.5 532.6 L1328.7 527.5 L1339.0 529.2 L1345.8 525.8 L1344.1 518.9 L1335.5 513.8 L1339.0 506.9 L1335.5 500.0 L1328.7 501.7 L1325.2 508.6 L1316.7 510.3 L1315.0 520.6 L1304.7 524.0 L1299.5 532.6 L1290.9 539.5 L1282.4 542.9 L1275.5 549.8 L1273.8 558.4 L1280.7 560.1 L1285.8 556.6 L1294.4 553.2 L1301.2 546.3 L1309.8 542.9Z M1285.8 548.1 L1286.7 553.2 L1282.4 554.1 L1280.7 549.8Z M1369.8 527.5 L1363.0 539.5 L1366.8 541.2 L1371.9 529.2Z M1211.7 565.3 L1198.3 563.6 L1190.7 566.1 L1191.5 565.3 L1181.4 565.3 L1181.2 565.2 L1170.9 566.9 L1162.3 573.8 L1158.9 582.4 L1152.0 593.0 L1156.2 593.0 L1152.0 597.9 L1158.9 599.6 L1167.4 589.3 L1174.3 580.7 L1181.8 574.8 L1184.6 575.5 L1194.9 573.8 L1205.2 577.2 L1215.5 575.5 L1225.8 573.8 L1229.2 568.6 L1224.2 567.4 L1225.8 565.3 L1212.6 565.3 L1212.0 565.2Z M1189.7 569.5 L1188.1 568.7 L1188.7 568.1Z M1279.6 566.9 L1280.7 565.3 L1266.9 567.0 L1261.2 568.4 L1260.1 568.6 L1259.1 568.9 L1253.2 570.4 L1242.9 573.9 L1244.6 577.2 L1242.9 578.9 L1245.7 579.5 L1246.3 580.7 L1249.2 580.2 L1251.5 580.7 L1255.0 579.3 L1256.6 579.0 L1266.9 573.9 L1277.2 570.4 L1280.7 566.9Z M1242.9 585.9 L1229.2 587.6 L1230.9 591.9 L1241.2 591.0Z M1191.5 604.7 L1181.2 608.2 L1188.0 613.3 L1198.3 609.9Z"/>
<path filter="url(#tex-org)" fill-rule="evenodd" fill="#f7ae64" d="M455.2 575.9 L450.3 562.8 L437.3 553.1 L424.3 562.8 L427.6 575.9 L434.1 585.6 L443.8 595.4 L453.6 588.9Z M439.9 579.1 L438.9 569.3 L447.1 571.0 L446.4 580.7Z M482.8 595.4 L469.8 605.1 L476.3 608.4 L489.3 605.1 L502.4 598.6 L495.9 592.1Z M600.1 617.9 L606.6 618.6 L605.0 608.8 L598.5 607.2Z M479.6 631.1 L466.6 627.9 L473.1 636.7 L486.1 641.5 L499.1 640.9 L492.6 634.4Z M781.2 671.2 L783.8 664.1 L774.1 654.3 L767.6 641.3 L761.1 638.1 L754.6 651.1 L758.5 658.2 L764.3 655.0 L770.8 664.7Z M717.2 644.6 L717.2 657.6 L722.1 671.2 L727.3 664.1 L723.7 647.8Z M699.3 651.1 L697.7 664.1 L702.5 674.5 L709.1 670.6 L705.8 657.6Z M735.1 690.1 L741.6 706.3 L748.1 720.0 L754.6 709.6 L748.1 693.3Z M875.8 609.9 L886.1 611.6 L892.9 609.9 L899.8 615.0 L910.1 618.5 L916.9 621.9 L927.2 621.9 L934.1 615.0 L940.9 609.9 L947.8 604.7 L949.5 611.6 L946.1 621.9 L953.0 623.6 L961.5 625.3 L968.4 630.5 L968.4 592.7 L963.2 589.3 L958.1 580.7 L947.8 577.3 L942.7 568.7 L932.4 570.4 L927.2 567.0 L922.1 565.3 L918.6 577.3 L910.1 580.7 L901.5 582.4 L899.8 594.5 L892.9 601.3 L879.2 599.6 L865.5 599.6 L855.2 606.5 L846.6 604.7 L838.0 611.6 L838.0 615.0 L848.3 613.3 L858.6 611.6 L865.5 606.5Z M954.7 618.5 L953.0 606.5 L961.5 604.7 L963.2 620.2Z M1301.2 615.0 L1308.1 611.6 L1315.0 613.3 L1320.1 620.2 L1328.7 616.7 L1337.3 613.3 L1345.8 609.9 L1356.1 604.7 L1363.0 601.3 L1371.6 597.9 L1371.6 585.9 L1363.0 589.3 L1356.1 584.2 L1345.8 584.2 L1339.0 587.6 L1328.7 585.9 L1321.8 584.2 L1315.0 592.7 L1304.7 594.5 L1294.4 594.5 L1287.5 597.9 L1277.2 599.6 L1270.4 604.7 L1277.2 608.2 L1284.1 608.2 L1290.9 606.5 L1294.4 613.3Z M1043.9 570.4 L1037.0 580.7 L1030.1 587.6 L1023.3 594.5 L1013.0 596.2 L1001.0 594.5 L989.0 589.3 L978.7 591.0 L968.4 592.7 L971.8 597.9 L973.5 604.7 L978.7 608.2 L985.5 613.3 L983.8 623.6 L973.5 623.6 L971.8 630.5 L978.7 632.2 L985.5 635.6 L992.4 640.8 L1002.7 635.6 L1013.0 637.3 L1019.8 632.2 L1014.7 623.6 L1011.3 615.0 L1014.7 606.5 L1025.0 604.7 L1030.1 596.2 L1037.0 597.9 L1043.9 601.3 L1052.4 606.5 L1059.3 603.0 L1064.4 592.7 L1067.9 582.4 L1057.6 579.0 L1061.0 573.9 L1054.2 567.0Z M991.5 613.3 L992.4 608.2 L1001.0 609.9 L999.3 615.0Z M1078.2 615.0 L1088.5 613.3 L1095.3 620.2 L1100.5 625.3 L1105.6 615.0 L1115.9 616.7 L1126.2 618.5 L1134.8 620.2 L1143.3 623.6 L1145.1 613.3 L1136.5 608.2 L1126.2 608.2 L1115.9 606.5 L1105.6 603.0 L1109.0 594.5 L1102.2 592.7 L1091.9 597.9 L1081.6 587.6 L1073.0 589.3 L1064.4 592.7 L1059.3 604.7 L1064.4 609.9 L1061.0 616.7 L1071.3 618.5Z M1172.6 659.6 L1179.5 661.3 L1184.6 654.5 L1191.5 649.3 L1201.7 647.6 L1208.6 645.9 L1215.5 642.5 L1222.3 637.3 L1229.2 633.9 L1236.1 635.6 L1242.9 637.3 L1249.8 633.9 L1253.2 627.0 L1260.1 625.3 L1265.2 628.8 L1270.4 623.6 L1277.2 620.2 L1284.1 623.6 L1290.9 627.0 L1289.2 621.9 L1284.1 615.0 L1275.5 611.6 L1266.9 609.9 L1260.1 613.3 L1253.2 616.7 L1246.3 613.3 L1239.5 615.0 L1229.2 621.9 L1220.6 625.3 L1212.0 630.5 L1203.5 628.8 L1193.2 625.3 L1186.3 628.8 L1177.7 630.5 L1174.3 623.6 L1169.2 618.5 L1162.3 623.6 L1153.7 627.0 L1146.9 630.5 L1140.0 633.9 L1140.0 636.5 L1136.5 635.6 L1126.2 632.2 L1115.9 630.5 L1105.6 632.2 L1109.0 639.0 L1115.9 644.2 L1124.5 647.6 L1133.1 644.2 L1141.6 647.6 L1150.0 656.2 L1157.1 657.9 L1157.1 656.7 L1160.6 661.3 L1164.0 657.9 L1167.4 652.8Z M1201.7 636.5 L1197.5 637.3 L1196.6 632.2 L1201.7 631.3Z M1185.5 642.5 L1178.6 644.2 L1177.7 637.3 L1184.6 635.6Z M1268.6 635.6 L1273.8 643.3 L1284.1 642.5 L1285.8 635.6 L1277.2 632.2Z M824.3 645.9 L834.6 640.8 L837.2 635.6 L834.9 630.5 L832.9 635.6 L824.3 640.8 L814.0 637.3 L807.2 644.2 L800.3 651.1 L791.7 656.2 L791.7 664.8 L800.3 663.1 L810.6 659.6 L815.7 651.1Z"/>
<path filter="url(#tex-teal)" fill-rule="evenodd" fill="#00e6e6" d="M547.4 563.3 L556.0 559.1 L552.8 554.8 L543.2 556.9Z M517.0 608.4 L512.1 600.2 L500.7 601.9 L505.6 613.3Z M562.8 636.8 L572.5 638.7 L585.5 634.8 L582.3 625.1 L566.0 628.3Z M918.6 648.5 L910.1 652.8 L907.5 661.6 L894.9 661.6 L892.9 659.6 L882.6 657.9 L884.3 663.1 L892.9 666.5 L893.4 667.0 L895.1 667.0 L902.4 675.3 L907.5 685.6 L917.8 687.3 L921.2 697.6 L931.5 701.0 L941.8 699.3 L952.1 694.2 L962.4 697.6 L972.7 699.3 L983.0 697.6 L988.1 687.3 L1000.1 685.6 L1003.2 687.9 L1004.4 681.9 L1013.0 687.1 L1010.4 693.6 L1017.3 699.3 L1027.6 695.9 L1034.4 687.3 L1051.6 695.9 L1061.9 690.7 L1069.1 696.7 L1033.8 696.7 L1033.8 707.9 L1034.4 707.9 L1051.6 708.2 L1067.0 709.9 L1073.0 715.6 L1073.0 719.1 L1077.5 724.2 L1087.6 723.1 L1096.6 722.0 L1096.6 705.7 L1073.0 709.1 L1073.0 699.5 L1085.9 702.7 L1096.2 699.3 L1102.0 703.6 L1101.1 703.5 L1102.2 712.4 L1114.5 711.3 L1114.5 710.2 L1114.5 709.5 L1127.1 707.9 L1127.1 695.9 L1109.9 694.2 L1103.1 689.0 L1092.8 690.7 L1082.5 689.0 L1072.2 685.6 L1065.3 678.7 L1061.9 668.4 L1051.6 661.6 L992.7 661.6 L992.4 661.3 L980.4 659.6 L980.3 661.6 L932.5 661.6 L932.4 661.3 L927.2 652.8Z M1073.0 710.1 L1072.8 709.1 L1073.0 709.1Z M916.9 666.5 L913.5 656.2 L923.8 656.2 L927.2 664.8Z M926.7 679.1 L924.7 678.7 L924.7 670.1 L935.0 671.9 L933.9 677.1 L935.8 681.9 L927.2 681.9Z M1052.3 680.6 L1050.7 680.2 L1050.7 673.4 L1059.3 675.1 L1058.5 678.3 L1058.5 682.2 L1052.5 682.2Z M861.2 666.7 L858.8 667.0 L858.6 666.5 L855.1 667.0 L858.5 667.0 L845.8 668.4 L849.2 673.6 L861.2 673.6Z M837.2 679.6 L837.2 672.7 L830.3 671.9 L831.2 678.7Z M814.9 684.7 L814.9 679.6 L809.7 679.6 L809.7 684.7Z M886.9 688.2 L886.9 683.0 L882.6 683.0 L882.6 688.2Z M804.6 722.3 L805.3 719.2 L803.6 716.5 L795.1 710.5 L785.8 703.5 L783.3 697.4 L784.6 697.5 L796.0 695.8 L805.0 697.2 L811.4 705.0 L816.3 714.2 L817.5 715.6 L827.8 723.3 L828.9 723.9 L840.4 728.0 L850.3 734.5 L850.5 734.6 L853.2 736.2 L853.7 737.1 L863.9 744.0 L867.8 744.4 L881.4 739.3 L887.9 737.7 L890.5 735.8 L891.0 732.6 L889.1 730.0 L885.9 729.5 L879.1 731.2 L878.6 731.4 L876.2 732.3 L879.2 730.0 L880.6 728.1 L883.8 718.5 L890.2 710.5 L890.7 706.0 L887.3 699.1 L885.9 697.6 L877.3 691.6 L875.2 690.8 L863.2 690.0 L862.6 690.0 L850.6 690.8 L849.3 691.1 L839.0 695.4 L836.7 697.7 L836.7 700.9 L839.0 703.2 L842.2 703.2 L851.9 699.1 L862.9 698.4 L873.5 699.1 L880.2 703.8 L882.0 707.4 L876.8 713.9 L876.1 715.1 L873.0 724.1 L867.2 728.6 L865.6 731.3 L865.8 731.8 L863.5 732.5 L854.8 727.4 L844.6 720.7 L843.7 720.2 L832.3 716.2 L823.3 709.4 L818.6 700.7 L818.1 700.0 L810.4 690.6 L807.8 689.1 L796.6 687.4 L795.4 687.4 L784.2 689.0 L774.7 686.6 L771.5 687.1 L769.6 689.7 L770.1 692.9 L772.7 694.8 L775.5 695.5 L775.0 695.9 L775.0 699.1 L778.4 707.7 L779.8 709.6 L790.1 717.3 L790.2 717.3 L798.8 723.3 L801.9 724.0Z M871.4 713.9 L872.3 711.3 L871.4 708.7 L866.2 701.9 L863.5 700.3 L860.3 701.2 L858.7 703.9 L859.6 707.1 L862.8 711.2 L857.9 717.3 L857.0 720.4 L858.6 723.2 L861.7 724.1 L864.5 722.5Z M1223.2 681.9 L1229.2 681.9 L1229.2 681.8 L1230.0 681.8 L1230.0 676.8 L1229.2 676.8 L1229.2 675.9 L1222.3 676.8 L1222.5 677.9 L1222.5 681.8 L1223.2 681.8Z M1249.8 678.5 L1246.1 679.7 L1245.0 679.2 L1232.5 680.5 L1230.2 681.9 L1229.2 681.9 L1227.8 683.4 L1220.0 688.0 L1217.7 689.4 L1208.6 690.5 L1201.1 693.0 L1195.0 690.5 L1182.5 693.0 L1170.3 699.1 L1162.3 695.7 L1161.3 695.6 L1155.0 690.5 L1145.0 693.0 L1145.0 697.5 L1140.0 700.8 L1133.1 702.5 L1133.1 709.4 L1163.5 709.4 L1165.5 710.2 L1114.5 710.2 L1115.7 716.9 L1120.1 720.8 L1131.3 719.7 L1145.5 721.9 L1158.8 725.5 L1158.5 722.4 L1161.6 722.5 L1167.8 711.1 L1172.5 713.0 L1182.5 710.5 L1195.0 715.5 L1207.5 713.0 L1217.5 710.5 L1230.0 714.2 L1243.8 715.5 L1245.3 709.4 L1246.3 709.4 L1253.2 692.2 L1260.1 681.9 L1260.1 671.6Z M1013.0 709.6 L1013.0 704.5 L1007.0 704.5 L1007.0 709.6Z"/>
<path filter="url(#tex-lime)" fill-rule="evenodd" fill="#b4f028" d="M517.0 644.1 L518.6 653.3 L526.7 653.9 L525.1 645.8Z M533.3 655.5 L534.2 663.0 L542.0 663.0 L541.4 655.5Z M1079.0 742.2 L1073.9 740.5 L1068.7 733.6 L1058.5 731.9 L1061.9 738.8 L1065.3 745.6 L1072.2 747.3Z M787.4 743.9 L788.3 748.2 L792.6 749.0 L793.4 743.0Z M845.8 762.8 L856.1 762.8 L866.3 762.8 L876.6 761.1 L883.5 764.5 L893.8 764.5 L902.4 767.9 L904.1 774.8 L914.4 779.9 L921.2 774.8 L928.1 769.6 L938.4 767.9 L948.7 762.8 L955.5 755.9 L957.3 747.3 L964.1 740.5 L957.3 738.8 L955.5 730.2 L948.7 725.0 L945.2 725.0 L948.7 731.9 L945.2 735.3 L938.4 740.5 L935.0 749.0 L924.7 745.6 L921.2 737.0 L916.1 735.3 L917.8 743.9 L910.9 745.6 L904.1 750.8 L897.2 747.3 L885.2 747.3 L880.1 754.2 L869.8 755.9 L856.1 758.5 L842.3 755.9 L835.5 749.0 L828.6 740.5 L821.7 738.8 L825.2 743.9 L832.0 749.0 L838.9 757.6Z M950.4 740.5 L948.7 747.3 L942.7 748.2 L941.8 742.2Z M1048.2 763.1 L1051.6 761.1 L1044.7 757.6Z M1242.5 768.0 L1250.0 766.8 L1256.2 768.0 L1252.5 755.5 L1247.5 760.5 L1240.0 756.8 L1230.0 758.0 L1230.0 768.0 L1221.2 770.5 L1222.5 779.2 L1230.0 778.0 L1235.0 773.0Z M1252.5 778.0 L1253.0 783.0 L1256.2 783.5 L1256.2 778.0Z"/>
<path filter="url(#tex-pur)" fill-rule="evenodd" fill="#a673f0" d="M865.5 800.5 L865.5 809.1 L868.1 818.0 L873.2 818.0 L871.5 814.2 L868.1 807.4 L871.5 800.5 L871.5 792.8 L864.6 792.8Z M892.5 838.5 L905.0 842.2 L913.0 841.0 L913.8 833.0 L910.0 840.5 L900.0 833.0 L890.0 825.5 L877.5 825.5 L882.5 833.0Z M1237.5 840.5 L1243.8 843.0 L1250.0 848.0 L1255.0 855.5 L1262.5 858.0 L1266.2 853.0 L1265.0 838.0 L1272.5 830.5 L1272.5 820.5 L1265.0 820.5 L1265.0 828.0 L1260.0 833.0 L1250.0 840.5 L1241.2 835.5 L1238.8 824.2 L1230.0 823.0 L1233.8 830.5Z"/>
<path filter="url(#tex-grn)" fill-rule="evenodd" fill="#90ee90" d="M468.5 310.2 L482.0 308.0 L486.4 299.0 L477.5 294.5 L459.5 294.5 L450.6 287.8 L446.1 272.1 L432.6 281.1 L434.9 290.0 L441.6 292.3 L450.6 299.0 L459.5 308.0Z M437.1 282.2 L445.0 281.1 L446.1 288.9 L438.2 288.9Z M419.2 296.7 L416.9 303.5 L425.9 310.2 L437.1 314.7 L441.6 310.2 L430.4 301.2Z M437.1 321.4 L423.7 323.7 L430.4 328.1 L441.6 325.9 L455.0 328.1 L459.5 323.7 L450.6 319.2Z M484.6 373.0 L487.6 382.0 L492.0 373.0 L490.9 359.5 L485.3 357.3Z M535.8 406.6 L549.2 404.4 L544.7 399.9 L531.3 397.6 L520.1 390.9 L511.1 379.7 L504.4 368.5 L499.9 359.5 L497.6 361.8 L501.0 370.7 L505.5 382.0 L513.3 393.2 L522.3 402.1Z M511.1 384.2 L522.3 395.4 L535.8 401.0 L534.6 403.3 L521.2 398.8 L510.0 387.6Z M1143.9 405.1 L1145.6 410.9 L1143.0 411.8 L1138.0 421.9 L1148.1 423.6 L1155.7 422.7 L1151.5 416.9 L1148.1 410.1 L1145.6 410.9 L1148.9 405.1 L1149.8 396.7 L1145.6 395.0Z M358.6 403.3 L347.4 402.1 L348.5 407.1 L358.6 410.0 L367.6 412.2 L375.4 411.1 L369.8 405.5Z M1111.1 420.2 L1110.2 413.5 L1106.0 415.2 L1107.7 421.9Z M594.1 422.3 L591.8 415.6 L582.8 416.7 L585.1 422.3Z M1141.4 428.6 L1129.6 427.8 L1119.5 428.6 L1119.5 435.4 L1124.5 435.4 L1141.4 431.2 L1163.2 431.2 L1163.2 428.6Z M1185.9 441.2 L1186.8 437.9 L1181.7 437.0 L1181.7 440.7Z M1151.5 445.5 L1148.1 437.0 L1143.0 437.0 L1146.4 443.8Z M1163.2 443.8 L1164.9 439.6 L1159.9 438.7 L1159.9 442.9Z M1191.8 442.6 L1195.5 442.9 L1196.0 439.6 L1191.8 439.6Z M1359.1 393.2 L1359.1 389.8 L1354.0 390.2 L1354.4 393.4Z M1454.9 413.4 L1459.9 417.4 L1465.0 410.3 L1463.0 403.3 L1454.9 406.3Z M1203.6 411.8 L1200.2 423.6 L1203.6 425.3 L1207.0 418.5 L1212.0 410.1 L1215.4 401.7 L1210.3 403.4Z M1433.1 417.4 L1432.7 412.4 L1427.7 413.4 L1428.3 417.6Z M1402.9 432.5 L1406.9 424.5 L1408.9 414.4 L1409.9 402.3 L1407.5 400.3 L1405.5 412.4 L1401.4 421.4 L1395.4 430.5 L1390.3 436.6 L1396.8 438.6Z M1430.7 420.4 L1420.6 424.5 L1416.6 432.5 L1420.6 438.6 L1430.7 437.6 L1438.8 434.6 L1436.7 426.5Z M1448.9 432.5 L1446.8 426.5 L1440.8 428.5 L1442.8 434.2Z M1369.2 437.6 L1368.2 432.5 L1360.1 434.6 L1362.1 439.6Z M1386.3 452.7 L1396.4 448.7 L1402.5 440.6 L1394.4 438.6 L1382.3 444.6Z M1374.2 450.7 L1364.1 450.7 L1366.1 438.6 L1358.1 442.6 L1350.0 446.7 L1350.0 458.8 L1362.1 456.7 L1370.2 458.8 L1378.2 454.7 L1380.3 446.7Z M1245.6 458.9 L1255.7 462.3 L1259.1 450.5 L1252.4 442.1 L1245.6 432.0 L1237.2 435.4 L1225.5 435.4 L1213.7 438.7 L1215.4 447.1 L1217.0 457.2 L1222.1 462.3 L1230.5 465.6 L1237.2 462.3Z M1292.7 465.6 L1291.0 458.9 L1284.1 461.7 L1284.3 460.6 L1275.9 454.7 L1268.3 451.3 L1270.0 458.1 L1275.9 462.3 L1282.6 465.2 L1282.6 469.0 L1286.0 470.7Z M1201.1 474.9 L1200.2 470.7 L1193.5 469.0 L1196.0 472.4Z"/>
<path filter="url(#tex-grn2)" fill-rule="evenodd" fill="#90ee90" d="M1467.0 408.3 L1468.0 400.3 L1463.0 401.3 L1454.9 405.3 L1446.8 410.3 L1450.9 419.4 L1458.9 419.4 L1463.0 414.4Z M1389.1 437.0 L1387.4 438.7 L1384.6 435.9 L1376.7 444.8 L1367.8 438.1 L1361.0 440.3 L1352.1 442.6 L1345.4 438.1 L1336.4 438.1 L1325.2 442.6 L1318.5 449.3 L1309.5 456.0 L1302.8 465.0 L1307.2 478.5 L1314.0 476.2 L1320.7 467.2 L1327.4 458.3 L1334.1 452.7 L1340.9 453.8 L1344.2 460.5 L1352.1 453.8 L1362.2 456.0 L1368.9 452.7 L1377.9 453.8 L1384.6 449.3 L1390.2 444.8 L1396.9 435.9 L1402.5 426.9 L1407.0 415.7 L1410.4 404.5 L1408.1 400.0 L1404.8 406.7 L1400.3 417.9 L1394.7 428.0Z M1440.8 436.6 L1450.9 434.6 L1458.9 428.5 L1456.9 422.5 L1446.8 420.4 L1434.7 420.4 L1422.6 420.4 L1414.6 420.4 L1412.5 441.6 L1420.6 439.6 L1430.7 438.6Z M1165.7 445.5 L1164.9 427.8 L1117.8 427.8 L1117.8 437.0 L1124.5 437.0 L1141.4 438.7 L1158.2 447.1Z M1259.1 465.6 L1256.6 450.5 L1249.8 440.4 L1247.3 431.2 L1238.9 432.8 L1215.4 435.4 L1208.6 437.0 L1212.0 450.5 L1217.0 462.3 L1228.8 467.3 L1242.3 462.3Z M1282.6 469.5 L1288.2 471.7 L1292.7 467.2 L1287.1 462.8 L1282.6 456.0 L1273.6 452.7 L1266.9 447.1 L1266.9 456.0 L1271.4 458.3 L1277.0 462.8Z M1294.4 512.0 L1304.7 498.3 L1308.1 488.0 L1301.2 491.5 L1294.4 489.7 L1287.5 498.3 L1282.4 506.9 L1277.2 513.8 L1270.4 522.3 L1263.5 527.5 L1258.4 525.8 L1260.1 515.5 L1268.6 512.0 L1275.5 503.5 L1277.2 494.9 L1285.8 493.2 L1285.8 482.3 L1282.4 484.6 L1270.4 501.7 L1258.4 515.5 L1249.8 536.1 L1236.1 546.3 L1234.0 548.8 L1233.2 549.0 L1233.4 549.5 L1225.8 558.4 L1213.8 570.4 L1201.7 580.7 L1191.5 593.0 L1196.0 593.0 L1194.5 594.5 L1197.9 604.5 L1211.4 602.9 L1221.5 594.5 L1234.9 584.4 L1243.3 572.6 L1238.3 570.9 L1228.2 577.6 L1214.7 581.0 L1206.1 584.7 L1212.0 577.2 L1218.9 570.4 L1229.2 560.1 L1234.3 552.4 L1234.9 554.1 L1241.6 557.5 L1253.4 559.1 L1265.2 560.8 L1268.5 554.1 L1258.5 549.0 L1254.6 548.0 L1263.5 542.9 L1273.8 532.6 L1284.1 522.3Z"/>
<path filter="url(#tex-yel)" fill-rule="evenodd" fill="#fff000" d="M400.0 272.0 L405.0 257.0 L400.0 239.5 L385.0 242.0 L388.8 259.5 L392.5 274.5Z M375.0 317.0 L387.5 320.8 L400.0 317.0 L405.0 302.0 L397.5 288.2 L385.0 280.8 L370.0 278.2 L355.0 282.0 L353.8 294.5 L362.5 307.0Z M520.0 314.5 L535.0 309.5 L525.0 304.5 L530.0 294.5 L515.0 289.5 L497.5 294.5 L500.0 317.0 L510.0 322.0Z M335.1 308.4 L331.7 308.0 L331.7 314.2 L334.9 314.7Z M1517.5 360.8 L1508.8 362.0 L1511.2 367.5 L1518.8 366.2Z M341.2 397.0 L345.0 414.5 L348.8 397.0 L352.5 372.0 L356.2 347.0 L357.5 324.5 L349.5 322.0 L348.8 347.0 L345.0 372.0Z M378.8 414.5 L383.8 417.0 L385.0 397.0 L387.5 372.0 L390.5 352.0 L387.5 329.5 L376.2 327.0 L378.8 347.0 L381.2 372.0 L379.5 392.0Z M1495.0 369.5 L1485.0 372.0 L1487.5 375.5 L1500.0 375.0 L1502.5 372.0Z"/>
<path filter="url(#tex-olv)" fill-rule="evenodd" fill="#c8aa3c" d="M1237.5 876.8 L1245.0 873.0 L1252.5 875.0 L1250.0 878.0 L1241.2 880.0Z"/>
<path filter="url(#tex-red)" fill-rule="evenodd" fill="#e03c1e" d="M391.6 241.6 L397.2 241.1 L396.7 238.0 L391.1 238.5Z M359.8 266.5 L358.6 260.9 L351.9 262.0 L353.0 267.6Z M396.3 278.8 L394.5 268.7 L390.0 269.8 L392.3 281.1Z"/></g>
<g filter="url(#rough3)"><path fill="#a08a20" d="M1237.5 876.8 L1245.0 873.0 L1252.5 875.0 L1250.0 878.0 L1241.2 880.0Z"/><path fill="#c8aa3c" d="M1228.8 878.5 L1232.5 877.5 L1233.0 880.0 L1229.5 880.5Z"/><path fill="#e6c800" d="M1485.0 372.0 L1495.0 369.5 L1502.5 372.0 L1500.0 375.0 L1487.5 375.5Z"/><path fill="#e6c800" d="M1508.8 362.0 L1517.5 360.8 L1518.8 366.2 L1511.2 367.5Z"/><path fill="#e6e6e6" d="M1516.2 359.0 L1525.0 357.8 L1525.5 364.5 L1518.8 365.5Z"/><path fill="#e6e6e6" d="M1255.0 871.8 L1265.0 865.5 L1270.0 860.5 L1271.2 862.5 L1262.5 871.0 L1256.2 874.2Z"/><path fill="#e6e6e6" d="M425.0 628.8 L442.5 629.5 L443.0 632.0 L425.5 631.5Z"/><path fill="#e6e6e6" d="M441.2 650.0 L446.2 650.0 L446.2 653.8 L441.2 653.8Z"/></g>
<path d="M1176.1 318.0 L1171.0 315.4 L1163.0 312.4 L1154.9 313.4 L1146.8 315.4 L1140.8 318.4 L1134.7 317.4 L1129.7 316.8 L1123.6 322.9 L1118.2 330.1 L1112.9 337.4 L1108.5 344.2 L1104.9 350.7 L1106.9 354.3 L1112.1 352.3 L1117.0 346.3 L1121.8 339.8 L1126.7 332.9 L1131.1 326.9 L1134.3 322.9 L1130.7 330.5 L1125.7 339.6 L1120.6 348.7 L1117.6 356.7 L1115.0 366.8 L1112.9 376.9 L1110.9 387.0 L1110.5 397.1 L1112.1 407.2 L1113.5 415.2 L1115.6 422.3 L1119.6 427.4 L1124.6 427.8 L1130.7 425.3 L1136.7 422.3 L1140.8 415.2 L1143.8 407.2 L1144.8 399.1 L1142.8 389.0 L1139.8 378.9 L1138.4 368.9 L1139.8 360.8 L1142.4 352.7 L1143.8 346.7 L1148.9 341.6 L1154.9 337.6 L1159.9 334.6 L1166.0 330.5 L1171.0 326.5 L1173.1 321.4Z" fill="#fff"/>
<path d="M1081.2 263.2 L1090.0 259.5 L1098.8 257.0 L1097.5 260.8 L1088.8 264.5 L1082.5 267.0Z" fill="#4d4d4d"/>
<path d="M1045.0 287.5 L1056.2 285.8 L1057.5 290.0 L1050.0 292.5Z" fill="#4d4d4d"/>
<path d="M1194.2 311.4 L1202.7 311.4 L1202.7 318.0 L1194.2 318.0Z" fill="#4d4d4d"/>
<path d="M1155.0 319.5 L1162.5 319.0 L1163.0 324.5 L1156.2 325.8Z" fill="#4d4d4d"/>
<path d="M1147.5 335.8 L1152.0 334.5 L1152.5 339.5 L1148.0 340.0Z" fill="#4d4d4d"/>
<path d="M1358.7 485.1 L1354.8 489.1 L1350.3 492.4 L1349.4 498.0 L1350.3 504.8 L1349.4 512.6 L1352.5 517.1 L1355.7 520.4 L1356.8 528.3 L1357.6 537.3 L1356.8 546.2 L1358.7 552.4 L1361.7 554.1 L1361.0 548.5 L1359.5 544.0 L1360.6 537.3 L1363.9 530.5 L1364.6 526.1 L1361.5 522.7 L1358.1 518.2 L1356.1 514.3 L1357.2 510.4 L1356.1 503.6 L1355.0 498.0 L1356.1 492.4 L1358.3 486.8 L1360.6 483.7Z" fill="#fff"/>
<g fill="none" stroke="#000" stroke-width="3.6" stroke-linejoin="round" stroke-linecap="round">
<path stroke-width="3.9" d="M333.8 252.0 L336.9 252.6 L340.0 253.5 L342.5 253.9 L345.0 254.4 L347.4 255.6 L350.0 255.5 L352.5 255.9 L355.2 255.3 L357.4 257.3 L360.0 257.5 L363.5 257.0 L367.0 257.0 L368.3 259.4 L369.2 262.0 L370.5 264.5 L370.0 267.4 L368.9 270.2 L369.5 273.2 L369.6 276.3 L370.7 279.1 L371.5 282.0 L374.1 283.5 L375.8 286.0 L378.1 283.1 L381.5 281.5 L382.9 279.3 L384.8 277.3 L385.0 274.5 L384.7 271.6 L384.2 268.7 L384.0 265.8 L385.7 262.8 L386.5 259.5 L384.5 257.2 L384.6 254.2 L384.0 251.5 L383.1 248.1 L381.5 245.0 L379.5 242.2 L376.5 240.5 L375.2 238.1 L374.2 235.5 L956.2 235.5 L956.5 232.5 L956.4 229.5 L956.2 226.5 L958.7 227.2 L961.3 225.6 L963.8 226.5 L963.8 229.2 L966.0 231.5 L967.4 233.9 L966.2 236.8 L966.2 239.5 L969.4 239.8 L971.8 242.2 L975.0 242.5 L977.3 243.9 L980.3 243.2 L982.3 245.7 L985.0 245.8 L987.4 244.7 L990.0 245.2 L992.5 245.0 L995.0 244.6 L997.5 244.8 L1000.0 244.5 L1002.3 245.8 L1004.9 246.3 L1007.4 246.7 L1010.0 247.0 L1011.2 249.4 L1013.0 251.4 L1015.0 253.2 L1017.4 252.3 L1019.9 251.8 L1022.5 252.0 L1025.2 253.3 L1027.3 255.7 L1030.0 257.0 L1032.5 257.2 L1034.7 259.8 L1037.5 258.2 L1040.1 256.3 L1042.9 254.9 L1046.2 254.5 L1049.0 256.0 L1051.7 257.3 L1055.0 257.0 L1057.4 257.9 L1059.9 258.7 L1062.3 259.7 L1065.0 258.9 L1067.5 259.5 L1070.7 259.0 L1073.4 260.4 L1076.2 261.5 L1073.6 261.9 L1072.2 264.8 L1069.3 264.8 L1067.0 265.8 L1064.9 267.3 L1062.5 268.2 L1059.7 268.9 L1057.3 270.3 L1054.1 270.2 L1052.3 272.8 L1050.0 274.5 L1048.2 276.4 L1046.1 277.8 L1044.2 279.4 L1041.2 279.6 L1039.9 282.1 L1037.5 283.2 L1035.5 284.7 L1033.0 285.6 L1031.6 288.1 L1029.3 289.3 L1028.0 291.8 L1025.0 292.0 L1022.9 294.1 L1020.2 294.9 L1017.3 295.4 L1015.0 297.0 L1017.7 297.5 L1020.0 296.0 L1022.5 295.7 L1025.0 295.0 L1027.5 294.8 L1030.1 295.2 L1032.6 294.6 L1035.0 293.5 L1037.9 294.2 L1041.0 293.7 L1043.8 295.0 L1047.5 298.2 L1050.2 299.0 L1052.8 298.5 L1055.4 299.2 L1058.1 298.2 L1060.8 296.8 L1064.2 297.0 L1066.1 294.2 L1068.5 293.2 L1071.5 294.0 L1073.7 292.0 L1076.2 291.2 L1078.7 289.4 L1081.2 287.6 L1084.3 287.1 L1086.9 285.3 L1090.3 284.8 L1092.4 282.1 L1095.4 281.0 L1098.0 279.3 L1100.4 277.1 L1102.5 274.6 L1105.6 276.6 L1108.1 276.0 L1110.5 275.0 L1113.5 278.1 L1111.3 280.5 L1108.5 282.1 L1106.1 284.2 L1103.1 285.4 L1100.4 287.1 L1097.7 288.3 L1097.4 291.2 L1099.4 293.2 L1101.4 291.4 L1104.0 290.9 L1106.5 290.2 L1109.0 292.7 L1112.5 293.2 L1114.8 294.6 L1116.8 296.3 L1118.6 298.2 L1121.3 299.3 L1124.4 299.3 L1126.7 301.3 L1129.3 301.8 L1132.2 300.9 L1134.7 302.3 L1138.1 301.5 L1140.8 299.3 L1143.8 298.3 L1146.8 297.2 L1149.7 298.8 L1152.2 296.8 L1154.9 296.2 L1157.7 297.0 L1160.2 294.4 L1163.0 295.2 L1166.0 294.8 L1169.0 294.8 L1172.0 294.2 L1171.1 297.5 L1173.1 300.3 L1176.6 299.9 L1179.1 302.3 L1181.7 302.9 L1184.2 302.3 L1186.8 302.8 L1189.2 301.3 L1188.6 303.8 L1189.2 306.3 L1190.8 308.4 L1192.9 310.1 L1194.2 312.4 L1190.9 314.0 L1187.2 313.4 L1184.5 313.9 L1181.8 314.9 L1179.1 315.4 L1176.1 317.4 L1179.1 320.1 L1183.1 319.4 L1186.1 320.7 L1188.4 323.0 L1191.2 324.5 L1194.5 324.6 L1196.7 326.9 L1199.3 328.5 L1202.2 330.7 L1205.3 332.5 L1205.7 336.2 L1207.4 339.6 L1205.2 341.6 L1205.3 344.6 L1205.7 347.3 L1206.9 349.9 L1206.3 352.7 L1204.9 354.9 L1203.9 357.3 L1203.3 359.8 L1201.0 362.0 L1199.3 364.8 L1197.1 367.3 L1194.2 368.9 L1192.9 371.3 L1193.6 373.9 L1197.3 376.9 L1199.8 375.0 L1202.3 372.9 L1205.3 370.8 L1207.4 367.8 L1210.9 367.3 L1213.4 364.8 L1215.8 365.8 L1218.4 365.8 L1219.7 368.5 L1221.5 370.9 L1220.2 373.9 L1222.4 376.3 L1223.1 378.9 L1223.6 381.6 L1223.5 384.3 L1223.9 387.0 L1223.1 390.2 L1224.7 393.1 L1223.9 395.7 L1222.8 398.3 L1222.5 401.1 L1219.3 402.4 L1217.4 405.2 L1216.3 408.4 L1214.4 411.2 L1213.6 415.1 L1210.4 417.3 L1208.1 420.2 L1206.3 423.3 L1205.3 425.3 L1207.3 426.8 L1209.8 427.6 L1211.3 430.0 L1213.8 430.8 L1215.3 433.0 L1217.5 434.5 L1220.0 433.7 L1222.5 434.9 L1225.0 434.3 L1227.5 434.5 L1229.7 432.7 L1232.6 433.6 L1235.0 432.6 L1237.5 432.0 L1239.6 429.8 L1242.7 429.0 L1245.0 427.0 L1247.7 426.1 L1249.8 424.1 L1252.7 423.6 L1255.0 422.0 L1258.0 422.2 L1260.5 420.2 L1263.5 420.4 L1266.2 419.5 L1269.1 418.3 L1272.8 418.8 L1275.0 415.8 L1277.5 413.0 L1281.2 413.2 L1283.7 412.1 L1285.5 409.9 L1287.8 408.5 L1290.0 407.0 L1293.4 406.7 L1295.0 403.7 L1297.5 402.0 L1300.5 400.4 L1300.0 397.0 L1297.2 394.8 L1295.0 392.0 L1295.9 389.0 L1296.2 385.8 L1299.0 384.9 L1301.8 384.3 L1304.7 384.5 L1307.5 384.0 L1310.0 384.1 L1312.5 384.9 L1315.3 383.3 L1317.3 387.1 L1320.0 385.8 L1322.5 385.9 L1324.9 387.8 L1327.6 385.7 L1330.0 387.0 L1332.5 387.0 L1335.5 389.1 L1337.4 385.3 L1339.8 384.3 L1342.4 384.5 L1345.0 384.5 L1347.7 383.2 L1350.3 381.7 L1352.5 379.5 L1354.4 377.3 L1354.0 374.4 L1355.0 372.0 L1351.9 369.6 L1351.2 365.8 L1353.0 363.0 L1356.2 361.4 L1357.5 358.2 L1360.3 356.4 L1361.4 352.8 L1365.0 352.0 L1367.5 349.9 L1370.8 348.8 L1372.5 345.8 L1375.8 346.2 L1377.7 343.7 L1380.1 342.3 L1382.5 340.8 L1414.5 340.2 L1455.0 339.5 L1455.3 336.0 L1457.5 333.2 L1460.5 331.9 L1463.8 332.0 L1466.9 330.8 L1470.0 329.5 L1472.5 328.0 L1474.7 326.1 L1476.3 323.6 L1478.8 322.0 L1478.1 319.4 L1478.6 316.9 L1478.5 314.4 L1480.3 312.1 L1480.0 309.5 L1479.2 306.3 L1481.7 304.4 L1483.4 302.1 L1485.2 300.0 L1485.0 297.0 L1486.5 295.0 L1488.7 293.5 L1489.2 290.8 L1490.5 288.6 L1492.5 287.0 L1493.5 284.7 L1496.5 283.8 L1497.7 281.5 L1498.8 279.2 L1500.0 277.0 L1503.6 278.6 L1505.0 275.0 L1506.9 277.9 L1508.8 280.8 L1512.0 280.4 L1515.0 279.0 L1518.0 278.8 L1520.8 277.8 L1523.8 277.5 L1525.2 280.7 L1528.1 281.6 L1531.2 282.0 L1533.8 283.8 L1534.5 287.0 L1534.5 307.0 L1535.0 322.0 L1537.7 322.9 L1540.0 324.5 L1539.9 327.0 L1539.9 329.6 L1542.0 331.9 L1541.2 334.5 L1545.1 334.0 L1547.5 337.0 L1549.9 339.0 L1549.2 342.0 L1550.0 344.5 L1547.6 346.4 L1545.0 348.2 L1542.4 348.9 L1540.2 350.7 L1537.9 352.0 L1535.0 352.0 L1533.3 354.8 L1529.9 354.2 L1527.4 355.5 L1525.0 357.0 L1522.7 355.7 L1520.1 355.3 L1517.5 355.7 L1515.2 353.9 L1512.5 354.5 L1510.7 356.5 L1509.1 358.6 L1507.2 360.4 L1505.0 362.0 L1503.3 363.9 L1502.1 366.5 L1498.9 366.4 L1496.9 367.8 L1495.0 369.5 L1492.6 371.0 L1490.3 372.5 L1487.4 373.0 L1485.0 374.5 L1482.1 375.3 L1481.2 378.2 L1479.7 380.4 L1477.5 382.0 L1476.3 384.8 L1474.2 387.0 L1472.5 389.5 L1472.2 392.5 L1470.0 394.5 L1470.6 395.2 L1470.9 398.7 L1471.0 402.3 L1469.0 404.8 L1467.0 407.3 L1465.0 411.4 L1465.9 414.5 L1469.0 415.4 L1470.6 417.5 L1473.1 418.4 L1476.2 419.1 L1479.1 418.0 L1482.1 417.1 L1485.2 417.4 L1486.3 420.3 L1488.4 422.5 L1488.8 426.2 L1487.2 429.5 L1483.1 430.5 L1484.2 427.6 L1484.8 424.5 L1481.1 421.4 L1478.5 422.1 L1476.1 423.5 L1475.7 426.2 L1474.1 428.5 L1470.9 427.9 L1469.0 430.5 L1466.4 430.5 L1464.0 431.5 L1462.9 434.3 L1459.9 434.6 L1457.3 434.6 L1454.9 435.6 L1450.3 436.6 L1447.2 437.3 L1444.0 437.3 L1440.8 437.6 L1438.2 437.7 L1435.7 438.3 L1433.6 440.8 L1430.7 439.6 L1428.3 440.8 L1425.6 439.4 L1423.0 439.2 L1420.6 440.6 L1417.6 439.8 L1415.1 440.6 L1413.5 444.5 L1410.5 443.6 L1408.1 445.1 L1407.8 448.6 L1403.8 448.4 L1402.7 451.2 L1401.6 453.9 L1399.0 455.2 L1402.4 456.1 L1405.1 454.1 L1407.6 451.2 L1411.0 452.0 L1413.5 451.6 L1415.7 450.2 L1418.3 450.3 L1420.7 449.2 L1423.2 449.0 L1426.0 449.4 L1427.7 446.4 L1430.5 447.1 L1433.3 447.6 L1435.3 445.4 L1437.6 444.0 L1440.4 444.1 L1443.0 443.3 L1445.3 441.8 L1448.0 441.6 L1449.0 444.6 L1446.1 445.1 L1443.5 446.6 L1441.1 448.5 L1437.5 447.4 L1435.3 449.8 L1432.7 449.9 L1430.5 451.5 L1428.2 452.6 L1425.8 453.5 L1423.2 453.6 L1420.5 453.2 L1418.4 455.0 L1415.8 455.1 L1413.5 456.3 L1411.0 456.8 L1408.2 456.9 L1405.6 458.1 L1402.7 458.0 L1400.2 459.4 L1397.4 459.8 L1394.0 457.0 L1398.4 454.7 L1396.3 456.3 L1395.4 458.8 L1397.7 460.3 L1400.4 460.8 L1402.0 462.7 L1403.5 464.8 L1404.2 467.9 L1403.5 470.9 L1403.6 473.8 L1402.7 476.4 L1401.4 478.9 L1400.1 482.4 L1397.4 485.0 L1394.8 487.6 L1393.4 491.0 L1391.7 493.1 L1389.0 494.2 L1388.3 497.1 L1384.9 497.7 L1384.3 501.1 L1382.3 499.6 L1380.3 498.1 L1377.7 496.9 L1377.2 494.1 L1375.4 492.2 L1374.2 490.0 L1372.6 487.5 L1371.2 485.0 L1369.0 482.9 L1369.2 479.9 L1367.7 480.2 L1368.9 482.8 L1369.5 485.6 L1370.7 488.2 L1372.1 490.8 L1373.3 493.4 L1373.7 496.3 L1375.9 498.7 L1375.8 502.5 L1378.8 504.4 L1379.5 507.1 L1380.6 509.7 L1380.4 512.5 L1379.8 515.5 L1379.1 519.1 L1377.8 522.5 L1375.8 524.4 L1375.8 527.3 L1373.6 529.1 L1372.7 531.6 L1370.5 534.0 L1368.8 536.7 L1367.7 539.7 L1364.7 542.0 L1363.6 545.7 L1361.0 549.2 L1361.5 552.0 L1361.0 554.8 L1360.9 557.8 L1363.4 560.0 L1363.6 562.9 L1364.9 565.5 L1364.7 568.7 L1366.7 571.0 L1367.0 573.9 L1368.7 576.3 L1369.7 579.0 L1371.4 581.8 L1371.1 585.1 L1371.5 599.2 L1369.1 600.1 L1367.4 602.3 L1365.4 603.8 L1363.1 604.9 L1360.6 605.7 L1357.8 607.1 L1356.1 610.3 L1352.5 610.3 L1349.4 610.7 L1346.5 611.7 L1343.5 610.6 L1340.4 609.7 L1338.0 610.7 L1335.2 609.8 L1332.7 610.7 L1330.3 611.7 L1328.7 614.0 L1326.7 616.0 L1323.9 617.1 L1323.2 620.4 L1320.3 621.4 L1319.2 624.2 L1318.0 627.0 L1316.2 629.5 L1313.6 630.9 L1311.1 632.3 L1308.6 634.0 L1306.1 635.5 L1303.0 636.1 L1300.7 638.3 L1298.1 639.9 L1300.0 640.0 L1298.6 642.6 L1297.5 645.6 L1295.0 647.5 L1292.1 649.6 L1290.0 652.5 L1287.8 654.1 L1285.4 655.4 L1284.8 658.6 L1282.5 660.0 L1280.0 662.0 L1277.5 664.2 L1275.0 666.2 L1272.5 667.2 L1270.0 668.0 L1267.5 670.5 L1265.0 673.0 L1263.6 675.7 L1260.2 675.5 L1258.1 677.2 L1256.2 679.2 L1254.1 682.0 L1253.8 685.5 L1251.1 687.3 L1252.2 690.6 L1251.0 693.0 L1250.0 695.5 L1249.0 698.0 L1246.6 699.9 L1248.5 703.5 L1246.2 705.5 L1245.3 707.9 L1246.5 710.7 L1246.9 713.4 L1246.0 715.8 L1243.8 718.0 L1245.4 720.3 L1243.9 723.2 L1246.0 725.4 L1245.9 728.0 L1246.2 730.5 L1247.7 732.8 L1246.7 735.6 L1248.7 737.8 L1247.2 740.7 L1248.8 743.0 L1250.3 745.3 L1250.9 747.8 L1250.9 750.5 L1251.7 753.0 L1252.5 755.5 L1252.4 758.4 L1254.4 760.5 L1256.5 762.6 L1256.9 765.3 L1257.5 768.0 L1258.7 770.4 L1258.4 773.2 L1259.4 775.6 L1260.6 778.0 L1261.2 780.5 L1261.3 783.2 L1263.1 785.4 L1263.6 788.0 L1264.1 790.5 L1265.0 793.0 L1264.8 796.0 L1267.1 798.0 L1268.3 800.4 L1269.8 802.7 L1270.0 805.5 L1270.4 808.2 L1272.4 810.3 L1272.6 813.1 L1273.8 815.5 L1275.6 817.8 L1273.4 820.6 L1275.6 822.9 L1275.4 825.4 L1275.0 828.0 L1274.5 843.0 L1273.0 845.3 L1274.3 848.3 L1272.6 850.5 L1271.8 853.0 L1271.2 855.5 L1270.1 859.1 L1267.5 861.8 L1264.7 861.5 L1262.1 862.2 L1260.0 864.2 L1257.2 865.5 L1254.8 864.6 L1252.5 863.0 L1252.3 860.3 L1249.8 858.4 L1250.0 855.5 L1248.5 853.1 L1247.6 850.5 L1246.8 847.7 L1245.0 845.5 L1241.8 844.4 L1238.8 843.0 L1237.9 840.5 L1236.3 838.2 L1237.0 835.1 L1235.0 833.0 L1233.4 830.7 L1232.8 827.9 L1230.9 825.7 L1230.0 823.0 L1230.7 819.9 L1231.2 816.8 L1228.0 815.6 L1225.0 814.2 L1223.9 811.4 L1222.3 808.9 L1222.8 805.6 L1221.2 803.0 L1221.8 799.7 L1220.0 796.8 L1218.3 794.2 L1216.2 791.8 L1218.1 788.9 L1218.8 785.5 L1219.2 782.9 L1218.9 780.4 L1218.1 778.0 L1217.5 775.5 L1218.1 773.0 L1219.1 770.6 L1218.8 768.0 L1218.0 765.5 L1216.3 763.3 L1216.2 760.5 L1214.1 758.0 L1210.8 756.5 L1210.0 753.0 L1208.3 750.5 L1207.0 747.8 L1205.0 745.5 L1203.7 742.3 L1201.0 740.4 L1198.8 738.0 L1196.6 736.0 L1193.7 735.5 L1191.2 734.2 L1188.2 735.5 L1185.0 735.0 L1183.2 737.8 L1180.5 739.3 L1177.5 740.5 L1175.3 742.3 L1172.4 741.3 L1170.0 742.5 L1167.5 742.8 L1165.0 742.3 L1162.5 743.0 L1161.3 739.9 L1160.0 736.8 L1159.0 734.1 L1157.4 732.0 L1155.0 730.5 L1152.1 728.4 L1150.0 725.5 L1147.4 723.8 L1145.0 721.8 L1145.0 725.5 L1142.4 725.3 L1139.7 725.6 L1137.6 723.1 L1135.0 723.0 L1132.6 721.7 L1130.0 722.4 L1127.5 722.5 L1125.0 721.8 L1122.3 721.5 L1120.4 724.9 L1117.5 723.5 L1114.9 724.9 L1112.4 726.4 L1110.0 728.0 L1108.9 725.3 L1109.9 722.1 L1108.9 719.4 L1107.5 716.8 L1107.0 719.4 L1106.1 721.8 L1105.6 724.4 L1104.5 726.8 L1101.3 726.8 L1098.0 727.0 L1095.0 725.5 L1092.3 724.7 L1089.9 725.3 L1087.4 725.8 L1085.0 726.8 L1082.1 728.3 L1078.8 728.0 L1075.6 728.6 L1075.0 731.8 L1073.1 729.3 L1070.1 729.9 L1067.5 729.2 L1064.8 729.1 L1062.3 728.3 L1060.0 726.8 L1057.9 728.4 L1056.2 730.5 L1060.0 733.5 L1063.3 734.3 L1065.9 736.5 L1068.8 738.0 L1071.9 736.8 L1073.8 734.2 L1076.5 731.9 L1080.0 732.0 L1079.1 735.4 L1081.5 738.0 L1078.0 737.5 L1075.0 739.5 L1074.3 742.1 L1073.0 744.2 L1070.5 745.5 L1072.4 747.9 L1074.7 750.0 L1075.9 752.9 L1077.5 755.5 L1080.4 758.3 L1079.0 762.0 L1081.5 762.3 L1084.0 763.0 L1086.5 761.1 L1086.2 758.0 L1083.3 757.6 L1081.2 755.5 L1078.0 754.5 L1075.0 753.0 L1072.7 754.7 L1069.9 753.5 L1067.5 754.5 L1065.1 755.8 L1061.8 755.3 L1060.0 758.0 L1057.0 757.3 L1054.0 757.0 L1052.2 759.0 L1050.0 760.5 L1047.8 758.4 L1045.0 757.0 L1042.3 755.7 L1039.4 754.7 L1037.6 751.9 L1035.0 750.5 L1033.2 748.1 L1031.8 745.4 L1030.0 743.0 L1027.6 742.3 L1024.9 742.6 L1022.5 741.8 L1020.6 743.6 L1018.0 745.0 L1017.5 748.0 L1014.7 748.1 L1012.9 745.1 L1009.9 745.9 L1007.3 745.6 L1005.0 744.2 L1003.1 741.4 L1000.0 742.5 L997.9 740.7 L995.0 741.0 L992.4 740.6 L990.2 743.0 L987.5 741.8 L985.1 742.6 L982.5 742.5 L980.4 744.6 L978.1 745.9 L975.0 745.5 L972.5 746.7 L969.8 747.5 L967.5 749.2 L967.2 745.5 L966.2 742.0 L961.5 743.0 L962.0 745.5 L962.7 747.9 L963.1 750.4 L962.5 753.0 L960.3 755.4 L958.1 757.8 L955.0 759.2 L952.6 760.9 L950.0 762.4 L947.9 764.6 L945.0 765.5 L942.6 766.9 L940.3 768.6 L937.5 769.3 L935.0 770.5 L932.4 770.7 L930.0 771.6 L927.4 772.0 L925.0 773.0 L925.0 776.1 L922.8 778.1 L921.2 780.5 L918.0 782.1 L915.0 784.2 L913.9 787.2 L913.8 790.5 L911.2 793.0 L907.5 793.0 L907.4 795.5 L906.5 798.0 L907.5 800.5 L905.6 802.3 L903.6 803.9 L901.5 805.5 L904.4 807.1 L907.5 808.0 L906.6 810.4 L906.2 813.0 L906.3 815.6 L907.4 818.0 L908.0 820.5 L908.8 823.0 L910.3 825.3 L910.8 827.9 L910.6 830.9 L912.5 833.0 L913.1 835.9 L913.5 838.8 L913.8 841.8 L910.9 842.6 L907.8 841.9 L905.0 843.0 L902.4 843.2 L900.2 841.2 L897.3 842.3 L894.8 841.9 L892.5 840.5 L890.1 839.1 L887.5 837.9 L885.1 836.5 L882.5 835.5 L880.8 833.5 L878.0 833.3 L876.2 831.4 L873.8 830.5 L872.2 828.3 L873.1 825.1 L871.2 823.0 L870.0 820.2 L868.2 817.7 L866.2 815.5 L866.1 813.0 L864.9 810.6 L865.0 808.0 L865.0 805.5 L863.7 802.8 L861.7 800.5 L860.0 798.0 L858.5 795.4 L855.9 793.6 L855.5 790.4 L853.8 788.0 L851.7 785.8 L849.9 783.5 L849.0 780.6 L847.5 778.0 L844.8 776.2 L845.5 772.7 L844.4 770.2 L842.5 768.0 L841.2 765.5 L839.2 763.4 L838.0 760.9 L837.5 758.0 L835.9 756.1 L832.9 755.2 L833.1 751.9 L832.0 749.7 L830.0 748.0 L827.8 746.5 L825.6 745.0 L823.8 743.0 L820.9 742.4 L818.0 741.9 L815.0 741.8 L812.6 740.6 L810.0 741.1 L807.4 741.4 L805.0 740.5 L802.7 742.5 L799.9 743.7 L797.5 745.5 L795.4 747.6 L796.1 750.6 L795.0 753.0 L794.5 755.9 L793.1 758.3 L791.2 760.5 L788.8 763.4 L785.0 763.0 L782.7 761.1 L779.4 760.6 L777.5 758.0 L774.9 757.3 L772.5 756.3 L770.9 754.3 L769.8 751.6 L767.5 750.5 L764.8 749.4 L762.7 747.8 L762.0 744.8 L760.0 743.0 L758.5 740.6 L757.8 737.8 L756.8 735.2 L755.0 733.0 L754.0 730.5 L752.0 728.4 L751.9 725.5 L751.4 722.8 L750.0 720.5 L747.8 719.0 L745.4 717.6 L745.0 714.2 L742.5 713.0 L739.8 711.6 L737.3 710.0 L735.0 708.0 L737.5 710.5 L740.0 713.0 L738.6 710.4 L736.2 708.8 L733.8 707.2 L732.4 704.6 L730.0 703.0 L729.3 699.7 L726.8 698.2 L724.4 696.6 L721.3 695.7 L720.0 693.0 L719.6 688.4 L715.0 688.5 L682.5 688.5 L683.5 691.5 L682.8 694.5 L683.1 697.5 L682.5 700.5 L620.0 700.5 L542.5 669.2 L542.5 665.0 L497.5 668.0 L493.8 665.0 L494.1 662.0 L492.2 659.9 L489.8 657.9 L490.0 655.0 L488.5 652.4 L487.1 649.7 L485.0 647.5 L482.9 645.5 L480.5 643.8 L478.9 641.4 L477.5 638.8 L474.5 637.9 L471.7 636.2 L468.8 635.0 L466.0 633.7 L464.1 631.1 L461.2 630.0 L458.6 629.5 L456.1 628.8 L454.4 626.8 L452.5 625.0 L450.6 622.4 L447.2 622.1 L445.0 620.0 L442.7 617.7 L440.0 619.0 L437.4 620.1 L435.0 618.8 L432.4 619.0 L430.0 617.6 L427.3 618.2 L425.4 614.7 L422.5 616.2 L420.5 613.4 L420.0 610.0 L419.9 607.4 L420.0 604.7 L418.0 602.5 L417.5 600.0 L415.5 597.9 L414.8 595.1 L413.8 592.5 L411.9 589.8 L410.2 587.0 L407.5 585.0 L406.0 583.0 L403.5 581.7 L403.0 579.0 L401.0 577.3 L400.0 575.0 L396.5 573.7 L395.4 570.4 L393.8 567.5 L392.9 564.9 L394.9 562.6 L396.3 560.2 L395.0 557.5 L394.2 554.5 L390.9 554.1 L389.1 552.2 L387.5 550.0 L386.8 547.2 L385.8 544.6 L383.4 542.7 L382.5 540.0 L381.5 537.5 L382.4 534.3 L379.6 532.5 L378.8 530.0 L376.6 528.4 L375.1 526.2 L373.4 524.0 L371.2 522.5 L369.2 520.4 L368.5 517.6 L367.5 515.0 L365.2 513.6 L364.3 511.1 L364.3 508.0 L362.0 506.6 L360.0 505.0 L358.4 502.5 L356.2 500.4 L355.1 497.6 L353.8 495.0 L354.2 492.3 L352.5 490.1 L353.7 487.3 L350.9 485.2 L351.4 482.5 L351.2 480.0 L351.3 476.8 L347.2 475.8 L348.4 472.0 L346.2 470.0 L343.3 468.3 L343.0 465.0 L341.4 462.6 L340.0 460.0 L341.3 457.7 L338.7 454.3 L340.3 452.1 L342.1 449.9 L343.2 447.5 L343.8 445.0 L343.3 442.3 L344.1 439.8 L343.5 437.1 L344.4 434.6 L345.0 432.0 L343.8 429.6 L344.2 427.0 L344.0 424.4 L344.2 421.8 L342.5 419.5 L341.5 417.1 L341.2 414.6 L341.0 412.0 L340.3 409.5 L340.0 407.0 L339.1 404.1 L337.1 401.5 L337.5 398.2 L338.8 395.4 L338.8 392.1 L340.5 389.5 L340.4 386.8 L340.5 384.2 L343.4 382.3 L343.0 379.5 L343.8 377.0 L345.2 374.7 L344.8 372.0 L343.6 369.3 L344.5 366.9 L346.4 364.6 L346.2 362.0 L346.0 359.4 L346.2 356.8 L347.3 354.5 L347.8 352.0 L347.5 349.4 L348.8 347.0 L349.5 334.5 L350.0 322.0 L349.5 319.5 L349.2 317.0 L347.2 314.7 L349.6 312.0 L348.3 309.6 L348.8 307.0 L350.1 304.6 L348.3 301.9 L348.2 299.4 L350.8 297.1 L350.0 294.5 L350.0 290.9 L352.5 288.2 L348.8 287.0 L347.1 284.7 L346.7 281.8 L344.8 279.6 L342.5 277.6 L342.5 274.5 L341.4 271.9 L339.8 269.6 L339.7 266.5 L337.9 264.3 L336.2 262.0 L338.1 258.9 L333.6 257.3 L334.4 254.5Z"/>
<path d="M1176.1 318.0 L1173.1 317.5 L1171.0 315.4 L1168.7 313.5 L1165.9 312.7 L1163.0 312.4 L1160.2 312.1 L1157.7 313.7 L1154.9 313.4 L1152.4 314.7 L1149.9 316.4 L1146.8 315.4 L1143.2 315.6 L1140.8 318.4 L1137.8 317.5 L1134.7 317.4 L1129.7 316.8 L1127.8 319.0 L1125.1 320.3 L1123.6 322.9 L1121.3 324.9 L1119.3 327.2 L1118.2 330.1 L1117.6 333.3 L1115.2 335.3 L1112.9 337.4 L1111.3 339.6 L1109.7 341.8 L1108.5 344.2 L1106.0 347.1 L1104.9 350.7 L1106.9 354.3 L1109.2 352.5 L1112.1 352.3 L1114.6 349.4 L1117.0 346.3 L1120.1 345.2 L1120.7 342.3 L1121.8 339.8 L1124.0 337.9 L1125.1 335.2 L1126.7 332.9 L1129.4 330.3 L1131.1 326.9 L1134.3 322.9 L1131.7 324.8 L1131.8 327.9 L1130.7 330.5 L1128.1 333.0 L1128.0 336.9 L1125.7 339.6 L1124.0 341.6 L1122.5 343.8 L1122.4 346.7 L1120.6 348.7 L1118.7 351.0 L1119.1 354.2 L1117.6 356.7 L1117.6 359.4 L1116.3 361.8 L1114.1 363.9 L1115.0 366.8 L1114.0 370.1 L1112.8 373.4 L1112.9 376.9 L1112.8 380.4 L1111.5 383.6 L1110.9 387.0 L1111.8 390.4 L1111.1 393.8 L1110.5 397.1 L1110.3 400.6 L1111.6 403.8 L1112.1 407.2 L1111.4 410.1 L1113.2 412.5 L1113.5 415.2 L1114.7 418.7 L1115.6 422.3 L1116.7 425.5 L1119.6 427.4 L1124.6 427.8 L1127.4 426.0 L1130.7 425.3 L1133.1 422.6 L1136.7 422.3 L1139.0 420.5 L1139.7 417.7 L1140.8 415.2 L1140.1 411.9 L1142.8 409.9 L1143.8 407.2 L1143.8 404.5 L1145.9 402.0 L1144.8 399.1 L1143.5 395.9 L1143.0 392.5 L1142.8 389.0 L1141.3 386.7 L1140.4 384.2 L1140.0 381.6 L1139.8 378.9 L1138.1 375.7 L1138.0 372.4 L1138.4 368.9 L1137.5 366.0 L1138.1 363.3 L1139.8 360.8 L1139.4 357.7 L1141.1 355.3 L1142.4 352.7 L1142.5 349.6 L1143.8 346.7 L1145.6 343.4 L1148.9 341.6 L1152.1 339.9 L1154.9 337.6 L1157.4 336.1 L1159.9 334.6 L1162.7 332.2 L1166.0 330.5 L1168.3 328.2 L1171.0 326.5 L1173.3 324.5 L1173.1 321.4Z"/>
<path d="M1358.7 485.1 L1356.6 487.0 L1354.8 489.1 L1352.3 490.4 L1350.3 492.4 L1352.0 495.5 L1349.4 498.0 L1350.4 501.3 L1350.3 504.8 L1351.8 507.6 L1350.1 510.0 L1349.4 512.6 L1350.7 515.0 L1352.5 517.1 L1355.7 520.4 L1356.6 523.0 L1356.0 525.7 L1356.8 528.3 L1357.9 531.2 L1356.8 534.3 L1357.6 537.3 L1358.6 540.4 L1357.3 543.3 L1356.8 546.2 L1357.4 549.4 L1358.7 552.4 L1361.7 554.1 L1361.8 551.2 L1361.0 548.5 L1359.5 544.0 L1359.9 540.6 L1360.6 537.3 L1363.7 534.6 L1363.9 530.5 L1364.6 526.1 L1361.5 522.7 L1359.5 520.7 L1358.1 518.2 L1356.1 514.3 L1357.2 510.4 L1356.3 507.1 L1356.1 503.6 L1353.2 501.3 L1355.0 498.0 L1357.0 495.5 L1356.1 492.4 L1356.9 489.5 L1358.3 486.8 L1360.6 483.7Z"/>
<path stroke-width="4.1" d="M348.8 307.0 L351.9 306.3 L354.4 309.0 L357.5 308.2 L359.7 310.0 L362.5 309.6 L365.3 308.8 L367.5 310.8 L369.7 313.6 L372.5 315.8 L374.3 318.7 L375.0 322.0 L377.8 321.7 L379.7 324.4 L383.1 322.3 L385.0 325.0 L387.5 325.3 L390.0 325.0 L392.7 326.3 L395.0 324.5 L397.5 324.0 L399.9 321.9 L402.4 322.9 L405.0 323.6 L407.5 323.7 L410.0 323.2 L412.6 323.7 L414.7 320.6 L417.5 321.7 L420.1 322.5 L422.7 322.6 L425.0 320.8 L428.0 321.8 L429.9 319.1 L432.8 319.8 L435.4 319.7 L437.5 317.5 L440.2 318.1 L442.6 317.2 L445.2 316.8 L447.4 314.8 L450.0 315.0 L452.4 313.4 L455.1 315.4 L457.5 313.9 L460.0 314.0 L462.4 313.2 L465.0 313.5 L480.0 313.2 L495.8 313.2"/>
<path d="M495.8 235.0 L495.8 313.2"/>
<path stroke-width="4.1" d="M495.8 313.2 L498.1 314.2 L500.0 315.8 L502.3 318.5 L505.0 320.8 L506.2 323.8 L505.5 327.0 L504.6 329.5 L503.6 331.9 L503.0 334.5 L502.1 337.0 L501.7 339.8 L500.0 342.0 L497.0 344.0 L495.0 347.0 L492.5 348.9 L493.9 352.2 L492.5 354.5 L492.0 357.9 L493.8 360.8 L497.0 363.2"/>
<path d="M497.0 363.2 L497.0 419.5"/>
<path d="M342.5 419.5 L621.2 419.5"/>
<path d="M432.5 419.5 L433.0 498.8 L545.0 601.2"/>
<path d="M558.8 419.5 L558.8 552.5"/>
<path stroke-width="4.1" d="M558.8 552.5 L558.8 572.5 L555.8 573.7 L553.8 576.2 L550.9 578.3 L548.6 576.1 L546.2 575.0 L545.5 577.8 L543.8 580.0 L543.4 582.6 L544.2 585.0 L544.3 587.6 L545.0 590.0 L544.4 592.8 L545.9 595.6 L545.7 598.4 L545.0 601.2 L547.3 603.7 L547.7 607.0 L548.8 610.0 L550.4 611.9 L551.6 614.1 L553.8 615.6 L554.0 618.5 L556.2 620.0 L554.9 622.4 L553.9 624.8 L555.0 627.5 L552.8 629.6 L551.5 632.4 L550.0 635.0 L548.5 637.3 L547.6 639.8 L547.7 642.7 L546.2 645.0 L544.7 647.4 L544.0 649.8 L543.4 652.3 L545.0 655.0 L546.2 657.5 L547.5 660.0 L544.8 662.3 L542.5 665.0"/>
<path stroke-width="4.1" d="M517.0 235.0 L517.0 259.5 L518.5 262.2 L520.7 264.5 L522.5 267.0 L522.8 269.7 L524.3 272.0 L525.0 274.5 L527.0 275.9 L527.7 278.9 L530.5 279.3 L532.5 280.8 L534.3 282.7 L535.7 285.1 L538.0 286.5 L540.0 288.2 L541.9 290.5 L544.2 292.4 L546.2 294.5 L549.8 294.7 L552.5 297.0 L552.5 299.5 L553.6 302.0 L552.3 304.5 L552.5 307.0 L552.7 309.9 L550.0 311.7 L550.0 314.5 L548.5 316.8 L548.1 319.4 L547.5 322.0 L550.0 325.8 L552.5 325.1 L555.0 324.5 L557.7 323.6 L560.0 322.0 L563.4 323.4 L563.8 327.0 L565.6 329.2 L565.5 332.0 L566.2 334.5 L567.6 337.2 L569.6 339.5 L571.2 342.0 L575.0 344.5 L577.7 346.4 L578.8 349.5 L579.9 351.7 L581.6 353.5 L582.5 355.8 L584.7 354.0 L587.6 354.4 L590.0 353.2 L592.5 352.7 L595.1 353.7 L597.6 352.9 L600.0 352.0 L602.5 352.7 L605.0 352.3 L607.5 351.2 L610.0 352.0 L611.9 348.9 L615.0 347.0 L617.9 347.9 L618.8 350.8 L621.2 353.2"/>
<path d="M621.6 341.0 L621.6 446.6"/>
<path d="M621.6 341.0 L769.1 341.0"/>
<path d="M621.6 446.6 L811.2 446.6"/>
<path d="M769.1 235.4 L769.1 446.6"/>
<path d="M663.8 446.6 L663.8 701.8"/>
<path d="M558.7 552.1 L967.7 552.1"/>
<path d="M811.2 446.6 L811.2 552.1"/>
<path d="M811.2 472.9 L950.0 472.0"/>
<path d="M791.2 552.1 L791.2 684.1"/>
<path d="M791.2 684.1 L715.0 684.2"/>
<path d="M715.0 684.2 L715.0 688.5"/>
<path d="M791.2 565.3 L854.4 565.3 L854.4 616.5"/>
<path stroke-width="5.2" d="M855.0 615.0 L855.2 619.9 L860.0 618.8 L862.7 617.8 L865.0 619.3 L867.5 620.0 L869.7 621.6 L871.2 623.8 L874.3 624.7 L877.4 625.6 L880.0 627.5 L883.1 625.8 L885.3 627.5 L887.9 627.6 L890.0 630.0 L892.6 631.1 L895.4 631.7 L897.5 633.8 L900.1 633.3 L902.5 634.9 L905.0 635.0 L907.7 635.1 L909.6 637.8 L912.5 637.5 L914.8 635.8 L917.6 635.3 L920.0 633.8 L923.0 633.0 L924.7 636.2 L927.5 636.2 L930.1 636.1 L932.4 637.6 L935.0 637.5 L937.7 636.2 L939.9 634.0 L942.5 632.5 L945.0 632.5 L947.4 631.4 L950.2 633.3 L952.5 631.2 L954.5 633.6 L957.2 634.3 L960.0 635.0 L963.2 634.9 L965.6 636.3 L967.5 638.8 L970.4 639.2 L972.5 641.2 L975.1 641.3 L977.4 642.6 L980.0 642.5 L981.4 644.9 L978.9 647.6 L980.6 650.0 L983.4 652.3 L981.6 655.0 L981.2 657.5"/>
<path stroke-width="4.1" d="M981.2 657.5 L983.7 660.1 L981.9 662.8 L981.7 665.4 L981.2 668.0 L982.0 670.4 L981.9 673.0 L982.2 675.5 L982.6 678.0 L980.9 680.6 L982.5 683.0 L982.7 686.0 L986.0 687.5 L985.2 691.0 L987.5 693.0 L989.5 695.2 L989.3 697.8 L987.6 700.8 L991.6 702.6 L990.0 705.5 L989.2 707.9 L990.7 710.6 L989.4 713.0 L989.2 715.5 L988.8 718.0 L986.1 719.8 L987.0 723.3 L985.0 725.5 L985.9 728.0 L986.1 730.7 L987.5 733.0 L986.5 735.5 L985.7 738.1 L983.8 740.2 L982.5 742.5"/>
<path d="M981.2 657.5 L1038.8 657.5"/>
<path d="M972.5 641.2 L971.2 595.0 L968.8 565.0"/>
<path d="M968.8 565.0 L968.8 552.0"/>
<path d="M968.8 552.0 L967.5 495.0"/>
<path stroke-width="4.1" d="M967.5 495.0 L965.0 493.8 L963.8 491.6 L963.2 489.0 L960.5 487.6 L960.0 485.0 L960.0 482.4 L961.1 480.0 L961.2 477.5 L959.0 476.0 L957.0 474.3 L955.0 472.5 L953.3 470.0 L951.1 467.9 L950.0 465.0 L947.8 462.9 L947.3 459.8 L944.5 458.0 L943.8 455.0 L944.2 452.2 L942.7 449.9 L940.7 447.8 L941.2 445.0"/>
<path d="M768.8 315.8 L926.2 315.8"/>
<path d="M768.8 394.0 L885.0 394.0"/>
<path stroke-width="4.1" d="M885.0 394.0 L888.0 395.7 L891.2 397.0 L894.3 398.6 L897.5 400.0 L900.2 399.9 L902.8 399.6 L904.9 397.4 L907.5 397.0 L910.2 397.0 L912.6 397.7 L915.2 398.0 L917.5 399.5 L920.3 400.1 L922.4 402.2 L925.0 403.2"/>
<path stroke-width="4.1" d="M912.5 235.0 L913.1 237.4 L914.2 239.6 L915.1 241.9 L915.0 244.5 L914.5 247.0 L915.2 249.5 L915.6 252.0 L914.5 254.5 L915.4 257.0 L916.2 259.4 L917.7 261.7 L917.5 264.5 L917.7 267.3 L918.6 269.8 L920.2 272.0 L921.2 274.5 L922.0 287.0 L922.3 289.5 L922.4 292.1 L923.4 294.5 L923.8 297.0 L923.6 299.7 L923.5 302.4 L925.5 304.5 L926.2 307.0 L926.2 310.0 L926.2 313.0 L927.5 315.8 L926.2 317.9 L925.2 320.2 L922.1 320.8 L921.2 323.2 L924.8 324.6 L926.2 328.2 L926.6 331.2 L929.5 332.0"/>
<path d="M929.5 332.0 L929.5 379.5"/>
<path stroke-width="4.1" d="M929.5 379.5 L926.2 382.0 L925.8 384.6 L926.9 387.0 L927.5 389.5 L927.0 392.0 L925.0 394.2 L926.2 397.0 L926.5 400.3 L925.0 403.2 L927.2 404.7 L928.0 407.1 L928.8 409.5 L930.0 411.9 L931.5 414.2 L931.4 417.1 L932.5 419.5 L933.3 422.0 L935.1 424.2 L933.8 427.5 L936.2 429.5 L938.4 431.5 L939.2 434.1 L938.7 437.1 L940.0 439.5 L941.4 442.2 L942.5 445.0"/>
<path d="M929.5 379.5 L1040.0 379.5"/>
<path stroke-width="5.2" d="M1015.0 297.0 L1014.3 299.5 L1015.6 302.0 L1016.0 304.6 L1014.5 307.0 L1014.3 310.4 L1012.5 313.2 L1011.0 315.6 L1007.9 316.0 L1006.2 318.2 L1005.6 321.6 L1003.8 324.5 L1004.1 327.4 L1005.6 329.8 L1007.5 332.0 L1005.8 334.3 L1005.7 336.8 L1005.5 339.4 L1006.2 342.0 L1006.6 345.5 L1008.8 348.2 L1011.3 348.9 L1013.3 350.4 L1016.5 349.9 L1017.5 353.2 L1019.1 355.1 L1021.8 355.7 L1022.8 358.3 L1025.0 359.5 L1026.4 361.6 L1029.9 361.3 L1031.5 363.2 L1032.5 365.8 L1034.9 367.5 L1037.2 369.5 L1038.8 372.0 L1039.0 374.5 L1041.1 376.8 L1040.0 379.5 L1040.8 382.0 L1043.7 383.8 L1042.5 387.0 L1044.8 390.0 L1040.7 391.8 L1041.2 394.5 L1044.3 396.1 L1045.1 399.1 L1046.2 402.0 L1049.7 402.1 L1052.3 403.8 L1053.8 407.0 L1055.9 408.7 L1057.5 410.8 L1058.8 413.2 L1058.9 415.9 L1060.8 417.7 L1062.5 419.5 L1062.2 422.7 L1061.2 425.8 L1058.5 426.7 L1056.2 428.0 L1055.0 430.8 L1052.3 431.6 L1050.2 433.7 L1047.5 434.5 L1044.6 436.2 L1043.8 439.5 L1042.2 442.7 L1045.0 445.0"/>
<path stroke-width="5.2" d="M1045.0 445.0 L1042.8 446.3 L1040.1 447.3 L1039.4 449.9 L1038.8 452.5 L1035.6 453.5 L1033.8 456.2 L1035.5 458.9 L1035.8 461.7 L1034.8 464.7 L1035.0 467.5 L1038.0 469.2 L1037.6 472.2 L1036.8 475.4 L1038.8 477.5 L1041.1 479.5 L1041.3 482.9 L1044.9 484.1 L1045.0 487.5 L1046.8 489.7 L1046.3 493.1 L1048.5 495.1 L1050.0 497.5 L1052.3 499.5 L1053.8 502.7 L1057.5 502.5 L1057.2 505.7 L1061.0 507.0 L1061.2 510.0 L1058.4 511.7 L1059.5 515.4 L1057.5 517.5 L1059.4 519.4 L1061.2 521.3 L1062.1 524.1 L1065.0 525.0 L1067.9 525.8 L1068.3 529.2 L1070.1 531.1 L1072.5 532.5 L1072.4 535.4 L1074.6 537.4 L1074.1 540.5 L1076.2 542.5 L1078.9 543.4 L1079.5 547.0 L1082.5 547.5 L1082.9 550.1 L1085.9 551.9 L1085.0 555.0 L1082.7 557.2 L1081.2 560.0 L1079.0 561.5 L1077.4 563.7 L1075.0 565.0 L1075.3 567.7 L1074.1 570.1 L1074.9 573.0 L1072.5 575.0 L1069.3 576.5 L1071.3 580.7 L1069.5 582.9 L1067.5 585.0 L1064.9 586.8 L1064.3 589.7 L1062.9 592.1 L1062.5 595.0 L1059.8 596.9 L1061.2 600.1 L1060.0 602.5 L1059.5 605.8 L1055.8 606.9 L1055.0 610.0 L1052.8 612.0 L1052.9 615.2 L1052.7 618.2 L1050.0 620.0 L1047.3 621.8 L1046.8 624.7 L1047.8 628.3 L1045.0 630.0 L1042.8 632.0 L1044.2 635.8 L1041.8 637.8 L1040.0 640.0 L1041.1 642.7 L1040.2 645.1 L1040.2 647.6 L1038.8 650.0 L1040.4 652.3 L1039.5 655.3 L1041.2 657.5 L1041.5 660.2 L1041.7 662.9 L1041.8 665.7 L1043.8 668.0"/>
<path d="M943.8 456.2 L1033.8 456.2"/>
<path d="M1053.8 406.5 L1111.2 406.5"/>
<path stroke-width="4.1" d="M1058.1 299.3 L1060.7 300.4 L1062.9 302.2 L1065.1 303.9 L1067.0 306.3 L1070.2 306.3 L1072.4 307.7 L1074.7 308.8 L1077.2 309.0 L1079.6 309.7 L1082.3 309.3 L1085.3 308.5 L1086.9 311.7 L1089.5 312.0 L1092.0 312.6 L1094.4 313.4 L1097.1 313.9 L1099.6 315.0 L1101.8 316.8 L1104.5 317.4 L1105.9 320.4 L1108.5 322.5 L1110.8 325.1 L1110.5 328.5 L1112.5 332.5 L1113.4 334.8 L1114.6 337.0"/>
<path d="M1116.6 423.3 L1117.0 445.0"/>
<path d="M1117.0 445.0 L1116.2 490.0"/>
<path stroke-width="4.1" d="M1116.2 490.0 L1116.1 492.6 L1115.0 495.0 L1115.6 497.6 L1114.0 500.0 L1114.4 502.5 L1113.8 505.0 L1113.1 507.8 L1112.0 510.3 L1109.8 512.4 L1108.8 515.0 L1107.9 517.5 L1107.9 520.4 L1106.7 522.8 L1105.0 525.0 L1104.6 527.5 L1103.8 530.0"/>
<path d="M1136.7 425.3 L1175.1 425.7 L1205.3 425.3"/>
<path d="M1175.1 425.7 L1175.5 496.2"/>
<path stroke-width="5.2" d="M1082.5 547.5 L1085.2 547.2 L1087.1 544.5 L1090.0 545.0 L1093.0 546.2 L1096.2 546.2 L1096.5 542.7 L1098.8 540.0 L1103.2 542.0 L1105.0 537.5 L1103.4 535.2 L1103.2 532.7 L1103.8 530.0 L1106.0 528.9 L1107.3 526.5 L1110.0 526.2 L1112.6 527.0 L1115.3 527.9 L1117.4 524.8 L1120.0 525.0 L1122.4 526.9 L1125.4 527.8 L1127.5 530.0 L1130.0 528.3 L1133.5 528.2 L1135.0 525.0 L1137.8 524.2 L1138.4 520.8 L1141.2 520.0 L1143.6 523.1 L1147.5 522.5 L1150.8 522.1 L1152.9 519.7 L1155.0 517.5"/>
<path stroke-width="5.2" d="M1150.0 521.2 L1151.2 518.5 L1153.8 516.9 L1154.8 514.0 L1157.5 512.5 L1159.6 510.8 L1160.5 508.0 L1162.5 506.2 L1164.0 502.6 L1167.9 505.5 L1170.1 503.7 L1172.5 502.5 L1175.3 500.0 L1175.5 496.2 L1179.0 496.0 L1182.5 496.2 L1184.2 498.3 L1185.2 501.0 L1187.8 502.3 L1190.0 503.8 L1192.8 505.0 L1194.8 509.4 L1198.8 506.2 L1201.7 506.4 L1204.6 507.3 L1207.5 507.5 L1210.7 508.8 L1212.2 504.8 L1215.0 505.0 L1217.7 506.2 L1219.8 508.0 L1220.0 511.2 L1223.0 509.2 L1225.0 506.2 L1228.4 505.8 L1231.2 503.8 L1233.3 502.2 L1232.2 498.7 L1235.0 497.5 L1237.9 496.9 L1240.1 495.4 L1241.2 492.5 L1243.2 490.7 L1245.4 489.2 L1247.5 487.5 L1250.5 486.6 L1252.8 484.6 L1255.0 482.5 L1257.4 480.5 L1257.2 476.7 L1260.0 475.0 L1260.4 472.4 L1259.7 469.6 L1262.7 467.7 L1262.5 465.0 L1263.6 462.6 L1263.1 460.0 L1264.0 457.6 L1264.0 455.0"/>
<path d="M1266.2 419.5 L1265.5 478.8"/>
<path d="M1265.5 478.8 L1366.7 479.6"/>
<path d="M968.8 565.0 L1062.5 565.0"/>
<path stroke-width="4.1" d="M1062.5 565.0 L1065.1 566.8 L1065.0 570.0 L1062.7 571.6 L1062.0 574.4 L1060.0 576.2 L1062.5 576.3 L1065.0 577.3 L1067.5 575.5 L1070.0 576.2"/>
<path d="M1081.2 560.5 L1083.8 561.7 L1086.5 561.0 L1089.1 561.2 L1091.7 561.9 L1094.5 560.6 L1097.0 562.3 L1099.7 562.1 L1102.3 563.2 L1105.0 562.5 L1107.5 560.5"/>
<path d="M1107.5 560.5 L1145.0 561.2 L1238.8 562.5 L1362.5 563.0"/>
<path d="M1060.0 603.0 L1183.8 603.0"/>
<path d="M1183.8 603.0 L1186.5 603.2 L1189.1 603.5 L1191.7 604.5 L1194.4 604.6 L1197.2 604.0 L1199.7 605.2 L1202.2 606.9 L1205.0 606.2"/>
<path d="M1105.0 603.0 L1102.5 635.0 L1098.0 668.0"/>
<path d="M1098.0 668.0 L1098.0 668.0"/>
<path d="M1098.0 668.0 L1100.0 726.0"/>
<path d="M1157.0 603.0 L1163.8 645.0"/>
<path stroke-width="4.1" d="M1163.8 645.0 L1164.6 647.5 L1166.0 649.9 L1165.2 652.8 L1168.3 654.8 L1169.2 657.3 L1167.9 660.3 L1168.5 662.9 L1169.1 665.5 L1170.0 668.0 L1168.8 668.0 L1170.4 670.7 L1170.5 673.8 L1171.2 676.8 L1171.7 680.1 L1169.4 682.5 L1168.8 685.5 L1170.0 688.2 L1168.3 690.5 L1167.6 693.0 L1167.5 695.5 L1169.5 697.8 L1168.6 700.4 L1167.7 703.1 L1168.8 705.5 L1168.0 708.3 L1171.4 710.2 L1170.3 713.1 L1171.2 715.5 L1172.0 719.2"/>
<path d="M1145.0 709.2 L1168.8 709.2"/>
<path d="M1115.0 710.5 L1155.0 709.2"/>
<path d="M1115.0 710.5 L1116.7 713.3 L1117.4 716.3 L1115.5 719.8 L1117.5 722.5"/>
<path d="M1172.0 719.2 L1230.0 721.8"/>
<path stroke-width="4.1" d="M1230.0 721.8 L1230.0 724.4 L1231.2 726.8 L1233.8 725.5 L1232.7 723.1 L1233.4 720.5 L1233.4 717.9 L1232.5 715.5 L1235.3 716.3 L1237.7 718.8 L1240.9 717.9 L1243.8 718.0"/>
<path stroke-width="4.1" d="M1041.2 668.0 L1045.0 669.2 L1044.0 672.9 L1045.0 675.5 L1044.4 678.3 L1042.7 680.6 L1041.2 683.0 L1040.0 685.5 L1039.3 688.3 L1038.4 691.0 L1035.1 692.4 L1035.0 695.5 L1033.5 697.8 L1033.7 700.7 L1031.5 702.8 L1031.2 705.5 L1032.5 710.0"/>
<path d="M1032.5 710.0 L1070.0 710.0"/>
<path stroke-width="4.1" d="M1070.0 710.0 L1069.8 712.8 L1069.6 715.5 L1071.2 718.0 L1073.4 720.0 L1073.1 723.3 L1075.0 725.5 L1078.8 728.0"/>
<path stroke-width="4.1" d="M1238.8 563.0 L1237.1 565.7 L1233.8 566.9 L1232.5 570.0 L1230.1 571.4 L1228.5 574.4 L1225.0 573.7 L1222.5 575.0 L1221.7 577.9 L1218.9 578.3 L1216.9 579.7 L1215.0 581.2 L1212.7 582.8 L1210.6 585.0 L1207.5 585.0 L1205.5 587.2 L1202.9 588.2 L1200.1 589.0 L1197.5 590.0 L1194.3 590.6 L1192.1 592.8 L1190.0 595.0 L1187.8 597.3 L1185.0 598.8 L1183.8 603.0"/>
<path d="M1205.0 607.5 L1208.0 607.2 L1209.5 603.9 L1212.8 604.2 L1214.9 602.3 L1217.5 601.2 L1221.3 600.5 L1225.0 599.5"/>
<path d="M1225.0 599.5 L1252.5 600.0"/>
<path d="M1252.5 600.0 L1254.2 602.8 L1257.1 604.6 L1258.8 607.5 L1261.5 608.5 L1264.4 608.1 L1267.0 610.5 L1270.0 608.5 L1272.7 610.1 L1275.5 609.9 L1278.5 608.7 L1281.2 610.0"/>
<path d="M1281.2 610.0 L1307.5 633.8"/>
<path stroke-width="4.1" d="M1205.0 607.5 L1205.5 610.3 L1208.8 610.9 L1211.2 612.2 L1210.4 616.0 L1212.5 617.5 L1213.2 620.1 L1215.5 621.5 L1217.2 623.4 L1217.3 626.4 L1220.0 627.5 L1221.0 629.9 L1223.5 631.1 L1223.9 633.9 L1226.9 634.8 L1227.5 637.5 L1229.4 639.2 L1231.3 640.9 L1233.7 642.2 L1234.4 644.8 L1235.0 647.5 L1235.6 650.2 L1238.8 650.9 L1239.9 653.2 L1241.9 654.8 L1242.5 657.5 L1243.0 660.5 L1245.0 662.8 L1245.8 665.6 L1247.5 668.0 L1248.6 670.2 L1250.5 672.0 L1251.3 674.3 L1250.8 677.3 L1252.5 679.2 L1255.0 683.0"/>
<path stroke-width="4.1" d="M1220.0 511.2 L1220.1 514.1 L1219.3 517.1 L1220.0 520.0 L1223.9 521.2 L1221.6 525.5 L1224.2 527.3 L1225.0 530.0 L1224.9 533.4 L1228.5 534.1 L1229.6 536.6 L1231.2 538.8 L1232.9 541.3 L1236.0 542.3 L1237.5 545.0 L1234.6 545.5 L1232.8 548.0 L1229.5 547.7 L1227.5 550.0 L1224.7 550.6 L1222.3 552.1 L1220.3 554.4 L1217.5 555.0 L1215.8 556.7 L1213.6 557.9 L1213.1 561.1 L1210.0 561.2"/>
<path stroke-width="4.1" d="M1237.5 545.0 L1240.1 544.9 L1242.4 546.7 L1245.0 546.2 L1247.2 544.4 L1250.3 546.2 L1252.4 543.8 L1255.0 543.8 L1257.6 543.4 L1259.7 541.4 L1262.6 542.3 L1265.0 541.2 L1267.0 539.4 L1269.2 537.7 L1270.0 535.0 L1273.4 533.4 L1275.0 530.0 L1277.6 528.1 L1278.3 525.1 L1278.7 521.9 L1281.2 520.0 L1283.6 518.1 L1282.6 514.4 L1285.0 512.5 L1287.7 514.0 L1290.0 516.2 L1292.2 514.6 L1293.7 512.3 L1295.0 510.0 L1298.6 508.6 L1300.0 505.0 L1302.5 502.5 L1305.0 500.0 L1304.9 497.1 L1307.3 495.7 L1308.8 493.8 L1311.6 494.0 L1314.4 493.5 L1317.2 495.1 L1320.0 493.8"/>
<path stroke-width="4.1" d="M1287.5 478.8 L1287.5 492.5 L1289.9 490.7 L1291.8 488.2 L1295.2 488.2 L1297.5 486.2 L1299.6 484.3 L1303.1 485.9 L1305.1 483.7 L1307.5 482.5 L1310.6 482.6 L1312.0 485.9 L1314.0 488.3 L1317.5 487.5 L1320.5 489.9 L1320.0 493.8"/>
<path stroke-width="4.1" d="M1320.0 484.6 L1320.4 487.2 L1321.9 489.3 L1323.4 491.3 L1326.1 493.1 L1329.0 494.7 L1331.1 496.1 L1333.3 497.3 L1335.7 498.0 L1338.8 498.5 L1341.3 500.3 L1338.0 502.3 L1336.8 505.9 L1335.5 509.5 L1332.3 511.5 L1333.5 514.8 L1337.9 514.8 L1339.0 518.0 L1342.4 518.2 L1344.3 521.6 L1348.0 522.7 L1351.1 524.8 L1352.5 528.3"/>
<path d="M1366.7 479.6 L1367.7 514.5"/>
<path d="M1367.7 514.5 L1370.7 514.7 L1373.7 516.2 L1376.8 514.8 L1379.8 515.5"/>
<path d="M1281.2 413.2 L1281.3 416.4 L1281.2 419.5"/>
<path d="M1281.2 419.5 L1375.2 419.0"/>
<path stroke-width="4.1" d="M1375.2 419.0 L1377.6 421.5 L1379.3 424.5 L1379.8 428.0 L1382.3 430.5 L1383.8 432.6 L1384.3 435.2 L1385.3 437.6 L1384.1 439.8 L1384.2 442.3 L1383.3 444.6 L1383.1 447.3 L1382.5 449.8 L1380.3 451.7 L1382.6 453.7 L1382.3 456.7 L1384.8 458.7 L1385.3 461.8 L1388.3 464.1 L1388.3 467.8 L1384.3 469.9 L1381.6 472.0 L1378.2 472.9 L1376.0 474.0 L1374.2 475.5 L1372.2 476.9 L1369.2 479.9 L1366.1 478.9"/>
<path stroke-width="4.1" d="M1385.3 437.6 L1388.3 437.9 L1391.2 438.7 L1393.9 439.7 L1396.4 441.6 L1399.7 441.8 L1402.3 443.3 L1404.5 445.7 L1408.5 446.3"/>
<path d="M1414.5 340.2 L1414.2 370.0"/>
<path stroke-width="4.1" d="M1414.2 370.0 L1415.0 382.1 L1414.5 384.8 L1416.7 387.4 L1415.6 390.2 L1416.4 392.8 L1413.7 395.7 L1416.2 398.2 L1417.3 401.2 L1415.0 403.6 L1414.6 406.3 L1414.6 408.8 L1414.6 411.2 L1413.3 413.5 L1413.1 416.0 L1412.9 418.4 L1413.6 420.9 L1411.9 423.2 L1411.7 425.6 L1410.5 427.9 L1411.5 430.5 L1411.9 433.0 L1409.7 435.4 L1411.1 438.0 L1412.6 440.6 L1410.5 443.0"/>
<path stroke-width="4.1" d="M1457.5 333.2 L1456.2 336.0 L1455.9 339.1 L1455.0 342.0 L1454.8 344.8 L1452.3 346.7 L1452.6 349.7 L1451.2 352.0 L1448.9 353.4 L1448.3 356.0 L1446.2 357.6 L1444.8 359.6 L1443.8 362.0 L1442.4 364.3 L1442.8 367.3 L1440.1 369.2 L1440.0 372.0 L1438.8 370.0 L1437.7 372.7 L1435.0 374.7 L1435.7 378.1 L1434.6 380.5 L1433.7 383.0 L1434.5 385.9 L1433.1 388.2 L1433.3 391.2 L1432.6 394.0 L1433.6 397.1 L1432.3 399.9"/>
<path d="M1463.8 332.0 L1468.2 382.5"/>
<path d="M1468.2 382.5 L1469.8 385.5 L1469.5 388.8 L1470.1 392.0 L1470.6 395.2"/>
<path d="M1416.2 400.3 L1432.7 400.3"/>
<path d="M1432.7 400.3 L1458.9 400.3"/>
<path d="M1458.9 400.3 L1461.7 399.4 L1464.6 399.1 L1467.0 397.2 L1470.6 395.2"/>
<path d="M1412.9 419.0 L1458.9 419.0"/>
<path d="M1458.9 419.0 L1459.5 421.8 L1458.8 424.8 L1459.8 427.6 L1459.9 430.5"/>
<path d="M1450.3 419.0 L1450.3 436.6"/>
<path fill="#000" d="M366.7 244.6 L369.8 241.8 L374.3 242.0 L376.8 245.2 L375.4 249.1 L372.1 251.9 L368.2 251.0Z"/>
<path fill="#000" d="M369.8 275.4 L375.4 271.0 L382.7 273.2 L384.2 279.9 L379.7 285.0 L373.4 286.9 L369.6 283.9 L368.5 279.0Z"/>
<path fill="#000" d="M380.5 521.2 L385.8 522.0 L387.5 528.8 L383.0 529.5Z"/>
<path fill="#000" d="M1469.4 433.3 L1472.3 432.5 L1474.3 434.6 L1473.5 437.4 L1470.6 437.8 L1469.0 435.8Z"/>
<path fill="#000" d="M1482.7 437.4 L1485.6 436.2 L1488.0 438.2 L1487.2 440.6 L1484.0 441.0 L1482.3 439.4Z"/>
<path fill="#000" d="M1216.5 787.0 L1221.5 786.0 L1225.5 789.5 L1226.0 795.0 L1222.5 799.5 L1218.5 799.0 L1215.5 794.5 L1215.0 790.0Z"/>
<path fill="#000" d="M1227.0 816.0 L1230.5 815.0 L1233.0 817.5 L1232.5 820.5 L1229.0 821.5 L1226.5 819.0Z"/>
<path fill="#000" d="M1250.0 859.5 L1254.0 858.0 L1257.5 860.5 L1257.0 864.0 L1253.0 865.5 L1250.0 863.5Z"/>
<path fill="#000" d="M1157.5 335.8 L1161.0 335.0 L1163.0 339.5 L1162.5 345.8 L1159.5 348.2 L1156.5 345.8 L1156.0 339.5Z"/>
<path stroke-width="5.0" d="M378.5 246.0 L377.8 262.0 L376.5 275.8"/>
<path stroke-width="5.0" d="M374.9 236.2 L378.8 239.0 L381.6 242.9 L382.7 248.5 L381.1 254.1 L383.3 259.8 L385.0 265.4 L383.3 271.0 L379.9 275.4"/>
<path stroke-width="4.0" d="M374.3 251.9 L373.2 257.5 L373.8 263.1 L371.0 268.7 L369.8 274.3"/>
<path stroke-width="5.0" d="M383.0 525.0 L387.5 532.5 L390.5 539.5"/>
<path stroke-width="5.0" d="M961.5 742.5 L966.2 742.0 L967.0 748.5"/>
<path stroke-width="5.5" d="M922.0 774.2 L928.8 771.0 L935.5 769.0"/>
<path stroke-width="4.5" d="M1473.1 418.4 L1479.1 418.0 L1485.2 417.4 L1488.4 422.5 L1487.2 429.5 L1483.1 430.5"/>
<path stroke-width="4.5" d="M1344.5 568.9 L1344.5 579.0 L1350.5 575.0 L1356.6 571.0 L1360.6 577.0 L1354.6 581.0 L1360.6 585.1 L1364.6 581.0 L1365.7 589.1 L1358.6 593.1 L1350.5 591.1 L1340.4 593.1 L1346.5 599.2 L1338.4 603.2 L1350.5 605.2 L1352.5 609.3"/>
<path stroke-width="3.4" d="M1340.2 524.9 L1346.9 530.5 L1353.6 536.1"/>
<path stroke-width="3.4" d="M1342.4 538.4 L1348.0 542.9 L1353.6 547.4"/>
<path stroke-width="3.4" d="M1339.1 545.1 L1344.7 549.6 L1350.3 554.1 L1357.0 553.0"/>
<path stroke-width="3.4" d="M1346.9 492.4 L1348.0 503.6 L1346.9 512.6 L1352.5 518.2"/>
<path stroke-width="3.4" d="M1353.6 487.9 L1352.5 498.0 L1353.6 507.0 L1354.8 514.8"/>
<path stroke-width="4.0" d="M913.8 841.8 L912.5 833.0 L908.8 823.0 L906.2 813.0 L907.5 808.0 L901.5 805.5 L907.5 800.5 L907.5 793.0 L913.8 790.5 L915.0 784.2 L921.2 780.5 L925.0 773.0 L935.0 770.5 L945.0 765.5 L955.0 759.2"/>
<path stroke-width="5.2" d="M1397.0 457.5 L1411.0 454.4 L1423.2 451.3 L1435.3 447.6 L1448.0 443.0"/>
<path stroke-width="4.5" d="M1398.4 454.7 L1395.4 458.8 L1400.4 460.8"/>
<path stroke-width="4.0" d="M1056.2 730.5 L1060.0 733.5 L1068.8 738.0 L1073.8 734.2 L1080.0 732.0 L1081.5 738.0 L1075.0 739.5 L1070.5 745.5 L1077.5 755.5 L1079.0 762.0 L1084.0 763.0 L1086.2 758.0"/>
<path stroke-width="4.0" d="M348.8 287.0 L352.5 288.2 L350.0 294.5 L348.8 307.0"/>
<path stroke-width="4.0" d="M1104.5 726.8 L1107.5 716.8 L1110.0 728.0"/>
</g>
</svg></body></html>
